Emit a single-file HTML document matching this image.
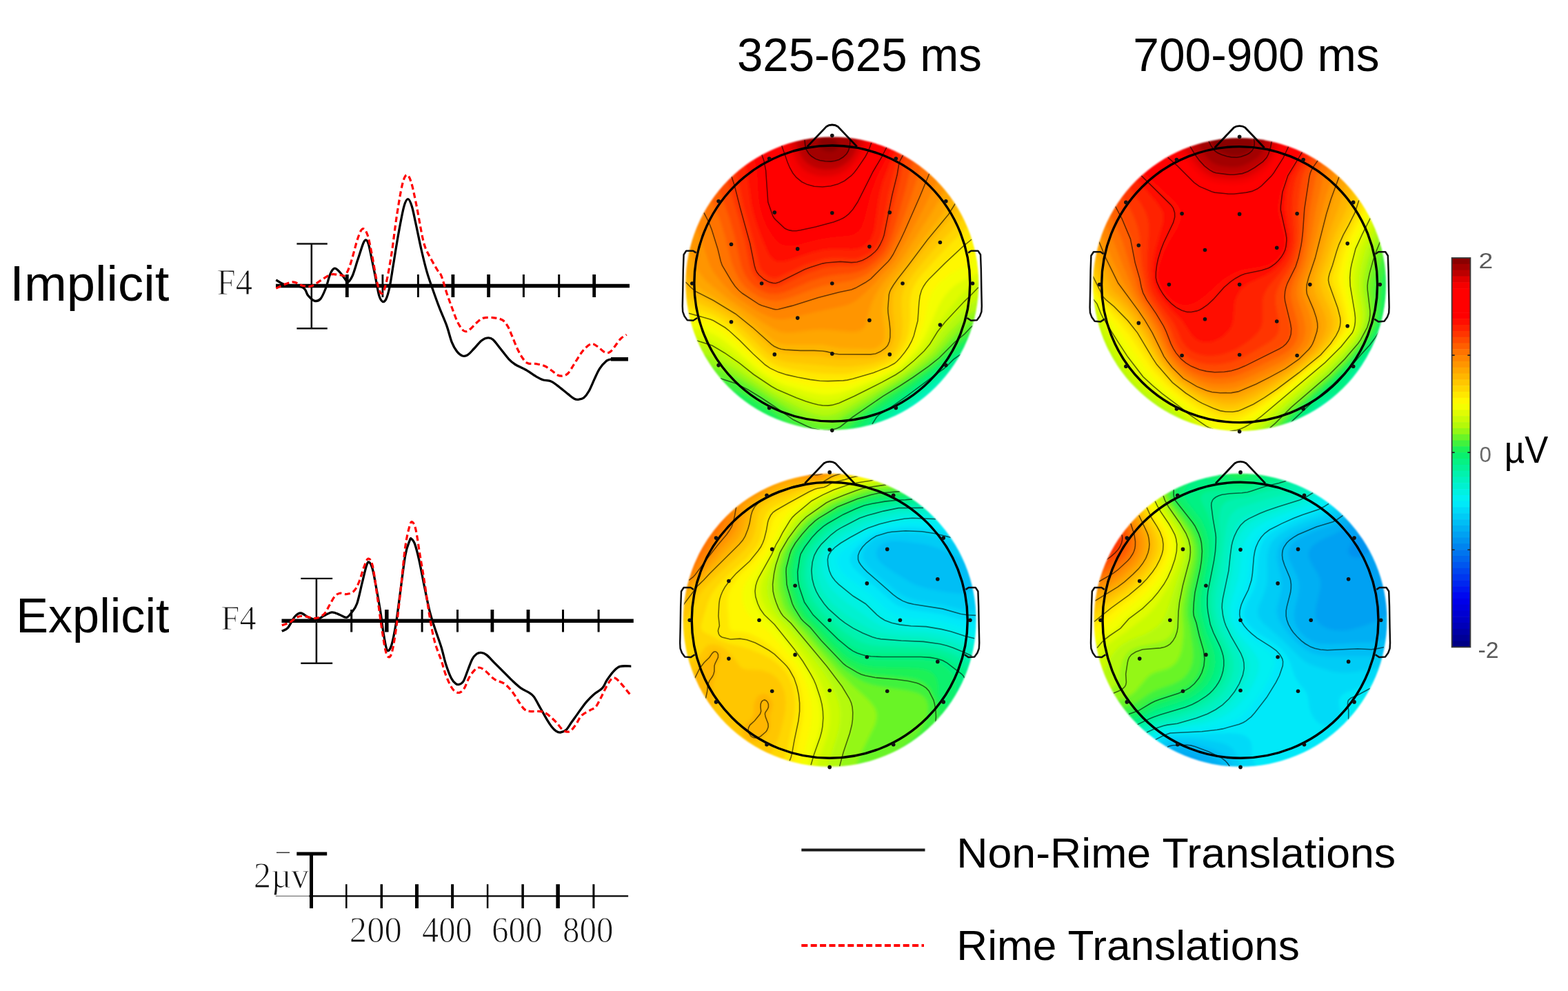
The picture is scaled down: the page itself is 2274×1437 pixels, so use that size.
<!DOCTYPE html>
<html lang="en">
<head>
<meta charset="utf-8">
<title>ERP waveforms and scalp topographies: Implicit vs Explicit, Rime vs Non-Rime Translations</title>
<style>
html,body{margin:0;padding:0;background:#fff;}
body{width:2274px;height:1437px;overflow:hidden;}
svg{display:block;}
text{white-space:pre;}
.sans{font-family:"Liberation Sans",sans-serif;}
.serif{font-family:"Liberation Serif",serif;}
</style>
</head>
<body>
<figure style="margin:0">
<svg width="2274" height="1437" viewBox="0 0 2274 1437">
<rect width="2274" height="1437" fill="#fff"/>
<g id="labels">
<text class="sans" x="1068.9" y="102.7" font-size="68" fill="#000" textLength="355.1" lengthAdjust="spacingAndGlyphs">325-625 ms</text>
<text class="sans" x="1643.3" y="102.7" font-size="68" fill="#000" textLength="357.4" lengthAdjust="spacingAndGlyphs">700-900 ms</text>
<text class="sans" x="14.3" y="435.5" font-size="72" fill="#000" textLength="231" lengthAdjust="spacingAndGlyphs">Implicit</text>
<text class="sans" x="23.2" y="916.7" font-size="71" fill="#000" textLength="222.4" lengthAdjust="spacingAndGlyphs">Explicit</text>
<text class="serif" x="314.5" y="426.7" font-size="51.9" fill="#111" textLength="51.6" lengthAdjust="spacingAndGlyphs" stroke="#fff" stroke-width="1.1" stroke-linejoin="round">F4</text>
<text class="serif" x="320.5" y="913.2" font-size="51.1" fill="#111" textLength="51.1" lengthAdjust="spacingAndGlyphs" stroke="#fff" stroke-width="1.1" stroke-linejoin="round">F4</text>
<text class="serif" x="367.8" y="1286.5" font-size="53.2" fill="#111" textLength="80.3" lengthAdjust="spacingAndGlyphs" stroke="#fff" stroke-width="1.1" stroke-linejoin="round">2µv</text>
<text class="serif" x="506.8" y="1365.6" font-size="52.6" fill="#111" textLength="76.1" lengthAdjust="spacingAndGlyphs" stroke="#fff" stroke-width="1.1" stroke-linejoin="round">200</text>
<text class="serif" x="611.9" y="1365.6" font-size="52.6" fill="#111" textLength="72.8" lengthAdjust="spacingAndGlyphs" stroke="#fff" stroke-width="1.1" stroke-linejoin="round">400</text>
<text class="serif" x="712.9" y="1365.6" font-size="52.6" fill="#111" textLength="73.6" lengthAdjust="spacingAndGlyphs" stroke="#fff" stroke-width="1.1" stroke-linejoin="round">600</text>
<text class="serif" x="816" y="1365.6" font-size="52.6" fill="#111" textLength="73.6" lengthAdjust="spacingAndGlyphs" stroke="#fff" stroke-width="1.1" stroke-linejoin="round">800</text>
<text class="sans" x="1387.3" y="1257.7" font-size="60.4" fill="#000" textLength="636.8" lengthAdjust="spacingAndGlyphs">Non-Rime Translations</text>
<text class="sans" x="1387.3" y="1392.4" font-size="60.4" fill="#000" textLength="497.6" lengthAdjust="spacingAndGlyphs">Rime Translations</text>
<text class="sans" x="2144.6" y="388.8" font-size="32" fill="#5a5a5a" textLength="20.7" lengthAdjust="spacingAndGlyphs">2</text>
<text class="sans" x="2145.6" y="670" font-size="32" fill="#6a6a6a" textLength="17.4" lengthAdjust="spacingAndGlyphs">0</text>
<text class="sans" x="2143.4" y="953.6" font-size="32.8" fill="#5a5a5a" textLength="30.1" lengthAdjust="spacingAndGlyphs">-2</text>
<text class="sans" x="2181.8" y="670.7" font-size="54.6" fill="#000" textLength="63.4" lengthAdjust="spacingAndGlyphs">µV</text>
</g>
<g id="erp-waveforms" fill="none">
<line x1="400" y1="414.5" x2="913" y2="414.5" stroke="#000" stroke-width="5.5"/>
<line x1="503.3" y1="398" x2="503.3" y2="431" stroke="#000" stroke-width="4.8"/>
<line x1="554.9" y1="398" x2="554.9" y2="431" stroke="#000" stroke-width="2.8"/>
<line x1="606.4" y1="398" x2="606.4" y2="431" stroke="#000" stroke-width="2.8"/>
<line x1="656.9" y1="398" x2="656.9" y2="431" stroke="#000" stroke-width="4.8"/>
<line x1="708.6" y1="398" x2="708.6" y2="431" stroke="#000" stroke-width="4.8"/>
<line x1="759.4" y1="398" x2="759.4" y2="431" stroke="#000" stroke-width="3"/>
<line x1="810.7" y1="398" x2="810.7" y2="431" stroke="#000" stroke-width="3"/>
<line x1="861.7" y1="398" x2="861.7" y2="431" stroke="#000" stroke-width="4.8"/>
<line x1="451.8" y1="353.5" x2="451.8" y2="476.5" stroke="#111" stroke-width="2.6"/>
<line x1="430.4" y1="353.5" x2="474.8" y2="353.5" stroke="#111" stroke-width="2.4"/>
<line x1="430.4" y1="476.3" x2="474.8" y2="476.3" stroke="#111" stroke-width="2.4"/>
<path d="M400.3 405.9C402.4 407.1 406.8 411.1 413.2 412.9C419.6 414.7 433.3 414.2 438.9 416.8C444.5 419.4 443.9 425.2 446.7 428.4C449.5 431.6 452.7 435.2 455.7 436.1C458.7 437 461.9 436.5 464.7 433.5C467.5 430.5 470 424 472.4 418C474.8 412 476.8 402.2 478.9 397.4C481 392.6 482.9 389.6 485.3 389.2C487.7 388.8 490.4 392.2 493 394.9C495.6 397.6 498.9 402.8 500.8 405.2C502.7 407.6 502.9 409.9 504.6 409C506.3 408.1 508.7 405.4 511.1 400C513.5 394.6 516.2 384.5 518.8 376.8C521.4 369.1 524.6 358.4 526.5 353.6C528.4 348.8 529.1 348 530.4 348C531.7 348 532.8 348.8 534.3 353.6C535.8 358.4 537.7 368.6 539.4 376.8C541.1 385 542.9 394 544.6 402.6C546.3 411.2 548 422.6 549.7 428.4C551.4 434.2 553.2 436.5 554.9 437.4C556.6 438.2 558.3 437.1 560 433.5C561.7 429.9 563.5 423.6 565.2 415.5C566.9 407.4 568.2 397.5 570.3 384.6C572.4 371.7 575.4 352.4 578 338.2C580.6 324 583.5 307.9 585.8 299.6C588.1 291.4 589.8 288.7 591.7 288.7C593.6 288.7 595.4 293.1 597.4 299.6C599.4 306.1 601.4 317.2 603.8 327.9C606.1 338.6 608.9 352.8 611.5 364C614.1 375.2 616.7 385.9 619.3 394.9C621.9 403.9 624 409.4 627 418C630 426.6 633.8 437.4 637.3 446.4C640.8 455.4 644.7 463.6 647.7 471.9C650.7 480.2 652.8 490 655.3 496.4C657.8 502.8 660.5 506.8 663 510.1C665.5 513.4 668.1 515.2 670.6 516C673.1 516.8 675.5 516.5 678.3 514.7C681.1 513 684.2 508.9 687.5 505.5C690.8 502.1 694.9 496.6 698.2 494C701.5 491.4 704.6 490.1 707.4 489.9C710.2 489.6 712 489.9 715 492.5C718 495.1 721.9 500.8 725.7 505.5C729.5 510.2 734.4 517 738 520.8C741.6 524.6 743.1 525.9 747.2 528.5C751.3 531.1 757.4 533.3 762.5 536.2C767.6 539.1 773.7 543.7 777.8 546.1C781.9 548.5 783.4 549.6 787 550.7C790.6 551.9 795.6 551.6 799.2 553C802.8 554.4 804.3 556 808.4 559.1C812.5 562.2 819.6 568.2 823.7 571.4C827.8 574.6 830.4 577 832.9 578.3C835.4 579.6 836.7 579.6 839 579.3C841.3 579 844.2 578.8 846.7 576.7C849.2 574.6 851.8 571.3 854.3 566.8C856.8 562.3 859.5 555.3 862 549.9C864.5 544.5 866.8 538.9 869.6 534.6C872.4 530.3 876 526.2 878.8 523.9C881.6 521.6 881.3 521.3 886.5 520.8C891.7 520.3 906.2 520.8 910.2 520.8" fill="none" stroke="#000" stroke-width="3.3" stroke-linejoin="round" stroke-linecap="butt"/>
<line x1="886" y1="520.8" x2="911" y2="520.8" stroke="#000" stroke-width="5.5"/>
<path d="M400.3 418C404.2 416.5 417.1 409.6 423.5 409C429.9 408.4 434.2 413.2 438.9 414.2C443.6 415.2 447.1 416.3 451.8 414.8C456.5 413.3 462.6 408 467.3 405.2C472 402.4 475.9 399.1 480.2 398C484.5 396.9 489.6 398.6 493 398.7C496.4 398.8 498.2 401.5 500.8 398.7C503.4 395.9 505.5 390.8 508.5 382C511.5 373.2 515.9 354.3 518.8 345.9C521.7 337.5 523.6 332.6 526 331.8C528.4 331 530.8 334.6 533 340.8C535.2 347 537 357.5 539.4 369.1C541.8 380.7 544.7 400.9 547.1 410.3C549.5 419.8 551.5 425.8 553.6 425.8C555.8 425.8 557.6 419.8 560 410.3C562.4 400.9 565.1 385.4 567.7 369.1C570.3 352.8 572.9 329.1 575.5 312.4C578.1 295.6 580.9 278.4 583.2 268.6C585.6 258.8 587.5 254.5 589.6 253.7C591.8 252.8 593.7 256.3 596.1 263.5C598.5 270.7 601.2 284.6 603.8 297C606.4 309.4 609.4 327.9 611.5 338.2C613.6 348.5 614.6 352.8 616.7 358.8C618.9 364.8 621.4 368.7 624.4 374.3C627.4 379.9 632.1 388 634.7 392.3C637.3 396.6 637.8 394.5 640 399.9C642.2 405.2 645.2 416.8 647.7 424.4C650.2 432 652.8 438.9 655.3 445.8C657.8 452.7 660.5 460.3 663 465.7C665.5 471.1 668.4 475.5 670.6 478C672.8 480.5 674 481 676 480.7C678 480.4 680.2 478.6 682.9 476.4C685.6 474.2 689 469.9 692 467.3C695 464.8 697.1 462.2 701.2 461.1C705.3 460 711.9 460.3 716.5 460.8C721.1 461.3 725.5 462.1 728.8 464.2C732.1 466.3 734.2 469.6 736.5 473.4C738.8 477.2 740.3 481.8 742.6 487.2C744.9 492.6 747.7 500.1 750.2 505.5C752.8 510.9 755.4 515.8 757.9 519.3C760.4 522.8 762.2 525.3 765.5 526.7C768.8 528.1 773.7 527 777.8 527.7C781.9 528.4 786.2 529.1 790 530.8C793.8 532.5 797.6 535.5 800.7 537.7C803.8 539.9 805.9 542.6 808.4 543.8C810.9 545 813.5 545.4 816 545C818.5 544.6 821.1 544 823.7 541.5C826.3 539 828.9 534 831.4 530C833.9 526 836.5 521.6 839 517.8C841.5 514 843.6 510.3 846.7 507.1C849.8 503.9 854.1 499.4 857.4 498.6C860.7 497.8 863.3 500.4 866.6 502.5C869.9 504.6 874.2 509.6 877.3 510.9C880.4 512.2 882.5 511.8 885 510.1C887.5 508.4 890.1 504.1 892.6 500.9C895.1 497.7 897.6 493.6 900.3 491C903 488.4 907.3 486.2 908.7 485.3" fill="none" stroke="#f00" stroke-width="3.2" stroke-dasharray="8 4.5" stroke-linejoin="round"/>
<line x1="408.5" y1="900.2" x2="918.8" y2="900.2" stroke="#000" stroke-width="5.5"/>
<line x1="509.7" y1="884" x2="509.7" y2="916.5" stroke="#000" stroke-width="3"/>
<line x1="560.8" y1="884" x2="560.8" y2="916.5" stroke="#000" stroke-width="5.5"/>
<line x1="612.1" y1="884" x2="612.1" y2="916.5" stroke="#000" stroke-width="3"/>
<line x1="663.5" y1="884" x2="663.5" y2="916.5" stroke="#000" stroke-width="3"/>
<line x1="713.9" y1="884" x2="713.9" y2="916.5" stroke="#000" stroke-width="4.8"/>
<line x1="766" y1="884" x2="766" y2="916.5" stroke="#000" stroke-width="4.8"/>
<line x1="816.5" y1="884" x2="816.5" y2="916.5" stroke="#000" stroke-width="3"/>
<line x1="868.1" y1="884" x2="868.1" y2="916.5" stroke="#000" stroke-width="3"/>
<line x1="458.9" y1="838.9" x2="458.9" y2="961.7" stroke="#111" stroke-width="2.6"/>
<line x1="436.3" y1="838.9" x2="482.2" y2="838.9" stroke="#111" stroke-width="2.4"/>
<line x1="436.3" y1="961.7" x2="482.2" y2="961.7" stroke="#111" stroke-width="2.4"/>
<path d="M408.8 915.3C410.2 914.5 414.4 913.8 417.5 910.3C420.6 906.8 424.5 897.5 427.6 894C430.7 890.5 433 888.8 436.3 889C439.6 889.2 443.8 893.8 447.6 895.3C451.4 896.8 455.1 898.7 458.9 898.3C462.6 897.9 466.4 894.5 470.1 892.8C473.9 891 477.6 888 481.4 887.8C485.2 887.6 489.1 890.2 492.7 891.5C496.2 892.8 499.8 895.9 502.7 895.3C505.6 894.7 507.7 891.1 510.2 887.8C512.7 884.5 515.2 882.4 517.7 875.3C520.2 868.2 522.9 854.4 525.2 845.2C527.5 836 529.8 825.2 531.5 820.2C533.2 815.2 533.8 814.3 535.3 815.1C536.8 815.9 538.6 819.4 540.3 825.2C542 831.1 543.4 840.2 545.3 850.2C547.2 860.2 549.6 873.6 551.5 885.3C553.4 897 554.8 910.7 556.5 920.3C558.2 929.9 559.6 940.4 561.5 942.9C563.4 945.4 565.7 941.7 567.8 935.4C569.9 929.1 572 917.8 574.1 905.3C576.2 892.8 578 876.9 580.3 860.2C582.6 843.5 585.5 817.8 587.8 805.1C590.1 792.4 592.6 787.8 594.1 783.8C595.6 779.8 595.4 780.4 596.6 781.3C597.9 782.1 599.7 783.7 601.6 788.9C603.5 794.1 605.6 802.4 607.9 812.6C610.2 822.8 612.9 838.1 615.4 850.2C617.9 862.3 620.4 875.3 622.9 885.3C625.4 895.3 627.5 901.4 630.4 910.3C633.2 919.1 637.3 929.7 640 938.4C642.7 947.1 644 954.9 646.4 962.4C648.8 969.9 652 978.4 654.4 983.2C656.8 988 658.9 989.7 660.8 991.2C662.7 992.8 663.7 993 665.6 992.5C667.5 992 669.9 991.4 672 988C674.1 984.6 676.3 977.3 678.4 972C680.5 966.7 682.7 960 684.8 956C686.9 952 689.1 949.9 691.2 948.3C693.3 946.7 695.2 946.2 697.6 946.4C700 946.6 702.4 947.2 705.6 949.6C708.8 952 712.8 956.8 716.8 960.8C720.8 964.8 725.3 969.3 729.6 973.6C733.9 977.9 738.1 982.4 742.4 986.4C746.7 990.4 750.9 994.5 755.2 997.6C759.5 1000.7 764.8 1002.7 768 1004.8C771.2 1006.9 772.3 1007.6 774.4 1010.4C776.5 1013.2 778.7 1017.9 780.8 1021.6C782.9 1025.4 785.1 1029.2 787.2 1032.9C789.3 1036.7 791.5 1040.6 793.6 1044.1C795.7 1047.6 797.9 1051 800 1053.7C802.1 1056.4 804.4 1058.7 806.5 1060.1C808.6 1061.5 810.5 1062.3 812.9 1062C815.3 1061.7 818.2 1061 820.9 1058.5C823.6 1056 826.2 1051 828.9 1047.3C831.6 1043.6 834.2 1039.8 836.9 1036.1C839.6 1032.4 842.5 1028.1 844.9 1024.9C847.3 1021.7 848.6 1019.8 851.3 1016.8C854 1013.8 857.2 1010.4 860.9 1007.2C864.6 1004 870.5 1001.1 873.7 997.6C876.9 994.1 877.4 990.4 880.1 986.4C882.8 982.4 886.5 976.9 889.7 973.6C892.9 970.3 895 967.6 899.3 966.4C903.6 965.1 912.6 966.1 915.3 966.1" fill="none" stroke="#000" stroke-width="3.3" stroke-linejoin="round"/>
<path d="M408.8 906.6C410.7 906 416.5 904.7 420 902.8C423.5 900.9 426.7 896.9 430 895.3C433.3 893.7 435.4 893.1 440 893.3C444.6 893.5 452.6 897 457.6 896.5C462.6 896 466.8 893.4 470.1 890.3C473.5 887.2 475.2 882 477.7 877.8C480.2 873.6 482.7 868.1 485.2 865.2C487.7 862.3 489.8 860.8 492.7 860.2C495.6 859.6 499.4 861.9 502.7 861.5C506 861.1 509.8 860.4 512.7 857.7C515.6 855 517.7 851 520.2 845.2C522.7 839.4 525.4 828.6 527.7 822.7C530 816.9 531.9 810.5 534 810.1C536.1 809.7 538.2 811.9 540.3 820.2C542.4 828.6 544.4 846 546.5 860.2C548.6 874.4 550.7 891.5 552.8 905.3C554.9 919.1 557.1 935 559 942.9C560.9 950.8 562.4 952.9 564.1 952.9C565.8 952.9 567.2 950.8 569.1 942.9C571 935 573.2 920.8 575.3 905.3C577.4 889.8 579.5 869 581.6 850.2C583.7 831.4 585.7 807.2 587.8 792.6C589.9 778 592.4 768.5 594.1 762.6C595.8 756.7 596.4 756.2 597.9 757C599.4 757.8 601 759.6 602.9 767.6C604.8 775.6 607 792.6 609.1 805.1C611.2 817.6 613.1 828.1 615.4 842.7C617.7 857.3 620.4 878.2 622.9 892.8C625.4 907.4 627.5 919.6 630.4 930.4C633.2 941.2 637.3 949.6 640 957.6C642.7 965.6 644 972 646.4 978.4C648.8 984.8 652 991.9 654.4 996C656.8 1000.1 658.7 1001.9 660.8 1003.2C662.9 1004.5 665.1 1004.9 667.2 1004C669.3 1003.1 671.5 1001.1 673.6 997.6C675.7 994.1 677.6 987.5 680 983.2C682.4 978.9 685.5 974.5 688 972C690.5 969.5 692.5 967.9 695.2 968C697.9 968.1 700.4 970 704 972.8C707.6 975.6 712.3 981.7 716.8 984.8C721.3 987.9 726.9 988.3 731.2 991.2C735.5 994.1 738.9 998.1 742.4 1002.4C745.9 1006.7 749.1 1012.5 752 1016.8C754.9 1021.1 757.3 1025.6 760 1028C762.7 1030.4 764 1030.7 768 1031.3C772 1031.9 780 1031.1 784 1031.6C788 1032.1 789.3 1033 792 1034.5C794.7 1036 797.3 1038.5 800 1040.9C802.7 1043.3 805.6 1046.2 808 1048.9C810.4 1051.6 812.4 1054.9 814.5 1056.9C816.6 1058.9 818.8 1060.4 820.9 1060.9C823 1061.4 824.9 1061.7 827.3 1060C829.7 1058.3 832.6 1054.2 835.3 1050.5C838 1046.8 839.8 1041.2 843.3 1037.7C846.8 1034.2 852.6 1031.8 856.1 1029.7C859.6 1027.6 861.4 1028.1 864.1 1024.9C866.8 1021.7 869.4 1015.5 872.1 1010.4C874.8 1005.3 877.7 998.7 880.1 994.4C882.5 990.1 884.5 986.7 886.5 984.8C888.5 982.9 890 982.4 892.1 983.2C894.2 984 896.8 986.9 899.3 989.6C901.8 992.3 904.8 996.1 907.3 999.2C909.8 1002.3 913.3 1006.5 914.5 1008" fill="none" stroke="#f00" stroke-width="3.2" stroke-dasharray="8 4.5" stroke-linejoin="round"/>
<line x1="448.2" y1="1299.3" x2="911.1" y2="1299.3" stroke="#000" stroke-width="2.2"/>
<line x1="399.7" y1="1299.3" x2="448.2" y2="1299.3" stroke="#777" stroke-width="1.2"/>
<line x1="401" y1="1236.3" x2="420" y2="1236.3" stroke="#333" stroke-width="1.5"/>
<line x1="451.5" y1="1238" x2="451.5" y2="1317.1" stroke="#000" stroke-width="5"/>
<line x1="430.3" y1="1238" x2="474.2" y2="1238" stroke="#000" stroke-width="5"/>
<line x1="502.3" y1="1282.2" x2="502.3" y2="1317.1" stroke="#000" stroke-width="2.5"/>
<line x1="553.3" y1="1282.2" x2="553.3" y2="1317.1" stroke="#000" stroke-width="3.5"/>
<line x1="604.5" y1="1282.2" x2="604.5" y2="1317.1" stroke="#000" stroke-width="5"/>
<line x1="656.1" y1="1282.2" x2="656.1" y2="1317.1" stroke="#000" stroke-width="4"/>
<line x1="707.1" y1="1282.2" x2="707.1" y2="1317.1" stroke="#000" stroke-width="2.5"/>
<line x1="758.1" y1="1282.2" x2="758.1" y2="1317.1" stroke="#000" stroke-width="3.5"/>
<line x1="809.1" y1="1282.2" x2="809.1" y2="1317.1" stroke="#000" stroke-width="5.5"/>
<line x1="860.9" y1="1282.2" x2="860.9" y2="1317.1" stroke="#000" stroke-width="3"/>
<line x1="1162.3" y1="1232.6" x2="1341.5" y2="1232.6" stroke="#1a1a1a" stroke-width="4"/>
<line x1="1162.3" y1="1371" x2="1340" y2="1371" stroke="#f00" stroke-width="4.2" stroke-dasharray="9 4.4"/>
</g>
<g id="colorbar">
<rect x="2105.6" y="374" width="26.8" height="9.4" fill="#8a0000"/>
<rect x="2105.6" y="382.8" width="26.8" height="9.4" fill="#a30000"/>
<rect x="2105.6" y="391.6" width="26.8" height="9.4" fill="#bc0000"/>
<rect x="2105.6" y="400.5" width="26.8" height="9.4" fill="#df0000"/>
<rect x="2105.6" y="409.3" width="26.8" height="9.4" fill="#f50000"/>
<rect x="2105.6" y="418.1" width="26.8" height="9.4" fill="#ff0000"/>
<rect x="2105.6" y="426.9" width="26.8" height="9.4" fill="#ff0000"/>
<rect x="2105.6" y="435.7" width="26.8" height="9.4" fill="#ff0000"/>
<rect x="2105.6" y="444.5" width="26.8" height="9.4" fill="#ff0000"/>
<rect x="2105.6" y="453.4" width="26.8" height="9.4" fill="#ff0000"/>
<rect x="2105.6" y="462.2" width="26.8" height="9.4" fill="#ff0e00"/>
<rect x="2105.6" y="471" width="26.8" height="9.4" fill="#ff2100"/>
<rect x="2105.6" y="479.8" width="26.8" height="9.4" fill="#ff3500"/>
<rect x="2105.6" y="488.6" width="26.8" height="9.4" fill="#ff4a00"/>
<rect x="2105.6" y="497.4" width="26.8" height="9.4" fill="#ff5e00"/>
<rect x="2105.6" y="506.3" width="26.8" height="9.4" fill="#ff7300"/>
<rect x="2105.6" y="515.1" width="26.8" height="9.4" fill="#ff8500"/>
<rect x="2105.6" y="523.9" width="26.8" height="9.4" fill="#ff9500"/>
<rect x="2105.6" y="532.7" width="26.8" height="9.4" fill="#ffa600"/>
<rect x="2105.6" y="541.5" width="26.8" height="9.4" fill="#ffb600"/>
<rect x="2105.6" y="550.3" width="26.8" height="9.4" fill="#ffc600"/>
<rect x="2105.6" y="559.2" width="26.8" height="9.4" fill="#ffd600"/>
<rect x="2105.6" y="568" width="26.8" height="9.4" fill="#ffe700"/>
<rect x="2105.6" y="576.8" width="26.8" height="9.4" fill="#fff700"/>
<rect x="2105.6" y="585.6" width="26.8" height="9.4" fill="#f4fe01"/>
<rect x="2105.6" y="594.4" width="26.8" height="9.4" fill="#dffc04"/>
<rect x="2105.6" y="603.2" width="26.8" height="9.4" fill="#cafb06"/>
<rect x="2105.6" y="612.1" width="26.8" height="9.4" fill="#b5f909"/>
<rect x="2105.6" y="620.9" width="26.8" height="9.4" fill="#94f714"/>
<rect x="2105.6" y="629.7" width="26.8" height="9.4" fill="#69f427"/>
<rect x="2105.6" y="638.5" width="26.8" height="9.4" fill="#41f23d"/>
<rect x="2105.6" y="647.3" width="26.8" height="9.4" fill="#1cf157"/>
<rect x="2105.6" y="656.1" width="26.8" height="9.4" fill="#09f06e"/>
<rect x="2105.6" y="665" width="26.8" height="9.4" fill="#06f183"/>
<rect x="2105.6" y="673.8" width="26.8" height="9.4" fill="#03f198"/>
<rect x="2105.6" y="682.6" width="26.8" height="9.4" fill="#01f2ad"/>
<rect x="2105.6" y="691.4" width="26.8" height="9.4" fill="#00f2bf"/>
<rect x="2105.6" y="700.2" width="26.8" height="9.4" fill="#00f1d0"/>
<rect x="2105.6" y="709.1" width="26.8" height="9.4" fill="#00f1e1"/>
<rect x="2105.6" y="717.9" width="26.8" height="9.4" fill="#00f0f2"/>
<rect x="2105.6" y="726.7" width="26.8" height="9.4" fill="#00e9f9"/>
<rect x="2105.6" y="735.5" width="26.8" height="9.4" fill="#00daf8"/>
<rect x="2105.6" y="744.3" width="26.8" height="9.4" fill="#00ccf6"/>
<rect x="2105.6" y="753.1" width="26.8" height="9.4" fill="#00bef5"/>
<rect x="2105.6" y="762" width="26.8" height="9.4" fill="#00aff3"/>
<rect x="2105.6" y="770.8" width="26.8" height="9.4" fill="#00a1f2"/>
<rect x="2105.6" y="779.6" width="26.8" height="9.4" fill="#0093f0"/>
<rect x="2105.6" y="788.4" width="26.8" height="9.4" fill="#0084ef"/>
<rect x="2105.6" y="797.2" width="26.8" height="9.4" fill="#0075ee"/>
<rect x="2105.6" y="806" width="26.8" height="9.4" fill="#0066ee"/>
<rect x="2105.6" y="814.9" width="26.8" height="9.4" fill="#0056ef"/>
<rect x="2105.6" y="823.7" width="26.8" height="9.4" fill="#0046ef"/>
<rect x="2105.6" y="832.5" width="26.8" height="9.4" fill="#0037ef"/>
<rect x="2105.6" y="841.3" width="26.8" height="9.4" fill="#0027ef"/>
<rect x="2105.6" y="850.1" width="26.8" height="9.4" fill="#0017f0"/>
<rect x="2105.6" y="858.9" width="26.8" height="9.4" fill="#0008f0"/>
<rect x="2105.6" y="867.8" width="26.8" height="9.4" fill="#0000ea"/>
<rect x="2105.6" y="876.6" width="26.8" height="9.4" fill="#0000de"/>
<rect x="2105.6" y="885.4" width="26.8" height="9.4" fill="#0000d2"/>
<rect x="2105.6" y="894.2" width="26.8" height="9.4" fill="#0000c6"/>
<rect x="2105.6" y="903" width="26.8" height="9.4" fill="#0000b8"/>
<rect x="2105.6" y="911.8" width="26.8" height="9.4" fill="#0000a7"/>
<rect x="2105.6" y="920.7" width="26.8" height="9.4" fill="#000096"/>
<rect x="2105.6" y="929.5" width="26.8" height="9.4" fill="#000085"/>
<rect x="2105.6" y="374" width="26.8" height="564.3" fill="none" stroke="#3a3a3a" stroke-width="1.8"/>
<path d="M2105.6 515.1h4M2132.4 515.1h-4" stroke="#222" stroke-width="1.6"/>
<path d="M2105.6 656.1h4M2132.4 656.1h-4" stroke="#222" stroke-width="1.6"/>
<path d="M2105.6 797.2h4M2132.4 797.2h-4" stroke="#222" stroke-width="1.6"/>
</g>
<g id="topomaps">
<defs><clipPath id="disk"><circle r="212.5"/></clipPath><filter id="sm" x="-10%" y="-10%" width="120%" height="120%"><feGaussianBlur stdDeviation="1.9"/></filter><filter id="edge" x="-5%" y="-5%" width="110%" height="110%"><feGaussianBlur stdDeviation="1.1"/></filter></defs>
<g id="topo-implicit-325-625" transform="translate(1206.8 411)">
<g filter="url(#edge)"><g clip-path="url(#disk)"><g filter="url(#sm)">
<circle r="226.5" fill="#00f1e1"/>
<path fill="#00f1d0" d="M-44-220l10 0 2-2 64 0 2 2 10 0 2 2 6 0 2 2 6 0 2 2 4 0 2 2 4 0 2 2 4 0 2 2 4 0 2 2 2 0 2 2 2 0 2 2 2 0 2 2 2 0 2 2 2 0 2 2 2 0 2 2 2 0 2 2 2 0 4 4 2 0 4 4 2 0 4 4 2 0 8 8 2 0 28 28 0 2 8 8 0 2 4 4 0 2 4 4 0 2 4 4 0 2 2 2 0 2 2 2 0 2 2 2 0 2 2 2 0 2 2 2 0 2 2 2 0 2 2 2 0 2 2 2 0 4 2 2 0 4 2 2 0 4 2 2 0 4 2 2 0 6 2 2 0 6 2 2 0 10 2 2 0 64-2 2 0 10-2 2 0 6-2 2 0 6-2 2 0 4-2 2 0 4-2 2 0 4-2 2 0 4-2 2 0 2-2 2 0 2-2 2 0 2-2 2 0 2-2 2 0 2-2 2 0 2-2 2 0 2-2 2 0 2-4 4 0 2-4 4 0 2-4 4 0 2-8 8 0 2-2 2-25.4 20-29.5 26-1.1 0-2 2-2 0-2 2-2 0-2 2-2 0-2 2-2 0-2 2-2 0-2 2-2 0-2 2-2 0-2 2-4 0-2 2-4 0-2 2-4 0-2 2-4 0-2 2-6 0-2 2-6 0-2 2-10 0-2 2-64 0-2-2-10 0-2-2-6 0-2-2-6 0-2-2-4 0-2-2-4 0-2-2-4 0-2-2-4 0-2-2-2 0-2-2-2 0-2-2-2 0-2-2-2 0-2-2-2 0-2-2-2 0-2-2-2 0-2-2-2 0-4-4-2 0-4-4-2 0-4-4-2 0-8-8-2 0-28-28 0-2-8-8 0-2-4-4 0-2-4-4 0-2-4-4 0-2-2-2 0-2-2-2 0-2-2-2 0-2-2-2 0-2-2-2 0-2-2-2 0-2-2-2 0-2-2-2 0-4-2-2 0-4-2-2 0-4-2-2 0-4-2-2 0-6-2-2 0-6-2-2 0-10-2-2 0-64 2-2 0-10 2-2 0-6 2-2 0-6 2-2 0-4 2-2 0-4 2-2 0-4 2-2 0-4 2-2 0-2 2-2 0-2 2-2 0-2 2-2 0-2 2-2 0-2 2-2 0-2 2-2 0-2 2-2 0-2 4-4 0-2 4-4 0-2 4-4 0-2 8-8 0-2 28-28 2 0 8-8 2 0 4-4 2 0 4-4 2 0 4-4 2 0 2-2 2 0 2-2 2 0 2-2 2 0 2-2 2 0 2-2 2 0 2-2 2 0 2-2 2 0 2-2 4 0 2-2 4 0 2-2 4 0 2-2 4 0 2-2 6 0 2-2 6 0 2-2z"/>
<path fill="#00f2bf" d="M-44-220l10 0 2-2 64 0 2 2 10 0 2 2 6 0 2 2 6 0 2 2 4 0 2 2 4 0 2 2 4 0 2 2 4 0 2 2 2 0 2 2 2 0 2 2 2 0 2 2 2 0 2 2 2 0 2 2 2 0 2 2 2 0 2 2 2 0 4 4 2 0 4 4 2 0 4 4 2 0 8 8 2 0 28 28 0 2 8 8 0 2 4 4 0 2 4 4 0 2 4 4 0 2 2 2 0 2 2 2 0 2 2 2 0 2 2 2 0 2 2 2 0 2 2 2 0 2 2 2 0 2 2 2 0 4 2 2 0 4 2 2 0 4 2 2 0 4 2 2 0 6 2 2 0 6 2 2 0 10 2 2 0 64-2 2 0 10-2 2 0 6-2 2 0 6-2 2 0 4-2 2 0 4-2 2 0 4-2 2 0 4-2 2 0 2-2 2 0 2-2 2 0 2-2 2 0 2-2 2 0 2-2 2 0 2-2 2 0 2-2 2 0 2-4 4 0 2-4 4 0 2-43.9 34-28.2 24-20.1 18-1.8 0-2 2-2 0-2 2-4 0-2 2-4 0-2 2-4 0-2 2-4 0-2 2-6 0-2 2-6 0-2 2-10 0-2 2-64 0-2-2-10 0-2-2-6 0-2-2-6 0-2-2-4 0-2-2-4 0-2-2-4 0-2-2-4 0-2-2-2 0-2-2-2 0-2-2-2 0-2-2-2 0-2-2-2 0-2-2-2 0-2-2-2 0-2-2-2 0-4-4-2 0-4-4-2 0-4-4-2 0-8-8-2 0-28-28 0-2-8-8 0-2-4-4 0-2-4-4 0-2-4-4 0-2-2-2 0-2-2-2 0-2-2-2 0-2-2-2 0-2-2-2 0-2-2-2 0-2-2-2 0-2-2-2 0-4-2-2 0-4-2-2 0-4-2-2 0-4-2-2 0-6-2-2 0-6-2-2 0-10-2-2 0-64 2-2 0-10 2-2 0-6 2-2 0-6 2-2 0-4 2-2 0-4 2-2 0-4 2-2 0-4 2-2 0-2 2-2 0-2 2-2 0-2 2-2 0-2 2-2 0-2 2-2 0-2 2-2 0-2 2-2 0-2 4-4 0-2 4-4 0-2 4-4 0-2 8-8 0-2 28-28 2 0 8-8 2 0 4-4 2 0 4-4 2 0 4-4 2 0 2-2 2 0 2-2 2 0 2-2 2 0 2-2 2 0 2-2 2 0 2-2 2 0 2-2 2 0 2-2 4 0 2-2 4 0 2-2 4 0 2-2 4 0 2-2 6 0 2-2 6 0 2-2z"/>
<path fill="#01f2ad" d="M-44-220l10 0 2-2 64 0 2 2 10 0 2 2 6 0 2 2 6 0 2 2 4 0 2 2 4 0 2 2 4 0 2 2 4 0 2 2 2 0 2 2 2 0 2 2 2 0 2 2 2 0 2 2 2 0 2 2 2 0 2 2 2 0 2 2 2 0 4 4 2 0 4 4 2 0 4 4 2 0 8 8 2 0 28 28 0 2 8 8 0 2 4 4 0 2 4 4 0 2 4 4 0 2 2 2 0 2 2 2 0 2 2 2 0 2 2 2 0 2 2 2 0 2 2 2 0 2 2 2 0 2 2 2 0 4 2 2 0 4 2 2 0 4 2 2 0 4 2 2 0 6 2 2 0 6 2 2 0 10 2 2 0 64-2 2 0 10-2 2 0 6-2 2 0 6-2 2 0 4-2 2 0 4-2 2 0 4-2 2 0 4-2 2 0 2-2 2 0 2-2 2 0 2-2 2 0 2-2 2 0 2-2 2 0 2-2 2 0 2-2 2 0 1.3-8 5.4-14 11.4-18.8 13.9-20.1 16-46.1 38-5 4.6-4.7 5.4-1.3 0-2 2-4 0-2 2-4 0-2 2-6 0-2 2-6 0-2 2-10 0-2 2-64 0-2-2-10 0-2-2-6 0-2-2-6 0-2-2-4 0-2-2-4 0-2-2-4 0-2-2-4 0-2-2-2 0-2-2-2 0-2-2-2 0-2-2-2 0-2-2-2 0-2-2-2 0-2-2-2 0-2-2-2 0-4-4-2 0-4-4-2 0-4-4-2 0-8-8-2 0-28-28 0-2-8-8 0-2-4-4 0-2-4-4 0-2-4-4 0-2-2-2 0-2-2-2 0-2-2-2 0-2-2-2 0-2-2-2 0-2-2-2 0-2-2-2 0-2-2-2 0-4-2-2 0-4-2-2 0-4-2-2 0-4-2-2 0-6-2-2 0-6-2-2 0-10-2-2 0-64 2-2 0-10 2-2 0-6 2-2 0-6 2-2 0-4 2-2 0-4 2-2 0-4 2-2 0-4 2-2 0-2 2-2 0-2 2-2 0-2 2-2 0-2 2-2 0-2 2-2 0-2 2-2 0-2 2-2 0-2 4-4 0-2 4-4 0-2 4-4 0-2 8-8 0-2 28-28 2 0 8-8 2 0 4-4 2 0 4-4 2 0 4-4 2 0 2-2 2 0 2-2 2 0 2-2 2 0 2-2 2 0 2-2 2 0 2-2 2 0 2-2 2 0 2-2 4 0 2-2 4 0 2-2 4 0 2-2 4 0 2-2 6 0 2-2 6 0 2-2z"/>
<path fill="#03f198" d="M-44-220l10 0 2-2 64 0 2 2 10 0 2 2 6 0 2 2 6 0 2 2 4 0 2 2 4 0 2 2 4 0 2 2 4 0 2 2 2 0 2 2 2 0 2 2 2 0 2 2 2 0 2 2 2 0 2 2 2 0 2 2 2 0 2 2 2 0 4 4 2 0 4 4 2 0 4 4 2 0 8 8 2 0 28 28 0 2 8 8 0 2 4 4 0 2 4 4 0 2 4 4 0 2 2 2 0 2 2 2 0 2 2 2 0 2 2 2 0 2 2 2 0 2 2 2 0 2 2 2 0 2 2 2 0 4 2 2 0 4 2 2 0 4 2 2 0 4 2 2 0 6 2 2 0 6 2 2 0 10 2 2 0 64-2 2 0 10-2 2 0 6-2 2 0 6-2 2 0 4-2 2 0 4-2 2 0 4-2 2 0 4-2 2 0 2-2 2 0 2-2 2 0 2-2 2 0 2-2 2 0 2-2 2.1-14 8.8-16 14-18 13-40 31.4-30.3 22.7-5.7 5.5-9.1 12.5-0.9 0-2 2-6 0-2 2-6 0-2 2-10 0-2 2-64 0-2-2-10 0-2-2-6 0-2-2-6 0-2-2-4 0-2-2-4 0-2-2-4 0-2-2-4 0-2-2-2 0-2-2-2 0-2-2-2 0-2-2-2 0-2-2-2 0-2-2-2 0-2-2-2 0-2-2-2 0-4-4-2 0-4-4-2 0-4-4-2 0-8-8-2 0-28-28 0-2-8-8 0-2-4-4 0-2-4-4 0-2-4-4 0-2-2-2 0-2-2-2 0-2-2-2 0-2-2-2 0-2-2-2 0-2-2-2 0-2-2-2 0-2-2-2 0-4-2-2 0-4-2-2 0-4-2-2 0-4-2-2 0-6-2-2 0-6-2-2 0-10-2-2 0-64 2-2 0-10 2-2 0-6 2-2 0-6 2-2 0-4 2-2 0-4 2-2 0-4 2-2 0-4 2-2 0-2 2-2 0-2 2-2 0-2 2-2 0-2 2-2 0-2 2-2 0-2 2-2 0-2 2-2 0-2 4-4 0-2 4-4 0-2 4-4 0-2 8-8 0-2 28-28 2 0 8-8 2 0 4-4 2 0 4-4 2 0 4-4 2 0 2-2 2 0 2-2 2 0 2-2 2 0 2-2 2 0 2-2 2 0 2-2 2 0 2-2 2 0 2-2 4 0 2-2 4 0 2-2 4 0 2-2 4 0 2-2 6 0 2-2 6 0 2-2z"/>
<path fill="#06f183" d="M-44-220l10 0 2-2 64 0 2 2 10 0 2 2 6 0 2 2 6 0 2 2 4 0 2 2 4 0 2 2 4 0 2 2 4 0 2 2 2 0 2 2 2 0 2 2 2 0 2 2 2 0 2 2 2 0 2 2 2 0 2 2 2 0 2 2 2 0 4 4 2 0 4 4 2 0 4 4 2 0 8 8 2 0 28 28 0 2 8 8 0 2 4 4 0 2 4 4 0 2 4 4 0 2 2 2 0 2 2 2 0 2 2 2 0 2 2 2 0 2 2 2 0 2 2 2 0 2 2 2 0 2 2 2 0 4 2 2 0 4 2 2 0 4 2 2 0 4 2 2 0 6 2 2 0 6 2 2 0 10 2 2 0 64-2 2 0 10-2 2 0 6-2 2 0 6-2 2 0 4-2 2 0 4-2 2 0 4-2 2 0 4-2 2 0 2-2 2 0 2-2 2 0 1.8-22.5 14.2-17.6 16-13.9 9.8-42 31.9-20 14.2-16 10.4-3.6 3.7-6.3 10-4.9 6-6 6-3.2 0-2 2-10 0-2 2-64 0-2-2-10 0-2-2-6 0-2-2-6 0-2-2-4 0-2-2-4 0-2-2-4 0-2-2-4 0-2-2-2 0-2-2-2 0-2-2-2 0-2-2-2 0-2-2-2 0-2-2-2 0-2-2-2 0-2-2-2 0-4-4-2 0-4-4-2 0-4-4-2 0-8-8-2 0-28-28 0-2-8-8 0-2-4-4 0-2-4-4 0-2-4-4 0-2-2-2 0-2-2-2 0-2-2-2 0-2-2-2 0-2-2-2 0-2-2-2 0-2-2-2 0-2-2-2 0-4-2-2 0-4-2-2 0-4-2-2 0-4-2-2 0-6-2-2 0-6-2-2 0-10-2-2 0-64 2-2 0-10 2-2 0-6 2-2 0-6 2-2 0-4 2-2 0-4 2-2 0-4 2-2 0-4 2-2 0-2 2-2 0-2 2-2 0-2 2-2 0-2 2-2 0-2 2-2 0-2 2-2 0-2 2-2 0-2 4-4 0-2 4-4 0-2 4-4 0-2 8-8 0-2 28-28 2 0 8-8 2 0 4-4 2 0 4-4 2 0 4-4 2 0 2-2 2 0 2-2 2 0 2-2 2 0 2-2 2 0 2-2 2 0 2-2 2 0 2-2 2 0 2-2 4 0 2-2 4 0 2-2 4 0 2-2 4 0 2-2 6 0 2-2 6 0 2-2z"/>
<path fill="#09f06e" d="M-44-220l10 0 2-2 64 0 2 2 10 0 2 2 6 0 2 2 6 0 2 2 4 0 2 2 4 0 2 2 4 0 2 2 4 0 2 2 2 0 2 2 2 0 2 2 2 0 2 2 2 0 2 2 2 0 2 2 2 0 2 2 2 0 2 2 2 0 4 4 2 0 4 4 2 0 4 4 2 0 8 8 2 0 28 28 0 2 8 8 0 2 4 4 0 2 4 4 0 2 4 4 0 2 2 2 0 2 2 2 0 2 2 2 0 2 2 2 0 2 2 2 0 2 2 2 0 2 2 2 0 2 2 2 0 4 2 2 0 4 2 2 0 4 2 2 0 4 2 2 0 6 2 2 0 6 2 2 0 10 2 2 0 64-2 2 0 10-2 2 0 6-2 2 0 6-2 2 0 4-2 2 0 4-2 2 0 4-2 2 0 4-2 2-30 20.6-12 11.7-7 5.7-51 37.1-40.6 26.9-4.2 4-7.2 10-4 4.5-12 11.2-2.8 2.3-1.2 0-2 2-64 0-2-2-10 0-2-2-6 0-2-2-6 0-2-2-4 0-2-2-4 0-2-2-4 0-2-2-4 0-2-2-2 0-2-2-2 0-2-2-2 0-2-2-2 0-2-2-2 0-2-2-2 0-2-2-2 0-2-2-2 0-4-4-2 0-4-4-2 0-4-4-2 0-8-8-2 0-28-28 0-2-8-8 0-2-4-4 0-2-4-4 0-2-4-4 0-2-2-2 0-2-2-2 0-2-2-2 0-2-2-2 0-2-2-2 0-2-2-2 0-2-2-2 0-2-2-2 0-4-2-2 0-4-2-2 0-4-2-2 0-4-2-2 0-6-2-2 0-6-2-2 0-10-2-2 0-64 2-2 0-10 2-2 0-6 2-2 0-6 2-2 0-4 2-2 0-4 2-2 0-4 2-2 0-4 2-2 0-2 2-2 0-2 2-2 0-2 2-2 0-2 2-2 0-2 2-2 0-2 2-2 0-2 2-2 0-2 4-4 0-2 4-4 0-2 4-4 0-2 8-8 0-2 28-28 2 0 8-8 2 0 4-4 2 0 4-4 2 0 4-4 2 0 2-2 2 0 2-2 2 0 2-2 2 0 2-2 2 0 2-2 2 0 2-2 2 0 2-2 2 0 2-2 4 0 2-2 4 0 2-2 4 0 2-2 4 0 2-2 6 0 2-2 6 0 2-2z"/>
<path fill="#1cf157" d="M-44-220l10 0 2-2 64 0 2 2 10 0 2 2 6 0 2 2 6 0 2 2 4 0 2 2 4 0 2 2 4 0 2 2 4 0 2 2 2 0 2 2 2 0 2 2 2 0 2 2 2 0 2 2 2 0 2 2 2 0 2 2 2 0 2 2 2 0 4 4 2 0 4 4 2 0 4 4 2 0 8 8 2 0 28 28 0 2 8 8 0 2 4 4 0 2 4 4 0 2 4 4 0 2 2 2 0 2 2 2 0 2 2 2 0 2 2 2 0 2 2 2 0 2 2 2 0 2 2 2 0 2 2 2 0 4 2 2 0 4 2 2 0 4 2 2 0 4 2 2 0 6 2 2 0 6 2 2 0 10 2 2 0 64-2 2 0 10-2 2 0 6-2 2 0 6-2 2 0 4-2 2 0 4-2 2 0 0.9-34 25.8-16 15.1-7.8 6.2-46.2 32.9-44.1 29.1-4.7 4-11.2 11.6-10 9.2-10 8.4-7 4.8-51 0-2-2-10 0-2-2-6 0-2-2-6 0-2-2-2.9 0-3.3-2-21.8-14.8-10-6.2-10-4.9-14-5.7-14-8.5-12-5.9-22-22 0-2-8-8 0-2-4-4 0-2-4-4 0-2-4-4 0-2-2-2 0-2-2-2 0-2-2-2 0-2-2-2 0-2-2-2 0-2-2-2 0-2-2-2 0-2-2-2 0-4-2-2 0-4-2-2 0-4-2-2 0-4-2-2 0-6-2-2 0-6-2-2 0-10-2-2 0-64 2-2 0-10 2-2 0-6 2-2 0-6 2-2 0-4 2-2 0-4 2-2 0-4 2-2 0-4 2-2 0-2 2-2 0-2 2-2 0-2 2-2 0-2 2-2 0-2 2-2 0-2 2-2 0-2 2-2 0-2 4-4 0-2 4-4 0-2 4-4 0-2 8-8 0-2 28-28 2 0 8-8 2 0 4-4 2 0 4-4 2 0 4-4 2 0 2-2 2 0 2-2 2 0 2-2 2 0 2-2 2 0 2-2 2 0 2-2 2 0 2-2 2 0 2-2 4 0 2-2 4 0 2-2 4 0 2-2 4 0 2-2 6 0 2-2 6 0 2-2z"/>
<path fill="#41f23d" d="M-44-220l10 0 2-2 64 0 2 2 10 0 2 2 6 0 2 2 6 0 2 2 4 0 2 2 4 0 2 2 4 0 2 2 4 0 2 2 2 0 2 2 2 0 2 2 2 0 2 2 2 0 2 2 2 0 2 2 2 0 2 2 2 0 2 2 2 0 4 4 2 0 4 4 2 0 4 4 2 0 8 8 2 0 28 28 0 2 8 8 0 2 4 4 0 2 4 4 0 2 4 4 0 2 2 2 0 2 2 2 0 2 2 2 0 2 2 2 0 2 2 2 0 2 2 2 0 2 2 2 0 2 2 2 0 4 2 2 0 4 2 2 0 4 2 2 0 4 2 2 0 6 2 2 0 6 2 2 0 10 2 2 0 64-2 2 0 10-2 2 0 6-2 2 0 6-2 2 0 1.1-7 4.9-11.1 10-13.9 10.9-24.6 23.1-15.4 12-24 16.9-18 12-21.1 13.1-18.9 13.1-9.3 6.9-28.7 23.9-6 4.4-10 4.8-6 1.6-6 0.8-8 0.2-10-1.2-9.2-2.5-9.7-4-17.1-8.5-33.2-23.5-12.8-7.9-21.3-12.1-14.7-6.9-28-9.1-2-2 0-2-8-8 0-2-4-4 0-2-4-4 0-2-4-4 0-2-2-2 0-2-2-2 0-2-2-2 0-2-2-2 0-2-2-2 0-2-2-2 0-2-2-2 0-2-2-2 0-4-2-2 0-4-2-2 0-4-2-2 0-4-2-2 0-6-2-2 0-6-2-2 0-10-2-2 0-64 2-2 0-10 2-2 0-6 2-2 0-6 2-2 0-4 2-2 0-4 2-2 0-4 2-2 0-4 2-2 0-2 2-2 0-2 2-2 0-2 2-2 0-2 2-2 0-2 2-2 0-2 2-2 0-2 2-2 0-2 4-4 0-2 4-4 0-2 4-4 0-2 8-8 0-2 28-28 2 0 8-8 2 0 4-4 2 0 4-4 2 0 4-4 2 0 2-2 2 0 2-2 2 0 2-2 2 0 2-2 2 0 2-2 2 0 2-2 2 0 2-2 2 0 2-2 4 0 2-2 4 0 2-2 4 0 2-2 4 0 2-2 6 0 2-2 6 0 2-2z"/>
<path fill="#69f427" d="M-44-220l10 0 2-2 64 0 2 2 10 0 2 2 6 0 2 2 6 0 2 2 4 0 2 2 4 0 2 2 4 0 2 2 4 0 2 2 2 0 2 2 2 0 2 2 2 0 2 2 2 0 2 2 2 0 2 2 2 0 2 2 2 0 2 2 2 0 4 4 2 0 4 4 2 0 4 4 2 0 8 8 2 0 28 28 0 2 8 8 0 2 4 4 0 2 4 4 0 2 4 4 0 2 2 2 0 2 2 2 0 2 2 2 0 2 2 2 0 2 2 2 0 2 2 2 0 2 2 2 0 2 2 2 0 4 2 2 0 4 2 2 0 4 2 2 0 4 2 2 0 6 2 2 0 6 2 2 0 10 2 2 0 64-2 2 0 10-2 2 0 5.9-16 10.2-10 10.4-14 11.8-23.4 23.7-16.6 13.2-36 24.4-28 17.2-45.7 31.2-16.3 12.8-6.4 3.2-9.6 2.1-10 0.2-12-2.1-6.4-2.2-19.6-9-6-3.3-25.1-17.7-20.9-13.8-18-10.9-18-9-24.4-8.3-17.6-6.6-2-1.4 0-2-4-4 0-2-4-4 0-2-2-2 0-2-2-2 0-2-2-2 0-2-2-2 0-2-2-2 0-2-2-2 0-2-2-2 0-2-2-2 0-4-2-2 0-4-2-2 0-4-2-2 0-4-2-2 0-6-2-2 0-6-2-2 0-10-2-2 0-64 2-2 0-10 2-2 0-6 2-2 0-6 2-2 0-4 2-2 0-4 2-2 0-4 2-2 0-4 2-2 0-2 2-2 0-2 2-2 0-2 2-2 0-2 2-2 0-2 2-2 0-2 2-2 0-2 2-2 0-2 4-4 0-2 4-4 0-2 4-4 0-2 8-8 0-2 28-28 2 0 8-8 2 0 4-4 2 0 4-4 2 0 4-4 2 0 2-2 2 0 2-2 2 0 2-2 2 0 2-2 2 0 2-2 2 0 2-2 2 0 2-2 2 0 2-2 4 0 2-2 4 0 2-2 4 0 2-2 4 0 2-2 6 0 2-2 6 0 2-2z"/>
<path fill="#94f714" d="M-44-220l10 0 2-2 64 0 2 2 10 0 2 2 6 0 2 2 6 0 2 2 4 0 2 2 4 0 2 2 4 0 2 2 4 0 2 2 2 0 2 2 2 0 2 2 2 0 2 2 2 0 2 2 2 0 2 2 2 0 2 2 2 0 2 2 2 0 4 4 2 0 4 4 2 0 4 4 2 0 8 8 2 0 28 28 0 2 8 8 0 2 4 4 0 2 4 4 0 2 4 4 0 2 2 2 0 2 2 2 0 2 2 2 0 2 2 2 0 2 2 2 0 2 2 2 0 2 2 2 0 2 2 2 0 4 2 2 0 4 2 2 0 4 2 2 0 4 2 2 0 6 2 2 0 6 2 2 0 10 2 2 0 64-2 2 0 7.4-18 11.3-6 4.6-22 21.2-23.4 25.5-12.6 10.5-13 9.5-25 17-28 16.7-20 13.2-25.1 15.1-16.9 11.2-8 3.6-8 1.5-8-0.1-10-1.8-8-2.8-16-7.1-8-4.4-32-19.6-28-18.2-20-11.6-32-14.4-24-9-2-1.3 0-2-2-2 0-2-2-2 0-2-2-2 0-2-2-2 0-2-2-2 0-2-2-2 0-2-2-2 0-4-2-2 0-4-2-2 0-4-2-2 0-4-2-2 0-6-2-2 0-6-2-2 0-10-2-2 0-64 2-2 0-10 2-2 0-6 2-2 0-6 2-2 0-4 2-2 0-4 2-2 0-4 2-2 0-4 2-2 0-2 2-2 0-2 2-2 0-2 2-2 0-2 2-2 0-2 2-2 0-2 2-2 0-2 2-2 0-2 4-4 0-2 4-4 0-2 4-4 0-2 8-8 0-2 28-28 2 0 8-8 2 0 4-4 2 0 4-4 2 0 4-4 2 0 2-2 2 0 2-2 2 0 2-2 2 0 2-2 2 0 2-2 2 0 2-2 2 0 2-2 2 0 2-2 4 0 2-2 4 0 2-2 4 0 2-2 4 0 2-2 6 0 2-2 6 0 2-2z"/>
<path fill="#b5f909" d="M-44-220l10 0 2-2 64 0 2 2 10 0 2 2 6 0 2 2 6 0 2 2 4 0 2 2 4 0 2 2 4 0 2 2 4 0 2 2 2 0 2 2 2 0 2 2 2 0 2 2 2 0 2 2 2 0 2 2 2 0 2 2 2 0 2 2 2 0 4 4 2 0 4 4 2 0 4 4 2 0 8 8 2 0 28 28 0 2 8 8 0 2 4 4 0 2 4 4 0 2 4 4 0 2 2 2 0 2 2 2 0 2 2 2 0 2 2 2 0 2 2 2 0 2 2 2 0 2 2 2 0 2 2 2 0 4 2 2 0 4 2 2 0 4 2 2 0 4 2 2 0 6 2 2 0 6 2 2 0 10 2 2 0 59.3-4.2 4.7-5.8 4.8-14 8.3-8.9 6.9-20.2 20-16.2 20-9.4 10-14.3 12-23 17.2-14 9-44 25.6-34 19.1-10 4.7-10 2.2-8 0-10-1.9-12-4.1-12-5.3-38-20.1-50-32.8-16-9.1-24-11.8-10-3.7-14-4.3 0-0.7-2-2 0-2-2-2 0-2-2-2 0-2-2-2 0-4-2-2 0-4-2-2 0-4-2-2 0-4-2-2 0-6-2-2 0-6-2-2 0-10-2-2 0-64 2-2 0-10 2-2 0-6 2-2 0-6 2-2 0-4 2-2 0-4 2-2 0-4 2-2 0-4 2-2 0-2 2-2 0-2 2-2 0-2 2-2 0-2 2-2 0-2 2-2 0-2 2-2 0-2 2-2 0-2 4-4 0-2 4-4 0-2 4-4 0-2 8-8 0-2 28-28 2 0 8-8 2 0 4-4 2 0 4-4 2 0 4-4 2 0 2-2 2 0 2-2 2 0 2-2 2 0 2-2 2 0 2-2 2 0 2-2 2 0 2-2 2 0 2-2 4 0 2-2 4 0 2-2 4 0 2-2 4 0 2-2 6 0 2-2 6 0 2-2z"/>
<path fill="#cafb06" d="M-44-220l10 0 2-2 64 0 2 2 10 0 2 2 6 0 2 2 6 0 2 2 4 0 2 2 4 0 2 2 4 0 2 2 4 0 2 2 2 0 2 2 2 0 2 2 2 0 2 2 2 0 2 2 2 0 2 2 2 0 2 2 2 0 2 2 2 0 4 4 2 0 4 4 2 0 4 4 2 0 8 8 2 0 28 28 0 2 8 8 0 2 4 4 0 2 4 4 0 2 4 4 0 2 2 2 0 2 2 2 0 2 2 2 0 2 2 2 0 2 2 2 0 2 2 2 0 2 2 2 0 2 2 2 0 4 2 2 0 4 2 2 0 4 2 2 0 4 2 2 0 6 2 2 0 6 2 2 0 10 2 2 0 38.1-6.1 5.9-9.3 14-10.6 6.6-6 4.6-12 11-10 10.3-11.4 13.5-12.2 18-10.9 12-13.6 12-15.9 12.8-12 7.9-22 12.3-56 28.8-10 3.9-8 1.7-6 0.2-6-0.4-14-3.3-18-6.7-28-12.5-14-7.7-26-17.4-20-15.2-22-14.2-18-9.7-30-9.4-2-1.1 0-4-2-2 0-4-2-2 0-4-2-2 0-4-2-2 0-6-2-2 0-6-2-2 0-10-2-2 0-64 2-2 0-10 2-2 0-6 2-2 0-6 2-2 0-4 2-2 0-4 2-2 0-4 2-2 0-4 2-2 0-2 2-2 0-2 2-2 0-2 2-2 0-2 2-2 0-2 2-2 0-2 2-2 0-2 2-2 0-2 4-4 0-2 4-4 0-2 4-4 0-2 8-8 0-2 28-28 2 0 8-8 2 0 4-4 2 0 4-4 2 0 4-4 2 0 2-2 2 0 2-2 2 0 2-2 2 0 2-2 2 0 2-2 2 0 2-2 2 0 2-2 2 0 2-2 4 0 2-2 4 0 2-2 4 0 2-2 4 0 2-2 6 0 2-2 6 0 2-2z"/>
<path fill="#dffc04" d="M-44-220l10 0 2-2 64 0 2 2 10 0 2 2 6 0 2 2 6 0 2 2 4 0 2 2 4 0 2 2 4 0 2 2 4 0 2 2 2 0 2 2 2 0 2 2 2 0 2 2 2 0 2 2 2 0 2 2 2 0 2 2 2 0 2 2 2 0 4 4 2 0 4 4 2 0 4 4 2 0 8 8 2 0 28 28 0 2 8 8 0 2 4 4 0 2 4 4 0 2 4 4 0 2 2 2 0 2 2 2 0 2 2 2 0 2 2 2 0 2 2 2 0 2 2 2 0 2 2 2 0 2 2 2 0 4 2 2 0 4 2 2 0 4 2 2 0 4 2 2 0 6 2 2 0 6 2 2 0 10 2 2 0 22.7-22.4 15.3-9.5 8-5.8 6-18.3 22.5-10 13.4-6 8.9-9.6 17.2-5.3 8-6.7 8-14.1 14-12.3 10.7-6 4.5-26 14.2-46 21.3-16 6.2-10 2.2-12 0.1-16-3.1-26-8.6-24-9.7-8-4.6-22.8-15.2-21.2-17.5-14-10.7-22-15-6-3-8-2.9-30-8.9 0-4-2-2 0-4-2-2 0-6-2-2 0-6-2-2 0-10-2-2 0-64 2-2 0-10 2-2 0-6 2-2 0-6 2-2 0-4 2-2 0-4 2-2 0-4 2-2 0-4 2-2 0-2 2-2 0-2 2-2 0-2 2-2 0-2 2-2 0-2 2-2 0-2 2-2 0-2 2-2 0-2 4-4 0-2 4-4 0-2 4-4 0-2 8-8 0-2 28-28 2 0 8-8 2 0 4-4 2 0 4-4 2 0 4-4 2 0 2-2 2 0 2-2 2 0 2-2 2 0 2-2 2 0 2-2 2 0 2-2 2 0 2-2 2 0 2-2 4 0 2-2 4 0 2-2 4 0 2-2 4 0 2-2 6 0 2-2 6 0 2-2z"/>
<path fill="#f4fe01" d="M-44-220l10 0 2-2 64 0 2 2 10 0 2 2 6 0 2 2 6 0 2 2 4 0 2 2 4 0 2 2 4 0 2 2 4 0 2 2 2 0 2 2 2 0 2 2 2 0 2 2 2 0 2 2 2 0 2 2 2 0 2 2 2 0 2 2 2 0 4 4 2 0 4 4 2 0 4 4 2 0 8 8 2 0 28 28 0 2 8 8 0 2 4 4 0 2 4 4 0 2 4 4 0 2 2 2 0 2 2 2 0 2 2 2 0 2 2 2 0 2 2 2 0 2 2 2 0 2 2 2 0 2 2 2 0 4 2 2 0 4 2 2 0 4 2 2 0 4 2 2 0 6 2 2 0 6 2 2 0 10 2 2 0 4.6-6 7.4-4 4-6 4.3-16.6 7.7-9.4 5.6-7.9 6.4-7.3 8-5.5 8-5.3 9.6-19.2 42.4-5.4 10-4.1 6-6.6 8-9.3 10-9.4 8.9-6 4.7-6 3.6-28 13.3-36 14.4-14 4.1-10 1.8-8 0.5-8-0.3-18-3.4-34-10.2-10-3.9-8-4.2-12-7.4-8.3-5.9-37.7-32.7-12-9.5-8.2-5.8-7.8-4.3-10-4.2-32-8.5-2-1 0-6-2-2 0-6-2-2 0-10-2-2 0-64 2-2 0-10 2-2 0-6 2-2 0-6 2-2 0-4 2-2 0-4 2-2 0-4 2-2 0-4 2-2 0-2 2-2 0-2 2-2 0-2 2-2 0-2 2-2 0-2 2-2 0-2 2-2 0-2 2-2 0-2 4-4 0-2 4-4 0-2 4-4 0-2 8-8 0-2 28-28 2 0 8-8 2 0 4-4 2 0 4-4 2 0 4-4 2 0 2-2 2 0 2-2 2 0 2-2 2 0 2-2 2 0 2-2 2 0 2-2 2 0 2-2 2 0 2-2 4 0 2-2 4 0 2-2 4 0 2-2 4 0 2-2 6 0 2-2 6 0 2-2z"/>
<path fill="#fff700" d="M-44-220l10 0 2-2 64 0 2 2 10 0 2 2 6 0 2 2 6 0 2 2 4 0 2 2 4 0 2 2 4 0 2 2 4 0 2 2 2 0 2 2 2 0 2 2 2 0 2 2 2 0 2 2 2 0 2 2 2 0 2 2 2 0 2 2 2 0 4 4 2 0 4 4 2 0 4 4 2 0 8 8 2 0 28 28 0 2 8 8 0 2 4 4 0 2 4 4 0 2 4 4 0 2 2 2 0 2 2 2 0 2 2 2 0 2 2 2 0 2 2 2 0 2 2 2 0 2 2 2 0 2 2 2 0 4 2 2 0 4 2 2 0 4 2 2 0 4 2 2 0 6 1.6 2-13.6 17.5-4.1 4.5-5.6 4-14.3 6.9-10 6.3-13 10.8-9 10-4 6.8-2.8 7.2-7.8 34-8.8 24-4.3 8-5.4 8-8.3 10-7.5 8-5.1 4.5-6 3.9-24 11-36 12.7-14 3.2-22 2-8-0.3-10-1.2-16-3.3-22-5.6-10-3.3-10-4.4-10-5.6-7.8-5.6-38.2-35.2-14-12.2-6.2-4.6-11.8-6.8-8-3.5-38-10.1 0-3.6-2-2 0-10-2-2 0-64 2-2 0-10 2-2 0-6 2-2 0-6 2-2 0-4 2-2 0-4 2-2 0-4 2-2 0-4 2-2 0-2 2-2 0-2 2-2 0-2 2-2 0-2 2-2 0-2 2-2 0-2 2-2 0-2 2-2 0-2 4-4 0-2 4-4 0-2 4-4 0-2 8-8 0-2 28-28 2 0 8-8 2 0 4-4 2 0 4-4 2 0 4-4 2 0 2-2 2 0 2-2 2 0 2-2 2 0 2-2 2 0 2-2 2 0 2-2 2 0 2-2 2 0 2-2 4 0 2-2 4 0 2-2 4 0 2-2 4 0 2-2 6 0 2-2 6 0 2-2z"/>
<path fill="#ffe700" d="M-44-220l10 0 2-2 64 0 2 2 10 0 2 2 6 0 2 2 6 0 2 2 4 0 2 2 4 0 2 2 4 0 2 2 4 0 2 2 2 0 2 2 2 0 2 2 2 0 2 2 2 0 2 2 2 0 2 2 2 0 2 2 2 0 2 2 2 0 4 4 2 0 4 4 2 0 4 4 2 0 8 8 2 0 28 28 0 2 8 8 0 2 4 4 0 2 4 4 0 2 4 4 0 2 2 2 0 2 2 2 0 2 2 2 0 2 2 2 0 2 2 2 0 2 2 2 0 2 2 2 0 2 2 2 0 4 2 2 0.4 6-21.3 18-23.1 21.6-26.4 26.4-7.5 10-3.1 6-2.2 8-1.5 12-1.5 24-5.7 22-3.2 8-4.3 8-12.2 16-4.4 4.7-4 3.3-10 5.4-22 8.5-36 9.9-6 0.7-22 0.7-18-1-16-2.6-22-4.5-10-2.7-10-3.8-10-5.2-6-4.5-16.3-14.9-19.7-19.7-20-17.9-16-9.7-5.7-2.7-30.3-8.5-14-4.9 0-4.6-2-2 0-64 2-2 0-10 2-2 0-6 2-2 0-6 2-2 0-4 2-2 0-4 2-2 0-4 2-2 0-4 2-2 0-2 2-2 0-2 2-2 0-2 2-2 0-2 2-2 0-2 2-2 0-2 2-2 0-2 2-2 0-2 4-4 0-2 4-4 0-2 4-4 0-2 8-8 0-2 28-28 2 0 8-8 2 0 4-4 2 0 4-4 2 0 4-4 2 0 2-2 2 0 2-2 2 0 2-2 2 0 2-2 2 0 2-2 2 0 2-2 2 0 2-2 2 0 2-2 4 0 2-2 4 0 2-2 4 0 2-2 4 0 2-2 6 0 2-2 6 0 2-2z"/>
<path fill="#ffd600" d="M-44-220l10 0 2-2 64 0 2 2 10 0 2 2 6 0 2 2 6 0 2 2 4 0 2 2 4 0 2 2 4 0 2 2 4 0 2 2 2 0 2 2 2 0 2 2 2 0 2 2 2 0 2 2 2 0 2 2 2 0 2 2 2 0 2 2 2 0 4 4 2 0 4 4 2 0 4 4 2 0 8 8 2 0 28 28 0 2 8 8 0 2 4 4 0 2 4 4 0 2 4 4 0 2 2 2 0 2 2 2 0 2 2 2 0 2 2 2 0 2 2 2 0 2 2 2 0 3.6-30 28.4-16 16.4-28 30.7-6 7.7-4.5 7.2-3.6 8-2.4 10-0.8 10 0.3 24-2.4 18-3.6 12-6.4 12-7.5 10-7.1 6.3-8 4.2-18 6.4-32 7.1-8 1.1-10 0.3-24-0.8-18-1.8-28-4.2-16-4-10-4.3-8-5.3-14.4-13-25.6-25.5-12-10.8-8-5.8-12-7.2-8-4-32-10.7-16-7.3 0-58.7 2-2 0-10 2-2 0-6 2-2 0-6 2-2 0-4 2-2 0-4 2-2 0-4 2-2 0-4 2-2 0-2 2-2 0-2 2-2 0-2 2-2 0-2 2-2 0-2 2-2 0-2 2-2 0-2 2-2 0-2 4-4 0-2 4-4 0-2 4-4 0-2 8-8 0-2 28-28 2 0 8-8 2 0 4-4 2 0 4-4 2 0 4-4 2 0 2-2 2 0 2-2 2 0 2-2 2 0 2-2 2 0 2-2 2 0 2-2 2 0 2-2 2 0 2-2 4 0 2-2 4 0 2-2 4 0 2-2 4 0 2-2 6 0 2-2 6 0 2-2z"/>
<path fill="#ffc600" d="M-44-220l10 0 2-2 64 0 2 2 10 0 2 2 6 0 2 2 6 0 2 2 4 0 2 2 4 0 2 2 4 0 2 2 4 0 2 2 2 0 2 2 2 0 2 2 2 0 2 2 2 0 2 2 2 0 2 2 2 0 2 2 2 0 2 2 2 0 4 4 2 0 4 4 2 0 4 4 2 0 8 8 2 0 28 28 0 2 8 8 0 2 4 4 0 2 4 4 0 2 4 4 0 2 2 2 0 2 2 2 0 2 1.6 2-13.5 16-24.1 24.9-14 15.7-26.5 31.4-11.3 16-4.8 10-2.5 10-0.5 12 1.5 22 0 10-1 10-2.4 10-4.7 10-3.8 5.6-4 4.4-8 5.5-10 4.1-10 2.7-12 2-20 2.4-14 0.5-64-5.6-14-1.9-10-2.5-10-4.5-8-5.8-8-7.2-24-23.8-13.5-11.9-8.5-6.4-12.3-7.6-11.7-6.2-34-13.8-7.2-4-8.8-5.9 0-46.1 2-2 0-10 2-2 0-6 2-2 0-6 2-2 0-4 2-2 0-4 2-2 0-4 2-2 0-4 2-2 0-2 2-2 0-2 2-2 0-2 2-2 0-2 2-2 0-2 2-2 0-2 2-2 0-2 2-2 0-2 4-4 0-2 4-4 0-2 4-4 0-2 8-8 0-2 28-28 2 0 8-8 2 0 4-4 2 0 4-4 2 0 4-4 2 0 2-2 2 0 2-2 2 0 2-2 2 0 2-2 2 0 2-2 2 0 2-2 2 0 2-2 2 0 2-2 4 0 2-2 4 0 2-2 4 0 2-2 4 0 2-2 6 0 2-2 6 0 2-2z"/>
<path fill="#ffb600" d="M-44-220l10 0 2-2 64 0 2 2 10 0 2 2 6 0 2 2 6 0 2 2 4 0 2 2 4 0 2 2 4 0 2 2 4 0 2 2 2 0 2 2 2 0 2 2 2 0 2 2 2 0 2 2 2 0 2 2 2 0 2 2 2 0 2 2 2 0 4 4 2 0 4 4 2 0 4 4 2 0 8 8 2 0 28 28 0 2 8 8 0 2 4 4 0 2 4 4 0 2 0.9 2-13.6 20-35.3 40.9-36.8 47.1-5.8 8-4.8 8-3.4 8-1.2 8-0.3 16 2.3 20 0.5 10-0.3 8-1.5 8-2.7 6.8-4 5.5-7.3 5.7-8.7 4.1-6 1.5-6 0.6-42 1.3-8-0.7-22-3.6-28-1.1-20-1.7-6-0.9-6-1.6-6-2.8-7.2-5.1-27.7-26-23.1-18.9-8-5.1-22-12.7-28.3-13.3-10.9-8-10.8-10.6 0-29.4 2-2 0-10 2-2 0-6 2-2 0-6 2-2 0-4 2-2 0-4 2-2 0-4 2-2 0-4 2-2 0-2 2-2 0-2 2-2 0-2 2-2 0-2 2-2 0-2 2-2 0-2 2-2 0-2 2-2 0-2 4-4 0-2 4-4 0-2 4-4 0-2 8-8 0-2 28-28 2 0 8-8 2 0 4-4 2 0 4-4 2 0 4-4 2 0 2-2 2 0 2-2 2 0 2-2 2 0 2-2 2 0 2-2 2 0 2-2 2 0 2-2 2 0 2-2 4 0 2-2 4 0 2-2 4 0 2-2 4 0 2-2 6 0 2-2 6 0 2-2z"/>
<path fill="#ffa600" d="M-44-220l10 0 2-2 64 0 2 2 10 0 2 2 6 0 2 2 6 0 2 2 4 0 2 2 4 0 2 2 4 0 2 2 4 0 2 2 2 0 2 2 2 0 2 2 2 0 2 2 2 0 2 2 2 0 2 2 2 0 2 2 2 0 2 2 2 0 4 4 2 0 4 4 2 0 4 4 2 0 8 8 2 0 28 28 0 2 8 8 0 0.9-19 31.1-27 34.9-29.3 41.1-17.5 22-7.8 12-1.9 4-1.8 6-2.5 18 0.2 10 2.8 22 0.1 6-0.5 6-1.3 4-2.5 4-4.9 4-5.1 2.5-8 1.1-40-1.5-8-1.1-14-3.1-8-1.1-50 0-8-0.9-6-2.1-8-5.1-24.9-20.7-25.1-19.2-32-20.4-18.3-10.4-6-4-6.5-6-6.8-8-7-10-7.4-12.1 0-1.9 2-2 0-10 2-2 0-6 2-2 0-6 2-2 0-4 2-2 0-4 2-2 0-4 2-2 0-4 2-2 0-2 2-2 0-2 2-2 0-2 2-2 0-2 2-2 0-2 2-2 0-2 2-2 0-2 2-2 0-2 4-4 0-2 4-4 0-2 4-4 0-2 8-8 0-2 28-28 2 0 8-8 2 0 4-4 2 0 4-4 2 0 4-4 2 0 2-2 2 0 2-2 2 0 2-2 2 0 2-2 2 0 2-2 2 0 2-2 2 0 2-2 2 0 2-2 4 0 2-2 4 0 2-2 4 0 2-2 4 0 2-2 6 0 2-2 6 0 2-2z"/>
<path fill="#ff9500" d="M-44-220l10 0 2-2 64 0 2 2 10 0 2 2 6 0 2 2 6 0 2 2 4 0 2 2 4 0 2 2 4 0 2 2 4 0 2 2 2 0 2 2 2 0 2 2 2 0 2 2 2 0 2 2 2 0 2 2 2 0 2 2 2 0 2 2 2 0 4 4 2 0 4 4 2 0 4 4 2 0 8 8 2 0 24 24 1.2 2-21.5 38-47.2 74-7.4 10-17 20-9.5 14-5.5 10-5 12-3 10-3.1 14.5-2 5.4-3.2 4.1-4.8 2.6-6 1.3-10 0.2-30-2.9-12-0.3-12 0.8-26 3.3-10 0.4-10-1.5-10-4.1-22-13.8-43.3-30-22.9-18-9-8-6.8-8-6.1-10-17.9-39.3 0-4.7 2-2 0-4 2-2 0-4 2-2 0-4 2-2 0-2 2-2 0-2 2-2 0-2 2-2 0-2 2-2 0-2 2-2 0-2 2-2 0-2 2-2 0-2 4-4 0-2 4-4 0-2 4-4 0-2 8-8 0-2 28-28 2 0 8-8 2 0 4-4 2 0 4-4 2 0 4-4 2 0 2-2 2 0 2-2 2 0 2-2 2 0 2-2 2 0 2-2 2 0 2-2 2 0 2-2 2 0 2-2 4 0 2-2 4 0 2-2 4 0 2-2 4 0 2-2 6 0 2-2 6 0 2-2z"/>
<path fill="#ff8500" d="M-44-220l10 0 2-2 64 0 2 2 10 0 2 2 6 0 2 2 6 0 2 2 4 0 2 2 4 0 2 2 4 0 2 2 4 0 2 2 2 0 2 2 2 0 2 2 2 0 2 2 2 0 2 2 2 0 2 2 2 0 2 2 2 0 2 2 2 0 4 4 2 0 4 4 2 0 4 4 2 0 8 8 2 0 13.8 14-5.8 10.4-20.8 41.6-22.5 42-15.9 28-5.9 8-13.2 14-13.7 15.9-18 17.2-6 4.8-6 3.7-6 2.8-8 2.7-42 8.6-36 9.1-10 1.4-8-0.4-6-1.4-6-2.3-14-6.7-9-5.4-20.6-14-7.8-6-8.4-8-8.9-10-9.7-12-5.9-10-3.3-8-7.9-24-5.2-14-5.3-11.6-6-10.4 2-2 0-2 2-2 0-2 2-2 0-2 2-2 0-2 2-2 0-2 2-2 0-2 4-4 0-2 4-4 0-2 4-4 0-2 8-8 0-2 28-28 2 0 8-8 2 0 4-4 2 0 4-4 2 0 4-4 2 0 2-2 2 0 2-2 2 0 2-2 2 0 2-2 2 0 2-2 2 0 2-2 2 0 2-2 2 0 2-2 4 0 2-2 4 0 2-2 4 0 2-2 4 0 2-2 6 0 2-2 6 0 2-2z"/>
<path fill="#ff7300" d="M-44-220l10 0 2-2 64 0 2 2 10 0 2 2 6 0 2 2 6 0 2 2 4 0 2 2 4 0 2 2 4 0 2 2 4 0 2 2 2 0 2 2 2 0 2 2 2 0 2 2 2 0 2 2 2 0 2 2 2 0 2 2 2 0 2 2 2 0 4 4 2 0 4 4 2 0 4 4 2 0 8 8 2 0 2 2 0 1.5-7.5 14.5-11.3 28-24.7 56-14.1 28-3.8 6-3.2 4-25.4 25.3-8 5.5-14 7.8-6 2.4-18 3.7-20.9 5.3-15.1 4-34 11-18 4.5-4 0.2-20-5.7-6-2.8-22.7-15.2-6.7-6-4.9-6-17.1-28-2.1-6-4.5-18.6-10-31.4-6.3-14-9.7-16.4 0-3.6 4-4 0-2 4-4 0-2 4-4 0-2 8-8 0-2 28-28 2 0 8-8 2 0 4-4 2 0 4-4 2 0 4-4 2 0 2-2 2 0 2-2 2 0 2-2 2 0 2-2 2 0 2-2 2 0 2-2 2 0 2-2 2 0 2-2 4 0 2-2 4 0 2-2 4 0 2-2 4 0 2-2 6 0 2-2 6 0 2-2z"/>
<path fill="#ff5e00" d="M-44-220l10 0 2-2 64 0 2 2 10 0 2 2 6 0 2 2 6 0 2 2 4 0 2 2 4 0 2 2 4 0 2 2 4 0 2 2 2 0 2 2 2 0 2 2 2 0 2 2 2 0 2 2 2 0 2 2 2 0 2 2 2 0 2 2 2 0 4 4 2 0 4 4 2 0 4 4 2 0 0.4 2-4.6 8-3.4 8-13.1 40-15.8 44-6.6 16-6.9 14.4-4.6 7.6-5.1 6-10.3 9.7-8 6.9-6 4.4-8 4.1-10 3.7-8 2-24 3.8-14 3.4-14 4.4-30 11.4-12 3.8-10 1.8-10-0.7-12-3.4-6-3.1-8-5-6-4.5-5.2-4.7-3.5-4-4.1-6-6.1-12-4.8-12-9.5-38-7.5-24-8.5-20-9.8-18 1-2 0-2 8-8 0-2 28-28 2 0 8-8 2 0 4-4 2 0 4-4 2 0 4-4 2 0 2-2 2 0 2-2 2 0 2-2 2 0 2-2 2 0 2-2 2 0 2-2 2 0 2-2 2 0 2-2 4 0 2-2 4 0 2-2 4 0 2-2 4 0 2-2 6 0 2-2 6 0 2-2z"/>
<path fill="#ff4a00" d="M-44-220l10 0 2-2 64 0 2 2 10 0 2 2 6 0 2 2 6 0 2 2 4 0 2 2 4 0 2 2 4 0 2 2 4 0 2 2 2 0 2 2 2 0 2 2 2 0 2 2 2 0 2 2 2 0 2 2 2 0 2 2 2 0 2 2 2 0 4 4 2 0 1.6 2-5.6 8.6-3.9 9.4-8.3 34-12.7 44-7.6 24-4.3 10-4.2 8-4.1 6-5.6 6-7.3 6.4-8 5.8-6 3.5-8 3.3-10 2.2-24 2.3-16 2.9-20 6.4-29.9 13.2-8.1 3.1-10 2.2-10-0.4-6-1.5-6-2.5-10.8-6.9-8.1-8-6.3-10-3.2-8-2.4-8-8.4-38-7.4-26-11.4-31.5-4.6-10.5-5.2-10 25.8-26 2 0 8-8 2 0 4-4 2 0 4-4 2 0 4-4 2 0 2-2 2 0 2-2 2 0 2-2 2 0 2-2 2 0 2-2 2 0 2-2 2 0 2-2 2 0 2-2 4 0 2-2 4 0 2-2 4 0 2-2 4 0 2-2 6 0 2-2 6 0 2-2z"/>
<path fill="#ff3500" d="M-44-220l10 0 2-2 64 0 2 2 10 0 2 2 6 0 2 2 6 0 2 2 4 0 2 2 4 0 2 2 4 0 2 2 4 0 2 2 2 0 2 2 2 0 2 2 2 0 2 2 2 0 2 2 2 0 2 2 2 0 2 2 2 0 1.7 2-7.1 10-3.7 8-4 22-20 84-3.2 8-4 8-3.7 5.5-4 4.3-6 5.2-6 4.2-6 3.3-6 2.5-10 2-20-0.1-16 1.5-6 1.1-24 7.8-39.1 18.7-6.9 1.6-6-0.4-9.3-3.2-8.7-5.6-6.3-6.4-4.7-8-2.9-10-6.4-32-7.8-30-13.9-46.4-4.1-11.6-4.5-10 0.6-2 12-12 2 0 8-8 2 0 4-4 2 0 4-4 2 0 4-4 2 0 2-2 2 0 2-2 2 0 2-2 2 0 2-2 2 0 2-2 2 0 2-2 2 0 2-2 2 0 2-2 4 0 2-2 4 0 2-2 4 0 2-2 4 0 2-2 6 0 2-2 6 0 2-2z"/>
<path fill="#ff2100" d="M-44-220l10 0 2-2 64 0 2 2 10 0 2 2 6 0 2 2 6 0 2 2 4 0 2 2 4 0 2 2 4 0 2 2 4 0 2 2 2 0 2 2 2 0 2 2 2 0 2 2 2 0 2 2 2 0 0.6 2-7.9 12-4.2 10-11.3 46-9.8 56-1.9 6-3.5 7.8-2.5 4.2-3.5 4.3-4 3.7-6 4.2-10 4.4-6 1.3-4 0.2-22-1.4-14 0.9-8 1.2-26 8.3-20 9.7-18 7.9-4 1.1-4-0.1-6-2-5.5-3.7-4.5-4.9-2.6-5.1-7.7-32-15.4-54-9.1-42-3.1-10-4.1-10 2 0 8-8 2 0 4-4 2 0 4-4 2 0 4-4 2 0 2-2 2 0 2-2 2 0 2-2 2 0 2-2 2 0 2-2 2 0 2-2 2 0 2-2 2 0 2-2 4 0 2-2 4 0 2-2 4 0 2-2 4 0 2-2 6 0 2-2 6 0 2-2z"/>
<path fill="#ff0e00" d="M-44-220l10 0 2-2 64 0 2 2 10 0 2 2 6 0 2 2 6 0 2 2 4 0 2 2 4 0 2 2 4 0 2 2 4 0 2 2 2 0 2 2 2 0 2 2 2 0 1.3 2-6.2 10-5.1 10-12.4 32-3.4 12-2.5 12-5.6 40-1.5 8-3.7 10-2.9 4.7-2.9 3.3-7.1 5-8 2.7-8 0.7-24-1-16 1.3-18 4.3-34 11.5-8 1.6-6 0-4-1.1-4-2.5-2.4-2.5-3.6-5.5-6-13.1-10.6-27.4-5-16-3.7-16-6-46-2.2-8-4.5-10.5 0-1.5 2-2 2 0 4-4 2 0 4-4 2 0 2-2 2 0 2-2 2 0 2-2 2 0 2-2 2 0 2-2 2 0 2-2 2 0 2-2 2 0 2-2 4 0 2-2 4 0 2-2 4 0 2-2 4 0 2-2 6 0 2-2 6 0 2-2z"/>
<path fill="#ff0000" d="M-44-220l10 0 2-2 64 0 2 2 10 0 2 2 6 0 2 2 6 0 2 2 4 0 2 2 4 0 2 2 4 0 2 2 4 0 2 2 2 0 2 2 0.9 0-22.5 42-6.1 14-6.9 20-8.5 34-3.4 10-2 4-3.1 4-5.4 4-5 1.9-6 1.2-22 2-12 1.7-12 2.5-26 6.8-8 1.3-6 0.1-8-1.7-4-2.1-4-3.2-6-7-8.3-13.5-5.7-12.8-4.9-17.2-2-14-1.5-30-1-10-3-12-5.6-12 2-2 2 0 2-2 2 0 2-2 2 0 2-2 2 0 2-2 2 0 2-2 2 0 2-2 2 0 2-2 2 0 2-2 4 0 2-2 4 0 2-2 4 0 2-2 4 0 2-2 6 0 2-2 6 0 2-2z"/>
<path fill="#ff0000" d="M-44-220l10 0 2-2 64 0 2 2 10 0 2 2 6 0 2 2 6 0 2 2 4 0 2 2 4 0 2 2 4 0 2 2 4 0 0 1.6-12.6 24.4-11.9 20-23 46-6.5 9.9-6 6.6-4 3.3-6 3.5-14 5.3-20.6 5.4-25.4 5.7-6 0.8-6 0-6-1.2-6-3-14-13.8-2.8-4.5-6.8-20-2.7-42-2.1-14-2.9-10-6.3-12 1.6 0 2-2 2 0 2-2 2 0 2-2 2 0 2-2 2 0 2-2 2 0 2-2 4 0 2-2 4 0 2-2 4 0 2-2 4 0 2-2 6 0 2-2 6 0 2-2z"/>
<path fill="#ff0000" d="M-44-220l10 0 2-2 64 0 2 2 10 0 2 2 6 0 2 2 6 0 2 2 4 0 2 2 4 0 2 2 4 0-11.4 24-24 40-10.6 15.3-10 10.7-6 4.8-6 3.8-8 3.8-8 2.8-10 2.8-12 2.3-12 1.2-8-0.1-8-1.6-8-4-6.4-5.8-5.6-8.8-2.8-7.2-2-8-5.6-32-2.7-12-3.2-10-5.7-12 2-2 2 0 2-2 2 0 2-2 2 0 2-2 4 0 2-2 4 0 2-2 4 0 2-2 4 0 2-2 6 0 2-2 6 0 2-2z"/>
<path fill="#ff0000" d="M-44-220l10 0 2-2 64 0 2 2 10 0 2 2 6 0 2 2 6 0 2 2 4 0 2 2 3.2 0-8.3 20-6.6 12-18.3 28.3-6 7.4-8 8-6 4.7-6 3.7-6 2.9-8 3-16 3.4-8 0.6-8-0.1-10-1.8-8-3.3-6.4-4.8-6.4-8-3.4-6-3.8-9.2-9.5-32.8-8-20 1.5-2 2 0 2-2 4 0 2-2 4 0 2-2 4 0 2-2 4 0 2-2 6 0 2-2 6 0 2-2z"/>
<path fill="#ff0000" d="M-44-220l10 0 2-2 64 0 2 2 10 0 2 2 6 0 2 2 6 0 2 2 2.2 0-6.2 18-4.7 10-15.3 23.3-5.1 6.7-4.9 5.1-10 7.8-6 3.3-6 2.5-6 1.8-8 1.6-14 0.8-10-1.2-10-3.2-8-4.9-4-3.6-4-4.5-4-6.1-4-8.3-15.4-43.1 1.4 0 2-2 4 0 2-2 4 0 2-2 4 0 2-2 6 0 2-2 6 0 2-2z"/>
<path fill="#f50000" d="M-44-220l10 0 2-2 64 0 2 2 10 0 2 2 6 0 2 2 2.8 0-4.3 16-3.9 10-10.6 16.7-10 12.5-4 3.6-6 4.1-10 4.8-12 2.8-12 0.6-8-0.8-8-1.9-6-2.5-6.5-3.9-5.5-4.8-4.3-5.2-3.7-6.1-4.3-9.9-10.3-30 0.6-2 4 0 2-2 4 0 2-2 6 0 2-2 6 0 2-2z"/>
<path fill="#df0000" d="M-44-220l10 0 2-2 64 0 2 2 10 0 2 2 2.6 0-2.5 14-4 12-7 12-8 10-7.1 6.1-10 5.4-10 2.7-12 0.8-8-0.8-6-1.4-6-2.1-5-2.7-5-3.6-4-3.9-4-5.3-2.9-5.2-5.6-14-5.5-20 2 0 2-2 6 0 2-2 6 0 2-2z"/>
<path fill="#bc0000" d="M-44-220l10 0 2-2 64 0 2 2 4.9 0-0.8 12-1.5 8-2.7 8-4.4 8-5.5 6.6-8 6.4-8 3.7-8 1.8-10 0.5-10-1.3-8-2.7-8-4.8-6.1-6.2-4.9-8-4-12-2.7-16 1.7-2 6 0 2-2z"/>
<path fill="#a30000" d="M-34-220l2-2 57.1 0 1.4 8 0.5 8-0.8 8-1.9 6-2.3 4-4 4.2-6 4.2-6 2.4-6 1.1-8 0.1-8-1-8-2.5-4-2.2-4-3.2-4-4.6-2.5-4.5-1.6-6-0.7-6 0-12 0.1-2 6.7 0z"/>
<path fill="#8a0000" d="M-12-212.3l4 0.2 10 3.1 2.3 1 2.5 2 1.4 2 0.9 4-1.1 3.7-1.9 2.3-4.1 2.2-6 0.7-6-1.1-3.8-1.8-2.5-2-2.6-4-0.5-2 0.3-4 1.1-2.5 2-2.2 4-1.6z"/>
</g></g></g>
<g clip-path="url(#disk)">
<path fill="none" stroke="#000" stroke-opacity="0.58" stroke-width="1.6" d="M186 103.2l-10 7-9.7 9.8-4.8 4-13.5 9.6-38 28.5-26 18.2-16 10.1-3.6 3.6-6.4 10.1M204 61.3l-3.2 2.7-8.8 9.3-14 11.7-22.8 23-15.2 12.2-22.5 15.8-19.5 12.7-24 14.6-44.6 30.7-17.4 13.7-6 2.9-6 1.7-8 0.8-10-0.5-10-2.2-8-3.1-20-9.5-28.3-19.8-19.7-13-18-11-18-8.9-22-7.3M212 5.7l-12 12.5-8 7.6-28 30-11.2 14.2-11.1 18-8.3 10-14.8 14-16.6 13.9-10 6.6-20 10.9-40 20.1-22 10-10 2.9-6 0.7-8-0.2-6-0.9-8-1.9-10-3.1-14-5.3-28-12-8-4.5-25.8-17.2-20.2-16.1-22-15.2-18-10.6-22-7.2M202.5-64l-12.5 10.2-26 24.2-24 23.9-4 4.8-3.3 4.9-3.1 6-2.3 8-1.3 10-1.8 26-5.8 22-3.2 8-4.4 8-5.6 8-6.5 8-4.7 5-3.7 3-10.3 5.6-20 7.9-30 8.7-8 1.9-6 0.8-22 0.7-12-0.4-14-1.8-18-3.4-16-3.6-12-3.8-12-5.7-7.1-4.9-17.6-16-19.3-19.3-16-14.7-5.2-4-16.7-10-4.1-1.8-32-9M178.7-116l-10 16-30.7 37-27.7 37-15.6 20-5.6 8-3.6 6-1.9 4-1.1 4-1.6 20 0.2 6 2.2 16 0.9 10-0.1 10-1 6-2.6 6-3.6 4-6.9 4.8-7.2 3.2-6.8 0.9-46-0.1-5.8-0.8-12.2-3.1-6-0.9-12-0.6-20 0-22-1.3-6-0.8-4-1.3-6-2.8-4-2.8-27.2-24.4-24.8-19.8-32-19.5-25.1-12.7-7.5-6-7.9-8M141.3-160l-14.1 34-22 50-5.6 12-11.2 22-3.8 6-3.2 4-25.4 25.3-8 5.5-14 7.8-6 2.4-18 3.7-30 7.7-38 12-20 5.1-4 0.2-2-0.3-18-5.4-4-1.7-24-15.8-5.4-4.5-5.4-6-5.5-8-13.1-22-2.1-6-4.5-18.6-8.6-27.4-4.8-12-6.6-12.7M102.9-186l-4.5 8-1.7 6-2.3 14-7.4 30-11.7 58-2.1 6-3.8 8-3.4 5.7-3.7 4.3-6.3 5.4-6 4-6 3-8 2.6-8 0.6-16-1.2-20 1.6-6 1.1-18 5.6-8 3.1-36.5 18.2-5.5 1.7-4-0.3-4-1-4-1.6-4.8-2.8-7.2-6.2-2.9-3.8-2-4-1.8-6-6.4-32-14.4-52-8.1-32-4.4-13.6M79.4-198l-8.3 16-11.9 20-22.2 44-7 10.8-6 6.6-4 3.3-4 2.5-6 2.9-8 3-26 6.9-22 4.8-6 0.9-6-0.1-4-0.7-4-1.4-2.8-1.5-13.2-12.4-2-2.2-2.1-3.4-6.9-20-3.2-46-2.7-14-3.1-8.7M57-204l-4.4 12-4.3 8-12.3 18.1-4 5.2-4.5 4.7-9.5 7.2-10 4.9-10 2.6-12 1.3-12-0.8-10-2.6-8-3.9-8-6.5-5-6.2-4.5-8-3.3-8-8.4-24M25.8-210l0.2 6-0.7 6-1.9 6-2.4 4-5 4.8-6 3.6-6 1.9-6 0.8-8-0.3-8-1.3-6-2.1-6-3.9-4-4-3.4-5.5-1.6-6-0.8-8"/>
</g>
<circle r="200" fill="none" stroke="#000" stroke-width="3.4"/>
<path d="M-36 -198.4L-8.4 -227.4Q-5 -230 0 -230Q5 -230 8.4 -227.4L36 -198.4" fill="none" stroke="#000" stroke-width="2.8" stroke-linejoin="round"/>
<path d="M-197.3 -44.4L-201.5 -47.3L-211.6 -47.3L-215.2 -41.8L-216 -20L-216.5 10L-217 33L-216.6 41L-214.2 47.5L-210 53.2L-201.4 53.8L-195.6 50" fill="none" stroke="#111" stroke-width="2.5" stroke-linejoin="round"/>
<path d="M197.3 -44.4L201.5 -47.3L211.6 -47.3L215.2 -41.8L216 -20L216.5 10L217 33L216.6 41L214.2 47.5L210 53.2L201.4 53.8L195.6 50" fill="none" stroke="#111" stroke-width="2.5" stroke-linejoin="round"/>
<circle cx="0" cy="-214.4" r="2.8" fill="#111"/>
<circle cx="-91.2" cy="-181" r="2.8" fill="#111"/>
<circle cx="92.5" cy="-181" r="2.8" fill="#111"/>
<circle cx="-164.7" cy="-119.2" r="2.8" fill="#111"/>
<circle cx="165" cy="-119.2" r="2.8" fill="#111"/>
<circle cx="-203" cy="0" r="2.8" fill="#111"/>
<circle cx="203.7" cy="0" r="2.8" fill="#111"/>
<circle cx="-164.7" cy="118.6" r="2.8" fill="#111"/>
<circle cx="165" cy="118.6" r="2.8" fill="#111"/>
<circle cx="-91.2" cy="180.4" r="2.8" fill="#111"/>
<circle cx="92.5" cy="180.4" r="2.8" fill="#111"/>
<circle cx="0" cy="213.1" r="2.8" fill="#111"/>
<circle cx="-83.5" cy="-102.9" r="2.8" fill="#111"/>
<circle cx="0" cy="-102.2" r="2.8" fill="#111"/>
<circle cx="83.5" cy="-102.9" r="2.8" fill="#111"/>
<circle cx="-146.3" cy="-56.8" r="2.8" fill="#111"/>
<circle cx="-50.1" cy="-50.1" r="2.8" fill="#111"/>
<circle cx="54.1" cy="-53.4" r="2.8" fill="#111"/>
<circle cx="156.6" cy="-59.5" r="2.8" fill="#111"/>
<circle cx="-102.2" cy="0" r="2.8" fill="#111"/>
<circle cx="0" cy="0" r="2.8" fill="#111"/>
<circle cx="102.2" cy="0" r="2.8" fill="#111"/>
<circle cx="-146.3" cy="55.8" r="2.8" fill="#111"/>
<circle cx="-50.1" cy="50.1" r="2.8" fill="#111"/>
<circle cx="54.1" cy="53.4" r="2.8" fill="#111"/>
<circle cx="156.6" cy="60.1" r="2.8" fill="#111"/>
<circle cx="-83.5" cy="102.9" r="2.8" fill="#111"/>
<circle cx="0" cy="101.9" r="2.8" fill="#111"/>
<circle cx="83.5" cy="102.9" r="2.8" fill="#111"/>
</g>
<g id="topo-implicit-700-900" transform="translate(1797.6 412.6)">
<g filter="url(#edge)"><g clip-path="url(#disk)"><g filter="url(#sm)">
<circle r="226.5" fill="#00f2bf"/>
<path fill="#01f2ad" d="M-44-220l10 0 2-2 64 0 2 2 10 0 2 2 6 0 2 2 6 0 2 2 4 0 2 2 4 0 2 2 4 0 2 2 4 0 2 2 2 0 2 2 2 0 2 2 2 0 2 2 2 0 2 2 2 0 2 2 2 0 2 2 2 0 2 2 2 0 4 4 2 0 4 4 2 0 4 4 2 0 8 8 2 0 28 28 0 2 8 8 0 2 4 4 0 2 4 4 0 2 4 4 0 2 2 2 0 2 2 2 0 2 2 2 0 2 2 2 0 2 2 2 0 2 2 2 0 2 2 2 0 2 2 2 0 4 2 2 0 4 2 2 0 4 2 2 0 4 2 2 0 6 2 2 0 6 2 2 0 10 2 2 0 64-2 2 0 10-2 2 0 6-2 2 0 6-2 2 0 4-2 2 0 4-2 2 0 4-2 2 0 4-2 2 0 2-2 2 0 2-2 2 0 2-2 2 0 2-2 2 0 2-10 11.5-7.7 10.5-4.9 8-5.4 12-26 26-2 0-2 2-2 1-8 2.6-8 4-10 7.3-12.3 11.1-1.7 0-2 2-2 0-2 2-2 0-2 2-2 0-2 2-4 0-2 2-4 0-2 2-4 0-2 2-4 0-2 2-6 0-2 2-6 0-2 2-10 0-2 2-64 0-2-2-10 0-2-2-6 0-2-2-6 0-2-2-4 0-2-2-4 0-2-2-4 0-2-2-4 0-2-2-2 0-2-2-2 0-2-2-2 0-2-2-2 0-2-2-2 0-2-2-2 0-2-2-2 0-2-2-2 0-4-4-2 0-4-4-2 0-4-4-2 0-8-8-2 0-28-28 0-2-8-8 0-2-4-4 0-2-4-4 0-2-4-4 0-2-2-2 0-2-2-2 0-2-2-2 0-2-2-2 0-2-2-2 0-2-2-2 0-2-2-2 0-2-2-2 0-4-2-2 0-4-2-2 0-4-2-2 0-4-2-2 0-6-2-2 0-6-2-2 0-10-2-2 0-64 2-2 0-10 2-2 0-6 2-2 0-6 2-2 0-4 2-2 0-4 2-2 0-4 2-2 0-4 2-2 0-2 2-2 0-2 2-2 0-2 2-2 0-2 2-2 0-2 2-2 0-2 2-2 0-2 2-2 0-2 4-4 0-2 4-4 0-2 4-4 0-2 8-8 0-2 28-28 2 0 8-8 2 0 4-4 2 0 4-4 2 0 4-4 2 0 2-2 2 0 2-2 2 0 2-2 2 0 2-2 2 0 2-2 2 0 2-2 2 0 2-2 2 0 2-2 4 0 2-2 4 0 2-2 4 0 2-2 4 0 2-2 6 0 2-2 6 0 2-2z"/>
<path fill="#03f198" d="M-44-220l10 0 2-2 64 0 2 2 10 0 2 2 6 0 2 2 6 0 2 2 4 0 2 2 4 0 2 2 4 0 2 2 4 0 2 2 2 0 2 2 2 0 2 2 2 0 2 2 2 0 2 2 2 0 2 2 2 0 2 2 2 0 2 2 2 0 4 4 2 0 4 4 2 0 4 4 2 0 8 8 2 0 28 28 0 2 8 8 0 2 4 4 0 2 4 4 0 2 4 4 0 2 2 2 0 2 2 2 0 2 2 2 0 2 2 2 0 2 2 2 0 2 2 2 0 2 2 2 0 2 2 2 0 4 2 2 0 4 2 2 0 4 2 2 0 4 2 2 0 6 2 2 0 6 2 2 0 10 2 2 0 64-2 2 0 10-2 2 0 6-2 2 0 6-2 2 0 4-2 2 0 4-2 2 0 4-2 2 0 3.9-8.4 10.1-15.6 17.2-12.9 16.8-5.8 10-5.3 16.7-2 3.3-4 4-6 3.3-18 4.2-8 4.2-6 4.2-8 6.8-24 23.3-4 0-2 2-4 0-2 2-4 0-2 2-4 0-2 2-6 0-2 2-6 0-2 2-10 0-2 2-64 0-2-2-10 0-2-2-6 0-2-2-6 0-2-2-4 0-2-2-4 0-2-2-4 0-2-2-4 0-2-2-2 0-2-2-2 0-2-2-2 0-2-2-2 0-2-2-2 0-2-2-2 0-2-2-2 0-2-2-2 0-4-4-2 0-4-4-2 0-4-4-2 0-8-8-2 0-28-28 0-2-8-8 0-2-4-4 0-2-4-4 0-2-4-4 0-2-2-2 0-2-2-2 0-2-2-2 0-2-2-2 0-2-2-2 0-2-2-2 0-2-2-2 0-2-2-2 0-4-2-2 0-4-2-2 0-4-2-2 0-4-2-2 0-6-2-2 0-6-2-2 0-10-2-2 0-64 2-2 0-10 2-2 0-6 2-2 0-6 2-2 0-4 2-2 0-4 2-2 0-4 2-2 0-4 2-2 0-2 2-2 0-2 2-2 0-2 2-2 0-2 2-2 0-2 2-2 0-2 2-2 0-2 2-2 0-2 4-4 0-2 4-4 0-2 4-4 0-2 8-8 0-2 28-28 2 0 8-8 2 0 4-4 2 0 4-4 2 0 4-4 2 0 2-2 2 0 2-2 2 0 2-2 2 0 2-2 2 0 2-2 2 0 2-2 2 0 2-2 2 0 2-2 4 0 2-2 4 0 2-2 4 0 2-2 4 0 2-2 6 0 2-2 6 0 2-2z"/>
<path fill="#06f183" d="M-44-220l10 0 2-2 64 0 2 2 10 0 2 2 6 0 2 2 6 0 2 2 4 0 2 2 4 0 2 2 4 0 2 2 4 0 2 2 2 0 2 2 2 0 2 2 2 0 2 2 2 0 2 2 2 0 2 2 2 0 2 2 2 0 2 2 2 0 4 4 2 0 4 4 2 0 4 4 2 0 8 8 2 0 28 28 0 2 8 8 0 2 4 4 0 2 4 4 0 2 4 4 0 2 2 2 0 2 2 2 0 2 2 2 0 2 2 2 0 2 2 2 0 2 2 2 0 2 2 2 0 2 2 2 0 4 2 2 0 4 2 2 0 4 2 2 0 4 2 2 0 6 2 2 0 6 2 2 0 10 2 2 0 64-2 2 0 10-2 2 0 6-2 2 0 6-2 2 0 2.2-7 11.8-9 12-16.5 18-21.3 26-4.4 8-2.5 12-2.6 4-4.7 2.3-10 1-4 1.1-10 5.7-10 7.9-14 13.1-15.4 14.9-6.6 8-2 0-2 2-4 0-2 2-4 0-2 2-6 0-2 2-6 0-2 2-10 0-2 2-64 0-2-2-10 0-2-2-6 0-2-2-6 0-2-2-4 0-2-2-4 0-2-2-4 0-2-2-4 0-2-2-2 0-2-2-2 0-2-2-2 0-2-2-2 0-2-2-2 0-2-2-2 0-2-2-2 0-2-2-2 0-4-4-2 0-4-4-2 0-4-4-2 0-8-8-2 0-28-28 0-2-8-8 0-2-4-4 0-2-4-4 0-2-4-4 0-2-2-2 0-2-2-2 0-2-2-2 0-2-2-2 0-2-2-2 0-2-2-2 0-2-2-2 0-2-2-2 0-4-2-2 0-4-2-2 0-4-2-2 0-4-2-2 0-6-2-2 0-6-2-2 0-10-2-2 0-64 2-2 0-10 2-2 0-6 2-2 0-6 2-2 0-4 2-2 0-4 2-2 0-4 2-2 0-4 2-2 0-2 2-2 0-2 2-2 0-2 2-2 0-2 2-2 0-2 2-2 0-2 2-2 0-2 2-2 0-2 4-4 0-2 4-4 0-2 4-4 0-2 8-8 0-2 28-28 2 0 8-8 2 0 4-4 2 0 4-4 2 0 4-4 2 0 2-2 2 0 2-2 2 0 2-2 2 0 2-2 2 0 2-2 2 0 2-2 2 0 2-2 2 0 2-2 4 0 2-2 4 0 2-2 4 0 2-2 4 0 2-2 6 0 2-2 6 0 2-2z"/>
<path fill="#09f06e" d="M-44-220l10 0 2-2 64 0 2 2 10 0 2 2 6 0 2 2 6 0 2 2 4 0 2 2 4 0 2 2 4 0 2 2 4 0 2 2 2 0 2 2 2 0 2 2 2 0 2 2 2 0 2 2 2 0 2 2 2 0 2 2 2 0 2 2 2 0 4 4 2 0 4 4 2 0 4 4 2 0 8 8 2 0 28 28 0 2 8 8 0 2 4 4 0 2 4 4 0 2 4 4 0 2 2 2 0 2 2 2 0 2 2 2 0 2 2 2 0 2 2 2 0 2 2 2 0 2 2 2 0 2 2 2 0 4 2 2 0 4 2 2 0 4 2 2 0 4 2 2 0 6 2 2 0 6 2 2 0 10 2 2 0 43.9-4.8 24.1-3.6 14-5.7 14-7.1 12-10.8 14-11.2 12-12.8 15.4-15.7 16.6-8.3 10-4.4 4-9.6 6.5-18 14.9-30.3 28.6-11.4 14-2.3 2-4 0-2 2-6 0-2 2-6 0-2 2-10 0-2 2-64 0-2-2-10 0-2-2-6 0-2-2-6 0-2-2-4 0-2-2-4 0-2-2-4 0-2-2-4 0-2-2-2 0-2-2-2 0-2-2-2 0-2-2-2 0-2-2-2 0-2-2-2 0-2-2-2 0-2-2-2 0-4-4-2 0-4-4-2 0-4-4-2 0-8-8-2 0-28-28 0-2-8-8 0-2-4-4 0-2-4-4 0-2-4-4 0-2-2-2 0-2-2-2 0-2-2-2 0-2-2-2 0-2-2-2 0-2-2-2 0-2-2-2 0-2-2-2 0-4-2-2 0-4-2-2 0-4-2-2 0-4-2-2 0-6-2-2 0-6-2-2 0-10-2-2 0-64 2-2 0-10 2-2 0-6 2-2 0-6 2-2 0-4 2-2 0-4 2-2 0-4 2-2 0-4 2-2 0-2 2-2 0-2 2-2 0-2 2-2 0-2 2-2 0-2 2-2 0-2 2-2 0-2 2-2 0-2 4-4 0-2 4-4 0-2 4-4 0-2 8-8 0-2 28-28 2 0 8-8 2 0 4-4 2 0 4-4 2 0 4-4 2 0 2-2 2 0 2-2 2 0 2-2 2 0 2-2 2 0 2-2 2 0 2-2 2 0 2-2 2 0 2-2 4 0 2-2 4 0 2-2 4 0 2-2 4 0 2-2 6 0 2-2 6 0 2-2z"/>
<path fill="#1cf157" d="M-44-220l10 0 2-2 64 0 2 2 10 0 2 2 6 0 2 2 6 0 2 2 4 0 2 2 4 0 2 2 4 0 2 2 4 0 2 2 2 0 2 2 2 0 2 2 2 0 2 2 2 0 2 2 2 0 2 2 2 0 2 2 2 0 2 2 2 0 4 4 2 0 4 4 2 0 4 4 2 0 8 8 2 0 28 28 0 2 8 8 0 2 4 4 0 2 4 4 0 2 4 4 0 2 2 2 0 2 2 2 0 2 2 2 0 2 2 2 0 2 2 2 0 2 2 2 0 2 2 2 0 2 2 2 0 4 2 2 0 4 2 2 0 4 2 2 0 4 2 2 0 6 2 2 0 6 2 2 0 10 2 2 0 6.8-3.9 13.2-2.7 12-6.6 44-2.1 8-3 8-3.9 8-5 8-10.5 14-24.3 27.7-26 25.3-26.3 23-31.7 29.5-17.3 20.5-4.7 0-2 2-6 0-2 2-10 0-2 2-64 0-2-2-10 0-2-2-6 0-2-2-6 0-2-2-4 0-2-2-4 0-2-2-4 0-2-2-4 0-2-2-2 0-2-2-2 0-2-2-2 0-2-2-2 0-2-2-2 0-2-2-2 0-2-2-2 0-2-2-2 0-4-4-2 0-4-4-2 0-4-4-2 0-8-8-2 0-28-28 0-2-8-8 0-2-4-4 0-2-4-4 0-2-4-4 0-2-2-2 0-2-2-2 0-2-2-2 0-2-2-2 0-2-2-2 0-2-2-2 0-2-2-2 0-2-2-2 0-4-2-2 0-4-2-2 0-4-2-2 0-4-2-2 0-6-2-2 0-6-2-2 0-10-2-2 0-64 2-2 0-10 2-2 0-6 2-2 0-6 2-2 0-4 2-2 0-4 2-2 0-4 2-2 0-4 2-2 0-2 2-2 0-2 2-2 0-2 2-2 0-2 2-2 0-2 2-2 0-2 2-2 0-2 2-2 0-2 4-4 0-2 4-4 0-2 4-4 0-2 8-8 0-2 28-28 2 0 8-8 2 0 4-4 2 0 4-4 2 0 4-4 2 0 2-2 2 0 2-2 2 0 2-2 2 0 2-2 2 0 2-2 2 0 2-2 2 0 2-2 2 0 2-2 4 0 2-2 4 0 2-2 4 0 2-2 4 0 2-2 6 0 2-2 6 0 2-2z"/>
<path fill="#41f23d" d="M-44-220l10 0 2-2 64 0 2 2 10 0 2 2 6 0 2 2 6 0 2 2 4 0 2 2 4 0 2 2 4 0 2 2 4 0 2 2 2 0 2 2 2 0 2 2 2 0 2 2 2 0 2 2 2 0 2 2 2 0 2 2 2 0 2 2 2 0 4 4 2 0 4 4 2 0 4 4 2 0 8 8 2 0 28 28 0 2 8 8 0 2 4 4 0 2 4 4 0 2 4 4 0 2 2 2 0 2 2 2 0 2 2 2 0 2 2 2 0 2 2 2 0 2 2 2 0 2 2 2 0 2 2 2 0 4 2 2 0 4 2 2 0 4 2 2 0 4 2 2 0 6 2 2 0.4 8-8.4 26-3.8 16-1.6 14-1.3 26-1.6 10-3.7 12-6.3 12-11 16-24.4 28-24.3 23.5-56 50.4-18 19.9-8 8-4 0.2-2 2-10 0-2 2-64 0-2-2-10 0-2-2-6 0-2-2-6 0-2-2-4 0-2-2-4 0-2-2-4 0-2-2-4 0-2-2-2 0-2-2-2 0-2-2-2 0-2-2-2 0-2-2-2 0-2-2-2 0-2-2-2 0-2-2-2 0-4-4-2 0-4-4-2 0-4-4-2 0-8-8-2 0-28-28 0-2-8-8 0-2-4-4 0-2-4-4 0-2-4-4 0-2-2-2 0-2-2-2 0-2-2-2 0-2-2-2 0-2-2-2 0-2-2-2 0-2-2-2 0-2-2-2 0-4-2-2 0-4-2-2 0-4-2-2 0-4-2-2 0-6-2-2 0-6-2-2 0-10-2-2 0-64 2-2 0-10 2-2 0-6 2-2 0-6 2-2 0-4 2-2 0-4 2-2 0-4 2-2 0-4 2-2 0-2 2-2 0-2 2-2 0-2 2-2 0-2 2-2 0-2 2-2 0-2 2-2 0-2 2-2 0-2 4-4 0-2 4-4 0-2 4-4 0-2 8-8 0-2 28-28 2 0 8-8 2 0 4-4 2 0 4-4 2 0 4-4 2 0 2-2 2 0 2-2 2 0 2-2 2 0 2-2 2 0 2-2 2 0 2-2 2 0 2-2 2 0 2-2 4 0 2-2 4 0 2-2 4 0 2-2 4 0 2-2 6 0 2-2 6 0 2-2z"/>
<path fill="#69f427" d="M-44-220l10 0 2-2 64 0 2 2 10 0 2 2 6 0 2 2 6 0 2 2 4 0 2 2 4 0 2 2 4 0 2 2 4 0 2 2 2 0 2 2 2 0 2 2 2 0 2 2 2 0 2 2 2 0 2 2 2 0 2 2 2 0 2 2 2 0 4 4 2 0 4 4 2 0 4 4 2 0 8 8 2 0 28 28 0 2 8 8 0 2 4 4 0 2 4 4 0 2 4 4 0 2 2 2 0 2 2 2 0 2 2 2 0 2 2 2 0 2 2 2 0 2 2 2 0 2 2 2 0 2 2 2 0 4 2 2 0 4 2 2 0 4 2 2 0 4 0.8 2-4.9 12-4.8 14-6.1 20-2.5 12-0.8 12 1.1 28-0.6 8-1.2 6-1.7 6-2.6 6-10.6 18-4.4 6-18.7 22-25 24.8-54 47.5-24 24.9-8 7.4-6.5 5.4-5.5 0-2 2-64 0-2-2-10 0-2-2-6 0-2-2-6 0-2-2-4 0-2-2-4 0-2-2-4 0-2-2-4 0-2-2-2 0-2-2-2 0-2-2-2 0-2-2-2 0-2-2-2 0-2-2-2 0-2-2-2 0-2-2-2 0-4-4-2 0-4-4-2 0-4-4-2 0-8-8-2 0-28-28 0-2-8-8 0-2-4-4 0-2-4-4 0-2-4-4 0-2-2-2 0-2-2-2 0-2-2-2 0-2-2-2 0-2-2-2 0-2-2-2 0-2-2-2 0-2-2-2 0-4-2-2 0-4-2-2 0-4-2-2 0-4-2-2 0-6-2-2 0-6-2-2 0-10-2-2 0-64 2-2 0-10 2-2 0-6 2-2 0-6 2-2 0-4 2-2 0-4 2-2 0-4 2-2 0-4 2-2 0-2 2-2 0-2 2-2 0-2 2-2 0-2 2-2 0-2 2-2 0-2 2-2 0-2 2-2 0-2 4-4 0-2 4-4 0-2 4-4 0-2 8-8 0-2 28-28 2 0 8-8 2 0 4-4 2 0 4-4 2 0 4-4 2 0 2-2 2 0 2-2 2 0 2-2 2 0 2-2 2 0 2-2 2 0 2-2 2 0 2-2 2 0 2-2 4 0 2-2 4 0 2-2 4 0 2-2 4 0 2-2 6 0 2-2 6 0 2-2z"/>
<path fill="#94f714" d="M-44-220l10 0 2-2 64 0 2 2 10 0 2 2 6 0 2 2 6 0 2 2 4 0 2 2 4 0 2 2 4 0 2 2 4 0 2 2 2 0 2 2 2 0 2 2 2 0 2 2 2 0 2 2 2 0 2 2 2 0 2 2 2 0 2 2 2 0 4 4 2 0 4 4 2 0 4 4 2 0 8 8 2 0 28 28 0 2 8 8 0 2 4 4 0 2 4 4 0 2 4 4 0 2 2 2 0 2 2 2 0 2 2 2 0 2 2 2 0 2 2 2 0 2 2 2 0 2 2 2 0 2 2 2 0 4 2 2 0 4 0.7 2-6.7 14.3-6 15.7-6.7 22-3.5 16-0.7 6 0.2 6 3.2 30 0 6-1.1 8-3 10-11 20-21.7 26-23.9 24-53.8 46.3-28 27.7-10 8.3-10.7 7.7-59.3 0-2-2-10 0-2-2-6 0-2-2-6 0-2-2-4 0-2-2-4 0-2-2-4 0-2-2-4 0-2-2-2 0-2-2-2 0-2-2-2 0-2-2-2 0-2-2-0.9 0-33.1-20.5-6-5.5-2 0-28-28 0-2-8-8 0-2-4-4 0-2-4-4 0-2-4-4 0-2-2-2 0-2-2-2 0-2-2-2 0-2-2-2 0-2-2-2 0-2-2-2 0-2-2-2 0-2-2-2 0-4-2-2 0-4-2-2 0-4-2-2 0-4-2-2 0-6-2-2 0-6-2-2 0-10-2-2 0-64 2-2 0-10 2-2 0-6 2-2 0-6 2-2 0-4 2-2 0-4 2-2 0-4 2-2 0-4 2-2 0-2 2-2 0-2 2-2 0-2 2-2 0-2 2-2 0-2 2-2 0-2 2-2 0-2 2-2 0-2 4-4 0-2 4-4 0-2 4-4 0-2 8-8 0-2 28-28 2 0 8-8 2 0 4-4 2 0 4-4 2 0 4-4 2 0 2-2 2 0 2-2 2 0 2-2 2 0 2-2 2 0 2-2 2 0 2-2 2 0 2-2 2 0 2-2 4 0 2-2 4 0 2-2 4 0 2-2 4 0 2-2 6 0 2-2 6 0 2-2z"/>
<path fill="#b5f909" d="M-44-220l10 0 2-2 64 0 2 2 10 0 2 2 6 0 2 2 6 0 2 2 4 0 2 2 4 0 2 2 4 0 2 2 4 0 2 2 2 0 2 2 2 0 2 2 2 0 2 2 2 0 2 2 2 0 2 2 2 0 2 2 2 0 2 2 2 0 4 4 2 0 4 4 2 0 4 4 2 0 8 8 2 0 28 28 0 2 8 8 0 2 4 4 0 2 4 4 0 2 4 4 0 2 2 2 0 2 2 2 0 2 2 2 0 2 2 2 0 2 2 2 0 2 2 2 0 2 2 2 0 2 1.5 2-8.2 16-7.3 17-5.1 15-4.6 18-2 12-0.5 10 4.5 34-0.2 12-1.1 6-2 6-9 17.8-22 26-24 23.9-54 46-28 26.7-14 10.9-13.9 8.7-48.1 0-2-2-10 0-2-2-6 0-2-2-6 0-2-2-4 0-2-2-4 0-2-2-2.2 0-19-16-32.8-20.6-20-14.3-10.2-9.1-10.7-12-11.1-14.8-9.7-15.2-9.5-18-10.8-23.5-10-27.2 0-5.3-2-2 0-64 2-2 0-10 2-2 0-6 2-2 0-6 2-2 0-4 2-2 0-4 2-2 0-4 2-2 0-4 2-2 0-2 2-2 0-2 2-2 0-2 2-2 0-2 2-2 0-2 2-2 0-2 2-2 0-2 2-2 0-2 4-4 0-2 4-4 0-2 4-4 0-2 8-8 0-2 28-28 2 0 8-8 2 0 4-4 2 0 4-4 2 0 4-4 2 0 2-2 2 0 2-2 2 0 2-2 2 0 2-2 2 0 2-2 2 0 2-2 2 0 2-2 2 0 2-2 4 0 2-2 4 0 2-2 4 0 2-2 4 0 2-2 6 0 2-2 6 0 2-2z"/>
<path fill="#cafb06" d="M-44-220l10 0 2-2 64 0 2 2 10 0 2 2 6 0 2 2 6 0 2 2 4 0 2 2 4 0 2 2 4 0 2 2 4 0 2 2 2 0 2 2 2 0 2 2 2 0 2 2 2 0 2 2 2 0 2 2 2 0 2 2 2 0 2 2 2 0 4 4 2 0 4 4 2 0 4 4 2 0 8 8 2 0 28 28 0 2 8 8 0 2 4 4 0 2 4 4 0 2 4 4 0 2 2 2 0 2 2 2 0 2 2 2 0 2 2 2 0 2 2 2 0 2 0.9 2-10.5 20-8.8 20-4 12-4.4 18-1.7 12-0.4 12 1 10 4 26 0.3 12-0.8 6-1.7 6-3.3 8-3.2 6-3.4 4.7-14 16.2-24 24.3-59.3 50.8-26.7 24.6-11.7 9.4-10.3 6.9-10 5.5-8.9 3.6-33.1 0-2-2-10 0-2-2-6 0-2-2-2.1 0-15.9-11.4-18-15.5-32.3-21.1-14-10-10-8-8.1-8-8.4-10-11.2-15-8-12.3-10-17.8-12.4-24.9-5.1-12-5.3-16-2.4-4-4.8-5.5 0-56.5 2-2 0-10 2-2 0-6 2-2 0-6 2-2 0-4 2-2 0-4 2-2 0-4 2-2 0-4 2-2 0-2 2-2 0-2 2-2 0-2 2-2 0-2 2-2 0-2 2-2 0-2 2-2 0-2 2-2 0-2 4-4 0-2 4-4 0-2 4-4 0-2 8-8 0-2 28-28 2 0 8-8 2 0 4-4 2 0 4-4 2 0 4-4 2 0 2-2 2 0 2-2 2 0 2-2 2 0 2-2 2 0 2-2 2 0 2-2 2 0 2-2 2 0 2-2 4 0 2-2 4 0 2-2 4 0 2-2 4 0 2-2 6 0 2-2 6 0 2-2z"/>
<path fill="#dffc04" d="M-44-220l10 0 2-2 64 0 2 2 10 0 2 2 6 0 2 2 6 0 2 2 4 0 2 2 4 0 2 2 4 0 2 2 4 0 2 2 2 0 2 2 2 0 2 2 2 0 2 2 2 0 2 2 2 0 2 2 2 0 2 2 2 0 2 2 2 0 4 4 2 0 4 4 2 0 4 4 2 0 8 8 2 0 28 28 0 2 8 8 0 2 4 4 0 2 4 4 0 2 4 4 0 2 2 2 0 2 2 2 0 2 2 2 0 2 0.9 2-12.9 24.3-10.7 23.7-2.6 8-4.7 20-1.5 12-0.1 12 1.1 10 4.7 30 0.6 10-0.5 6-1.3 6-2.1 6-2.9 5.5-16 19.2-24 23.8-65 55.5-27.3 24-13.7 9.9-12 6.7-12 4.4-12 1.9-10-0.1-10-1.6-8-2.6-8-4.2-20-14.3-16-13.2-29.7-20.9-15.5-12-10.8-9.4-6-6.6-12-15.5-12-17.1-10-16.6-17-30.8-3.7-8-5.4-16-3-4-8.9-9.3 0-48.7 2-2 0-10 2-2 0-6 2-2 0-6 2-2 0-4 2-2 0-4 2-2 0-4 2-2 0-4 2-2 0-2 2-2 0-2 2-2 0-2 2-2 0-2 2-2 0-2 2-2 0-2 2-2 0-2 2-2 0-2 4-4 0-2 4-4 0-2 4-4 0-2 8-8 0-2 28-28 2 0 8-8 2 0 4-4 2 0 4-4 2 0 4-4 2 0 2-2 2 0 2-2 2 0 2-2 2 0 2-2 2 0 2-2 2 0 2-2 2 0 2-2 2 0 2-2 4 0 2-2 4 0 2-2 4 0 2-2 4 0 2-2 6 0 2-2 6 0 2-2z"/>
<path fill="#f4fe01" d="M-44-220l10 0 2-2 64 0 2 2 10 0 2 2 6 0 2 2 6 0 2 2 4 0 2 2 4 0 2 2 4 0 2 2 4 0 2 2 2 0 2 2 2 0 2 2 2 0 2 2 2 0 2 2 2 0 2 2 2 0 2 2 2 0 2 2 2 0 4 4 2 0 4 4 2 0 4 4 2 0 8 8 2 0 28 28 0 2 8 8 0 2 4 4 0 2 4 4 0 2 4 4 0 2 2 2 0 2 1.3 2-6.6 12-10.7 21.3-10 21.4-1.8 5.3-5.3 22-1.5 12 0.2 14 7 42 0.7 8-0.3 6-1 6-3 8-16.2 20-22.8 22.6-92 77.3-12 8.7-12 7-12 4.6-10 1.8-8.9 0-9.1-1.3-9.2-2.7-6.8-3.6-24-16.4-12-9.7-24-17.9-28-24.4-5.6-6-20.4-27-35.2-55-3.2-6-5.6-14-16-18.9 0-41.1 2-2 0-10 2-2 0-6 2-2 0-6 2-2 0-4 2-2 0-4 2-2 0-4 2-2 0-4 2-2 0-2 2-2 0-2 2-2 0-2 2-2 0-2 2-2 0-2 2-2 0-2 2-2 0-2 2-2 0-2 4-4 0-2 4-4 0-2 4-4 0-2 8-8 0-2 28-28 2 0 8-8 2 0 4-4 2 0 4-4 2 0 4-4 2 0 2-2 2 0 2-2 2 0 2-2 2 0 2-2 2 0 2-2 2 0 2-2 2 0 2-2 2 0 2-2 4 0 2-2 4 0 2-2 4 0 2-2 4 0 2-2 6 0 2-2 6 0 2-2z"/>
<path fill="#fff700" d="M-44-220l10 0 2-2 64 0 2 2 10 0 2 2 6 0 2 2 6 0 2 2 4 0 2 2 4 0 2 2 4 0 2 2 4 0 2 2 2 0 2 2 2 0 2 2 2 0 2 2 2 0 2 2 2 0 2 2 2 0 2 2 2 0 2 2 2 0 4 4 2 0 4 4 2 0 4 4 2 0 8 8 2 0 28 28 0 2 8 8 0 2 4 4 0 2 4 4 0 2 3.5 4-29.5 60-3.4 10-5.4 22-1.5 12 0.3 10 1.2 8 7.3 34 1.2 10-0.1 6-0.9 6-1.4 4-2.2 4-13.9 18-19.4 20-61.8 51.4-32 25-14 9.4-8 4.6-8 3.5-6 1.8-6 1-8 0.1-8-1-8-2.2-8-3.7-26-16.7-32-24.8-11.6-10.4-15.9-16-6.7-8-36.7-52-19.1-25.4-12-20-18-23.9 0-32.7 2-2 0-10 2-2 0-6 2-2 0-6 2-2 0-4 2-2 0-4 2-2 0-4 2-2 0-4 2-2 0-2 2-2 0-2 2-2 0-2 2-2 0-2 2-2 0-2 2-2 0-2 2-2 0-2 2-2 0-2 4-4 0-2 4-4 0-2 4-4 0-2 8-8 0-2 28-28 2 0 8-8 2 0 4-4 2 0 4-4 2 0 4-4 2 0 2-2 2 0 2-2 2 0 2-2 2 0 2-2 2 0 2-2 2 0 2-2 2 0 2-2 2 0 2-2 4 0 2-2 4 0 2-2 4 0 2-2 4 0 2-2 6 0 2-2 6 0 2-2z"/>
<path fill="#ffe700" d="M-44-220l10 0 2-2 64 0 2 2 10 0 2 2 6 0 2 2 6 0 2 2 4 0 2 2 4 0 2 2 4 0 2 2 4 0 2 2 2 0 2 2 2 0 2 2 2 0 2 2 2 0 2 2 2 0 2 2 2 0 2 2 2 0 2 2 2 0 4 4 2 0 4 4 2 0 4 4 2 0 8 8 2 0 28 28 0 2 8 8 0 2 4 4 0 2 2 2 0.2 2-9.4 22-17.4 34-4.5 10-5 16-5.9 24-0.7 8 0.9 8 9.4 36 2.4 13.8 0 6.2-0.6 4-1.2 4-3 6-11.3 16-18.8 20-61.1 49.7-30 22-14 8.8-10 5.4-6 2.5-6 1.8-6 0.9-8-0.1-8-1.4-8-2.6-8-3.9-16-9.2-8-5.3-16-11.6-20.5-17-18.7-20-4.9-6-31-46-12.8-16-16.1-18.5-14-17.9-20-30.9 0-22.7 2-2 0-10 2-2 0-6 2-2 0-6 2-2 0-4 2-2 0-4 2-2 0-4 2-2 0-4 2-2 0-2 2-2 0-2 2-2 0-2 2-2 0-2 2-2 0-2 2-2 0-2 2-2 0-2 2-2 0-2 4-4 0-2 4-4 0-2 4-4 0-2 8-8 0-2 28-28 2 0 8-8 2 0 4-4 2 0 4-4 2 0 4-4 2 0 2-2 2 0 2-2 2 0 2-2 2 0 2-2 2 0 2-2 2 0 2-2 2 0 2-2 2 0 2-2 4 0 2-2 4 0 2-2 4 0 2-2 4 0 2-2 6 0 2-2 6 0 2-2z"/>
<path fill="#ffd600" d="M-44-220l10 0 2-2 64 0 2 2 10 0 2 2 6 0 2 2 6 0 2 2 4 0 2 2 4 0 2 2 4 0 2 2 4 0 2 2 2 0 2 2 2 0 2 2 2 0 2 2 2 0 2 2 2 0 2 2 2 0 2 2 2 0 2 2 2 0 4 4 2 0 4 4 2 0 4 4 2 0 8 8 2 0 28 28 0 2 8 8 0 2 0.8 2-10.1 28-16.7 32-5.6 12-4.1 12-9.7 34-0.4 6 1.2 6 11.1 34 3.2 14 0.4 6-0.8 6-1.9 6-3 6-9.5 14-16.9 18.4-30 24.4-30.1 23.2-19.9 14.1-16 10.2-20 9.8-6 1.9-6 1-10-0.1-10-2-8-3.1-18-8.8-24-15.7-20-16.3-18.8-21-4.8-6-26.4-42.4-4.1-5.6-13.9-16.7-30.9-31.3-23.1-41.1 0-10.9 2-2 0-10 2-2 0-6 2-2 0-6 2-2 0-4 2-2 0-4 2-2 0-4 2-2 0-4 2-2 0-2 2-2 0-2 2-2 0-2 2-2 0-2 2-2 0-2 2-2 0-2 2-2 0-2 2-2 0-2 4-4 0-2 4-4 0-2 4-4 0-2 8-8 0-2 28-28 2 0 8-8 2 0 4-4 2 0 4-4 2 0 4-4 2 0 2-2 2 0 2-2 2 0 2-2 2 0 2-2 2 0 2-2 2 0 2-2 2 0 2-2 2 0 2-2 4 0 2-2 4 0 2-2 4 0 2-2 4 0 2-2 6 0 2-2 6 0 2-2z"/>
<path fill="#ffc600" d="M-44-220l10 0 2-2 64 0 2 2 10 0 2 2 6 0 2 2 6 0 2 2 4 0 2 2 4 0 2 2 4 0 2 2 4 0 2 2 2 0 2 2 2 0 2 2 2 0 2 2 2 0 2 2 2 0 2 2 2 0 2 2 2 0 2 2 2 0 4 4 2 0 4 4 2 0 4 4 2 0 8 8 2 0 28 28 0 2 2 2 0.3 2-10 32-17.5 34-5.3 12-9.5 30-5.1 14-1.5 6-0.1 6 1.3 6 13 34 2.4 8 1.1 6 0.2 6-1 6-2 6-4.1 8-5.2 8-15.7 18-29.3 23.8-32 23.6-18 11.9-16 9.3-20 8.6-10 2-10-0.2-10-1.9-8-2.7-16-6.8-22-13.4-20.5-16.2-12.6-14-9.8-12-27.1-45.6-14-18.1-18-18.5-14.8-11.8-3.2-3.4-13.4-28.6-10.9-20 0.3-12 2-2 0-6 2-2 0-6 2-2 0-4 2-2 0-4 2-2 0-4 2-2 0-4 2-2 0-2 2-2 0-2 2-2 0-2 2-2 0-2 2-2 0-2 2-2 0-2 2-2 0-2 2-2 0-2 4-4 0-2 4-4 0-2 4-4 0-2 8-8 0-2 28-28 2 0 8-8 2 0 4-4 2 0 4-4 2 0 4-4 2 0 2-2 2 0 2-2 2 0 2-2 2 0 2-2 2 0 2-2 2 0 2-2 2 0 2-2 2 0 2-2 4 0 2-2 4 0 2-2 4 0 2-2 4 0 2-2 6 0 2-2 6 0 2-2z"/>
<path fill="#ffb600" d="M-44-220l10 0 2-2 64 0 2 2 10 0 2 2 6 0 2 2 6 0 2 2 4 0 2 2 4 0 2 2 4 0 2 2 4 0 2 2 2 0 2 2 2 0 2 2 2 0 2 2 2 0 2 2 2 0 2 2 2 0 2 2 2 0 2 2 2 0 4 4 2 0 4 4 2 0 4 4 2 0 8 8 2 0 23.5 24-12.8 40-15 32-5.7 14-8.7 28-5.7 16-2.2 8-0.6 8 1.3 8 2.8 8 10.7 24 3.4 12 0.5 6-0.6 6-1.7 6-3.6 8-8.2 12-10.2 12-18.8 16-22.4 16.5-22 14.8-26 15.1-20 8.5-6 1.8-6 0.9-8 0.1-10-1.3-12-3.2-12-4.5-10-5.3-12-7.2-14-10.1-6.6-6.1-12.6-14-8.8-11.3-24-42.7-14-19.7-8-9.3-10-10.3-6-5.3-9.8-7.4-3.6-4-2.6-4.8-10.7-25.2-13.3-26.1 0-7.9 2-2 0-6 2-2 0-4 2-2 0-4 2-2 0-4 2-2 0-4 2-2 0-2 2-2 0-2 2-2 0-2 2-2 0-2 2-2 0-2 2-2 0-2 2-2 0-2 2-2 0-2 4-4 0-2 4-4 0-2 4-4 0-2 8-8 0-2 28-28 2 0 8-8 2 0 4-4 2 0 4-4 2 0 4-4 2 0 2-2 2 0 2-2 2 0 2-2 2 0 2-2 2 0 2-2 2 0 2-2 2 0 2-2 2 0 2-2 4 0 2-2 4 0 2-2 4 0 2-2 4 0 2-2 6 0 2-2 6 0 2-2z"/>
<path fill="#ffa600" d="M-44-220l10 0 2-2 64 0 2 2 10 0 2 2 6 0 2 2 6 0 2 2 4 0 2 2 4 0 2 2 4 0 2 2 4 0 2 2 2 0 2 2 2 0 2 2 2 0 2 2 2 0 2 2 2 0 2 2 2 0 2 2 2 0 2 2 2 0 4 4 2 0 4 4 2 0 4 4 2 0 8 8 2 0 14 14 1.4 2-4.6 12-10.7 32-15.3 40-10.6 36-6.9 20-2.5 10-0.7 8 1.1 8 2.2 6 10.8 24 2.7 8 1.1 5.5 0.2 6.5-0.9 6-2 6-2.8 6-7.4 12-6.7 8-16.4 14.6-20 14.5-24 14.9-22 12-20 8.8-8 2.4-6 0.9-10 0.2-12-1.3-12-2.9-10-3.9-12.1-6.2-17.9-11.6-5.1-4.4-10.9-11.5-8.7-10.5-5.3-7.6-20-37.9-14-21.3-6-7.9-12-13.9-16.1-15.4-3.9-5.2-11.1-24.8-18.9-39.4 0-0.6 2-2 0-4 2-2 0-4 2-2 0-4 2-2 0-4 2-2 0-2 2-2 0-2 2-2 0-2 2-2 0-2 2-2 0-2 2-2 0-2 2-2 0-2 2-2 0-2 4-4 0-2 4-4 0-2 4-4 0-2 8-8 0-2 28-28 2 0 8-8 2 0 4-4 2 0 4-4 2 0 4-4 2 0 2-2 2 0 2-2 2 0 2-2 2 0 2-2 2 0 2-2 2 0 2-2 2 0 2-2 2 0 2-2 4 0 2-2 4 0 2-2 4 0 2-2 4 0 2-2 6 0 2-2 6 0 2-2z"/>
<path fill="#ff9500" d="M-44-220l10 0 2-2 64 0 2 2 10 0 2 2 6 0 2 2 6 0 2 2 4 0 2 2 4 0 2 2 4 0 2 2 4 0 2 2 2 0 2 2 2 0 2 2 2 0 2 2 2 0 2 2 2 0 2 2 2 0 2 2 2 0 2 2 2 0 4 4 2 0 4 4 2 0 4 4 2 0 8 8 2 0 6 6 1 2-6.8 16-9.3 26-6.4 20-7.9 28-9.3 36-9.3 28-2.5 10-0.3 8 1 6 9.6 22 4.2 12 1.6 8 0.1 6-0.9 6-1.9 6-5.1 12-5.3 8-14.3 14-22.2 15.9-22 12.2-24 12-20 8.5-6 1.5-6 0.7-14 0.1-12-1.1-8-2-10-3.9-8-3.9-18-11-17-17-7-8.9-4.8-7.1-16.9-34-10.8-18-9.5-13.8-18-23.7-8.7-10.5-4-6-16.6-34-10.2-24-6-12 1.5-2 0-4 2-2 0-4 2-2 0-2 2-2 0-2 2-2 0-2 2-2 0-2 2-2 0-2 2-2 0-2 2-2 0-2 2-2 0-2 4-4 0-2 4-4 0-2 4-4 0-2 8-8 0-2 28-28 2 0 8-8 2 0 4-4 2 0 4-4 2 0 4-4 2 0 2-2 2 0 2-2 2 0 2-2 2 0 2-2 2 0 2-2 2 0 2-2 2 0 2-2 2 0 2-2 4 0 2-2 4 0 2-2 4 0 2-2 4 0 2-2 6 0 2-2 6 0 2-2z"/>
<path fill="#ff8500" d="M-44-220l10 0 2-2 64 0 2 2 10 0 2 2 6 0 2 2 6 0 2 2 4 0 2 2 4 0 2 2 4 0 2 2 4 0 2 2 2 0 2 2 2 0 2 2 2 0 2 2 2 0 2 2 2 0 2 2 2 0 2 2 2 0 2 2 2 0 4 4 2 0 4 4 2 0 4 4 2 0 8 8 0.9 0-5.4 10-3.6 8-9.1 28-6.4 24-14.3 64-3.6 12-7.2 20-1.9 8-0.5 8 0.9 6 9.7 26 2.8 10 0.9 6 0.1 6-0.8 6-2.6 10-2.4 6-4 6-11.5 12.3-4.6 3.7-15.4 10.3-22 11.2-26 12.3-18 7.2-6 1.5-6 0.8-14 0.5-10-0.5-8-1.7-12-4.4-22-12.3-13.4-12.9-4.6-5.1-6-8-4.3-6.9-13.1-28-7.6-14-10.2-16-13.9-20-16.6-28-15.5-32-12.5-30-8.3-16.4 0-3.6 2-2 0-2 2-2 0-2 2-2 0-2 2-2 0-2 2-2 0-2 2-2 0-2 2-2 0-2 4-4 0-2 4-4 0-2 4-4 0-2 8-8 0-2 28-28 2 0 8-8 2 0 4-4 2 0 4-4 2 0 4-4 2 0 2-2 2 0 2-2 2 0 2-2 2 0 2-2 2 0 2-2 2 0 2-2 2 0 2-2 2 0 2-2 4 0 2-2 4 0 2-2 4 0 2-2 4 0 2-2 6 0 2-2 6 0 2-2z"/>
<path fill="#ff7300" d="M-44-220l10 0 2-2 64 0 2 2 10 0 2 2 6 0 2 2 6 0 2 2 4 0 2 2 4 0 2 2 4 0 2 2 4 0 2 2 2 0 2 2 2 0 2 2 2 0 2 2 2 0 2 2 2 0 2 2 2 0 2 2 2 0 2 2 2 0 4 4 2 0 4 4 2 0 4 4 2 0 0.3 2-8.5 14-2.8 6-2.6 8-9.8 42-7.3 42-5.5 26-4 14-8.4 22-1.9 8-0.6 8 1.1 8 9.1 28 2.3 12 0.2 6-0.6 6-1.4 6-2.3 6-5.2 8-7.4 8-7.9 6-10.8 6.6-40 18.9-16 6.8-12 3.8-14 2-12 0.1-8-0.8-10-2.6-10-4-12-6.3-6-4.2-11.1-10.3-6.9-8.2-4-5.8-4-7.2-10.9-24.8-4.1-8-9.6-16-16-24-4.4-8-18.3-42-15.9-40-7.5-16-7.3-13.4 0-2.6 2-2 0-2 2-2 0-2 2-2 0-2 2-2 0-2 4-4 0-2 4-4 0-2 4-4 0-2 8-8 0-2 28-28 2 0 8-8 2 0 4-4 2 0 4-4 2 0 4-4 2 0 2-2 2 0 2-2 2 0 2-2 2 0 2-2 2 0 2-2 2 0 2-2 2 0 2-2 2 0 2-2 4 0 2-2 4 0 2-2 4 0 2-2 4 0 2-2 6 0 2-2 6 0 2-2z"/>
<path fill="#ff5e00" d="M-44-220l10 0 2-2 64 0 2 2 10 0 2 2 6 0 2 2 6 0 2 2 4 0 2 2 4 0 2 2 4 0 2 2 4 0 2 2 2 0 2 2 2 0 2 2 2 0 2 2 2 0 2 2 2 0 2 2 2 0 2 2 2 0 2 2 2 0 4 4 2 0 4 4 0.7 0-11 16-3 6-2 6-8.9 48-5.9 46-4.5 22-3.3 12-9.5 22-3.5 12-0.7 8 0.7 8 8.5 30 1.8 10-0.2 10-1.2 5.2-1.8 4.8-4.2 6.7-6 6.4-6.7 4.9-11 6-38.3 18-14.1 6-13.9 4.1-14 1.7-10 0-10-1.3-10-2.7-10-4-8-4.3-8-5.9-7.9-7.6-6.4-8-6.7-12-8.3-20-3.8-8-10.6-18-14.7-22-4.3-8-2.9-8-3.9-14-8.1-22-10.5-34-12.7-28-11.2-19.9 2-2.1 0-2 4-4 0-2 4-4 0-2 4-4 0-2 8-8 0-2 28-28 2 0 8-8 2 0 4-4 2 0 4-4 2 0 4-4 2 0 2-2 2 0 2-2 2 0 2-2 2 0 2-2 2 0 2-2 2 0 2-2 2 0 2-2 2 0 2-2 4 0 2-2 4 0 2-2 4 0 2-2 4 0 2-2 6 0 2-2 6 0 2-2z"/>
<path fill="#ff4a00" d="M-44-220l10 0 2-2 64 0 2 2 10 0 2 2 6 0 2 2 6 0 2 2 4 0 2 2 4 0 2 2 4 0 2 2 4 0 2 2 2 0 2 2 2 0 2 2 2 0 2 2 2 0 2 2 2 0 2 2 2 0 2 2 2 0 2 2 2 0 2 2 0.8 2-12.9 18-3.2 6-1.4 4-1.3 6-6 40-3.1 42-2.5 18-3.6 16-2.3 8-2.6 6-10.3 20-3 8-1.4 6-0.7 8 0.5 6 7.7 32 1.3 8-0.5 8-1.9 6-2.3 4-3.2 4-6.1 4.8-49.7 25.2-10.3 4.5-10 3.3-10 1.8-10 0.7-10-0.1-10-1.5-10-2.6-8-3.3-8-4.5-6-4.6-6-6.1-5.6-7.6-6.2-12-6.1-16-3.8-8-10.9-18-13.5-20-5.3-10-2.4-8-2.2-12-6.8-24-4.8-28-2-8-13.8-32-6.5-12-7.7-12 1.6-2 0-2 4-4 0-2 8-8 0-2 28-28 2 0 8-8 2 0 4-4 2 0 4-4 2 0 4-4 2 0 2-2 2 0 2-2 2 0 2-2 2 0 2-2 2 0 2-2 2 0 2-2 2 0 2-2 2 0 2-2 4 0 2-2 4 0 2-2 4 0 2-2 4 0 2-2 6 0 2-2 6 0 2-2z"/>
<path fill="#ff3500" d="M-44-220l10 0 2-2 64 0 2 2 10 0 2 2 6 0 2 2 6 0 2 2 4 0 2 2 4 0 2 2 4 0 2 2 4 0 2 2 2 0 2 2 2 0 2 2 2 0 2 2 2 0 2 2 2 0 2 2 2 0 2 2 2 0 0 2-10.1 14-6.1 10-3.5 8-2.7 10-2.8 18-1.8 18-0.4 12 0.3 26-0.7 12-1.5 10-3.3 14-2.7 8-2.7 5.6-12.7 20.4-4.2 8-2.5 6-1.6 6-0.7 6 0.2 8 4.2 24 0.8 8-0.3 6-2 6-4.4 6-7.8 6-20.2 12-18.5 10-9 4-9.3 3-10 1.9-10 0.9-10-0.2-8-1-8-2-8-3-6-3.4-6-4.7-6-6.7-4-6.2-4-8.1-5.6-14.5-3.9-8-11.5-18-12.5-18-6.3-12-2.3-8-5.5-30-1.3-12-1.6-26-1.2-8-2.4-10-5-14-5.7-12-8.6-14-8.9-12 0.3-2 4-4 0-2 28-28 2 0 8-8 2 0 4-4 2 0 4-4 2 0 4-4 2 0 2-2 2 0 2-2 2 0 2-2 2 0 2-2 2 0 2-2 2 0 2-2 2 0 2-2 2 0 2-2 4 0 2-2 4 0 2-2 4 0 2-2 4 0 2-2 6 0 2-2 6 0 2-2z"/>
<path fill="#ff2100" d="M-44-220l10 0 2-2 64 0 2 2 10 0 2 2 6 0 2 2 6 0 2 2 4 0 2 2 4 0 2 2 4 0 2 2 4 0 2 2 2 0 2 2 2 0 2 2 2 0 2 2 2 0 2 2 2 0 2 2-12 17.5-6.2 10.5-5.7 12-2.8 10-2.5 16-0.9 18 0.3 10 2.3 26 0.1 10-1.1 10-2.2 10-3.3 9.1-4.9 8.9-7.1 9.5-17.4 20.5-3.9 6-2.9 6-1.8 6-0.9 6 0.1 28-1.4 6-1.6 4-4 6-8.1 8-10.7 8-11.4 7-10 4.7-8 2.7-10 2.1-10 0.8-10-0.7-10-2.4-8-3.9-7.3-6.3-3.2-4-3.5-5.8-8.2-18.2-4.5-8-22.1-30-7.2-12-2.6-6-2.2-8-1.6-10-1.2-12-0.1-16 2.5-38-0.5-10-1.3-8-3.5-10-6.6-12-11.5-16-12.1-14 0.7-2 22-22 2 0 8-8 2 0 4-4 2 0 4-4 2 0 4-4 2 0 2-2 2 0 2-2 2 0 2-2 2 0 2-2 2 0 2-2 2 0 2-2 2 0 2-2 2 0 2-2 4 0 2-2 4 0 2-2 4 0 2-2 4 0 2-2 6 0 2-2 6 0 2-2z"/>
<path fill="#ff0e00" d="M-44-220l10 0 2-2 64 0 2 2 10 0 2 2 6 0 2 2 6 0 2 2 4 0 2 2 4 0 2 2 4 0 2 2 4 0 2 2 2 0 2 2 2 0 2 2 2 0 2 2 2 0 0 0.7-14 21.8-11.3 19.5-2.3 6-4.1 16-1.1 8-1.1 18 5.8 36 0.5 10-0.8 8-1.3 6-4.2 10-4.1 6.5-4 4.8-10 9.1-10 6.1-25.1 11.5-5.6 4-4.2 4-5.8 8-3.4 8-1.6 8-1.1 18-0.9 6-2 6-3.3 6-5.2 6-8 6-9.8 4.1-10 1.4-6-0.6-6-2.1-4-2.4-4-3.8-15.3-22.6-18.7-19-9.4-11-6.6-10-4-8-2.7-8-1.1-6-0.2-10 0.8-12 1.6-10 2.6-12 10.3-36 0.8-6-0.4-6-1.2-4-2.1-4-5.6-8-20.6-24-16.2-16.4 0-1.6 12-12 2 0 8-8 2 0 4-4 2 0 4-4 2 0 4-4 2 0 2-2 2 0 2-2 2 0 2-2 2 0 2-2 2 0 2-2 2 0 2-2 2 0 2-2 2 0 2-2 4 0 2-2 4 0 2-2 4 0 2-2 4 0 2-2 6 0 2-2 6 0 2-2z"/>
<path fill="#ff0000" d="M-44-220l10 0 2-2 64 0 2 2 10 0 2 2 6 0 2 2 6 0 2 2 4 0 2 2 4 0 2 2 4 0 2 2 4 0 2 2 2 0 2 2 2 0 2.1 2-25.5 42-8.6 22-1.7 6-3 18-0.1 6 1.1 6 7.7 29.4 1 8.6-0.4 6-1.3 6-1.8 4-3.5 5.6-4 4.6-4 3.5-4 2.8-6 2.9-8 2.3-26 4.3-8 2.5-8 3.6-8 4.5-8 5.6-22 20.3-10 7.6-6 3.5-6 2.5-6 1.4-6 0-6-1.6-4-1.9-6-4.2-6-5.8-6-8-4-7.1-2.7-6.9-0.9-6 0.6-8 1.4-8 5.6-17.3 7.1-14.7 13-22 3.5-8 1.4-6 0.3-4-1.3-8-2.8-6-5.2-6.7-40-37.3-12-10.6 0-1.4 2-2 2 0 8-8 2 0 4-4 2 0 4-4 2 0 4-4 2 0 2-2 2 0 2-2 2 0 2-2 2 0 2-2 2 0 2-2 2 0 2-2 2 0 2-2 2 0 2-2 4 0 2-2 4 0 2-2 4 0 2-2 4 0 2-2 6 0 2-2 6 0 2-2z"/>
<path fill="#ff0000" d="M-44-220l10 0 2-2 64 0 2 2 10 0 2 2 6 0 2 2 6 0 2 2 4 0 2 2 4 0 2 2 4 0 2 2 4 0 2 2 2 0 0 2-11 20-14.5 24-12.9 26-4 10-2.6 8-1 8 0.8 8 8.7 26 1.6 8 0 4-0.8 4-1.7 4-2.6 3.7-6 4.9-8 3.3-42 7.1-14 3.4-10 3.4-8 3.8-6.8 4.4-19.2 16.5-8 5.5-4 1.8-4 1-6-0.3-6-2.8-3.8-3.7-2.2-3.3-2.1-6.7 0.6-8 2.8-8 4.7-8.5 19.7-25.5 7.3-12 3.2-8 2-8 0.4-6-0.7-6-2.1-6-3.5-6-10.2-12-20.8-20-37.3-31.3 0-0.7 2-2 2 0 4-4 2 0 4-4 2 0 4-4 2 0 2-2 2 0 2-2 2 0 2-2 2 0 2-2 2 0 2-2 2 0 2-2 2 0 2-2 2 0 2-2 4 0 2-2 4 0 2-2 4 0 2-2 4 0 2-2 6 0 2-2 6 0 2-2z"/>
<path fill="#ff0000" d="M-44-220l10 0 2-2 64 0 2 2 10 0 2 2 6 0 2 2 6 0 2 2 4 0 2 2 4 0 2 2 4 0 2 2 3 0-12 24-19 31.4-16 22.3-16.9 18.3-4.1 6-1.2 4 0.1 4 1.2 4 6.2 14 1 4 0.1 4-1.6 4-2.8 2.8-5.6 3.2-5.3 2-9.1 2.5-6 0.8-7.1-1.3-4.5-2-2.8-2-3.6-4.4-1.4-3.6-0.8-4 0.5-10 2.8-10 0.5-4-0.7-4-2.5-4-7.2-6-33.2-21.9-28-26.2-29-23.9 1-2 2-2 2 0 4-4 2 0 2-2 2 0 2-2 2 0 2-2 2 0 2-2 2 0 2-2 2 0 2-2 2 0 2-2 2 0 2-2 4 0 2-2 4 0 2-2 4 0 2-2 4 0 2-2 6 0 2-2 6 0 2-2z"/>
<path fill="#ff0000" d="M-44-220l10 0 2-2 64 0 2 2 10 0 2 2 6 0 2 2 6 0 2 2 4 0 2 2 4 0 2 2 2.9 0-10.6 24-12.3 20.2-6.9 9.8-15.1 15.9-8 5.5-8 3.1-6 1.2-16 1.9-10 0.1-22-2.7-22-9.5-8-6.1-24-23.7-24-20.8 0-0.9 2 0 2-2 2 0 2-2 2 0 2-2 2 0 2-2 2 0 2-2 2 0 2-2 2 0 2-2 2 0 2-2 4 0 2-2 4 0 2-2 4 0 2-2 4 0 2-2 6 0 2-2 6 0 2-2z"/>
<path fill="#ff0000" d="M-44-220l10 0 2-2 64 0 2 2 10 0 2 2 6 0 2 2 6 0 2 2 4 0 2 2 2.6 0-8.3 22-8.3 14.8-10 13.7-12 11-8 5.7-10 3.9-18 2.7-12 0.3-14-1.2-8-1.6-12-4.4-8-4.2-8.1-6.7-21.9-22.7-17.7-17.3 1.7-2 2 0 2-2 2 0 2-2 2 0 2-2 2 0 2-2 2 0 2-2 4 0 2-2 4 0 2-2 4 0 2-2 4 0 2-2 6 0 2-2 6 0 2-2z"/>
<path fill="#f50000" d="M-44-220l10 0 2-2 64 0 2 2 10 0 2 2 6 0 2 2 6 0 2 2 1.9 0-5.5 18-5.3 12-7.8 12-9.3 9.6-12 8.8-10 4.7-6 1.7-8 1.3-8 0.7-8-0.1-14-1.3-8-1.7-8-2.9-8-4.4-6-4.7-7.8-7.7-28.2-32.4 0-1.6 2 0 2-2 2 0 2-2 2 0 2-2 4 0 2-2 4 0 2-2 4 0 2-2 4 0 2-2 6 0 2-2 6 0 2-2z"/>
<path fill="#df0000" d="M-44-220l10 0 2-2 64 0 2 2 10 0 2 2 6 0 2 2 2.4 0-3.6 16-4.2 12-4.6 8.2-4 4.9-4 3.9-12.1 9-5.9 3.5-6 2.7-12 2.9-14 0.8-14-1.4-8-1.4-8-3.1-6.6-4-7.1-6-7.4-8-22.4-30 1.5 0 2-2 4 0 2-2 4 0 2-2 4 0 2-2 4 0 2-2 6 0 2-2 6 0 2-2z"/>
<path fill="#bc0000" d="M-44-220l10 0 2-2 64 0 2 2 10 0 2 2 1.6 0-1.8 14-2.4 10-3.4 8.3-4.5 5.7-5.5 4.6-8 5.4-12 6.7-10 2.7-12 1.1-22-2.7-6-2.4-8-5.3-6.3-6.1-7.7-9.5-15.1-24.5 3.1 0 2-2 4 0 2-2 4 0 2-2 6 0 2-2 6 0 2-2z"/>
<path fill="#a30000" d="M-44-220l10 0 2-2 64 0 2 2 1.9 0-0.1 14-1.8 10-2.6 6-5.4 6-10 6.7-10 4.7-8 2.1-8 0.6-14-1.4-8-1.8-4-1.7-5-3.2-7.9-8-6.7-10-9-18 2.6 0 2-2 6 0 2-2 6 0 2-2z"/>
<path fill="#8a0000" d="M-44-220l10 0 2-2 42.9 0 5.1 7.2 2 4.4 0.9 4.4-0.5 6-1.9 4-4.1 4-4.4 2.4-6 2-4 0.7-6 0-6-0.8-6-1.6-10-4.2-3.3-2.5-2.7-2.9-4-6.6-4-9.4-1.1-3.1 1.1-2z"/>
</g></g></g>
<g clip-path="url(#disk)">
<path fill="none" stroke="#000" stroke-opacity="0.58" stroke-width="1.6" d="M202 69.1l-5.8 8.9-7.5 10-11.1 12-15.6 18.4-26 26-27.7 23.6-29.9 28-3.7 4M204-62.1l-5.8 14.1-4.7 14-5 18-2.4 12-0.6 6 0.2 6 3.6 30 0 6-1 8-3 10-9.6 18-3.7 5.3-19.3 22.7-22.7 22.7-55 47.3-23 23-8 7.1M190-96.8l-12 23.9-9.6 20.9-5.7 22-1.6 8-1 12 0.5 12 6.4 38 0.9 8-0.1 6-0.8 6-1.6 6-1.8 4-16.2 20-23.4 23.3-92 77.5-12 8.7-12 6.9-6 2.7-6 2-10 1.7M-38.3 210l-5.7-2.3-4-2.2-26-18-10-8.2-28.3-21.3-14.2-12-13.5-12.5-22-28.5-14-21.5-22.1-35.5-3-6-5.5-14-5.4-6.7M173.2-122l-6 18-9 18-7.7 14-6.3 14-3.4 10-5.9 20-4.3 12-1.5 6-0.2 4 1.2 6 12.3 34 3.6 14 0.4 6-0.6 6-1.8 6-4 8-8 11.9-14.3 16.1-31.7 25.9-32 24-18 12.1-16 9.6-16 7.4-6 2.3-8 1.3-10-0.2-8-1.4-10-3.5-16-7.2-6-3.3-18-11.6-19.3-15.4-22.7-26-6.5-10-21.5-36-14-17.7-19.8-20.3-12.2-10.2-3.6-3.8-15-30M144.4-156l-11.7 32-6.7 21.7-16.4 64.3-9.4 28-2.6 10-0.5 8 0.8 6 9.4 22 4 12 1.7 8 0.2 6-0.9 6-3.9 12-2.5 6-2.3 4-3.1 4-14.1 14-19.9 14-22.5 12.3-20 10.1-26 10.9-10 1.7-16 0.2-12-1.3-8-2.2-14-5.9-19.7-11.8-16.1-16-6.4-8-5.5-8-16.7-34-10.7-18-8.9-13.2-30-40.9-17.7-35.9-10.3-24.6M114-180.4l-6 8.4-3.6 6-1.7 4-1.5 6-7 46-2.4 34-1.3 12-1.3 8-3.9 18-3.9 12-11.9 24-2.1 6-1.4 6-0.6 8 0.6 6 7.8 32 1.3 8-0.5 8-1.9 6-2.1 4-3.1 4-4.5 4-5 3.1-50 24.9-10 4.1-10 3-10 1.5-14 0.6-12-1.4-10-2.4-12-4.9-8-4.9-6.6-5.6-7.4-8.7-4-6.5-3.4-6.8-7-18-3.8-8-10.9-18-13.6-20-5.2-10-2.4-8-2.3-12-6.9-24-6.6-34-12.6-30-9.7-18M90.9-192l-20.7 34-7.9 24-2.5 20-0.1 6 7.5 34 1 6 0.1 4-0.8 8-1.4 6-2.1 4.6-3.3 5.4-4.7 5.7-4 3.8-6 4.4-4 2.2-10 3.4-24 4.8-6 2.4-8 4.4-7.1 4.9-9.3 8-15.6 17.6-8 7.4-8 5.6-4 2.2-4 1.5-8 1.6-6-0.1-8-2.4-8-4.4-6-4.6-8-8.1-4.8-6.3-5.2-8.7-4-9.1-1.3-6.2 0.1-8 1.2-9.9 2-9.4 3.9-12.7 4.1-10.6 14-29.4 2.1-8-0.1-6-2-6.4-2-3.3-2-2.3-42.5-42M71-200l-7.4 16-13.6 21.6-4 5.2-14 14-6 4.4-8 3.6-8 1.7-18 2.1-8 0-20-2.1-4-1.2-18-7.5-8-5.8-24-24-14-12.5M46.8-208l-2 10-2.8 8.7-2.7 5.3-5.3 5.8-12 8.6-10 5.8-8 2.8-12 1.7-6 0-20-2.5-4-1.4-5.1-2.8-7.8-6-7.1-7.7-6.2-8.3-7.8-12.8M20.8-212l0.9 6-0.2 4-1 4-2.5 4.2-4 3.5-4.2 2.3-7.8 2.7-6 1-8-0.4-6-1.1-8-2.5-6-2.7-3.9-3-2.1-2.4-3.7-5.6-2.9-6"/>
</g>
<circle r="200" fill="none" stroke="#000" stroke-width="3.4"/>
<path d="M-36 -198.4L-8.4 -227.4Q-5 -230 0 -230Q5 -230 8.4 -227.4L36 -198.4" fill="none" stroke="#000" stroke-width="2.8" stroke-linejoin="round"/>
<path d="M-197.3 -44.4L-201.5 -47.3L-211.6 -47.3L-215.2 -41.8L-216 -20L-216.5 10L-217 33L-216.6 41L-214.2 47.5L-210 53.2L-201.4 53.8L-195.6 50" fill="none" stroke="#111" stroke-width="2.5" stroke-linejoin="round"/>
<path d="M197.3 -44.4L201.5 -47.3L211.6 -47.3L215.2 -41.8L216 -20L216.5 10L217 33L216.6 41L214.2 47.5L210 53.2L201.4 53.8L195.6 50" fill="none" stroke="#111" stroke-width="2.5" stroke-linejoin="round"/>
<circle cx="0" cy="-214.4" r="2.8" fill="#111"/>
<circle cx="-91.2" cy="-181" r="2.8" fill="#111"/>
<circle cx="92.5" cy="-181" r="2.8" fill="#111"/>
<circle cx="-164.7" cy="-119.2" r="2.8" fill="#111"/>
<circle cx="165" cy="-119.2" r="2.8" fill="#111"/>
<circle cx="-203" cy="0" r="2.8" fill="#111"/>
<circle cx="203.7" cy="0" r="2.8" fill="#111"/>
<circle cx="-164.7" cy="118.6" r="2.8" fill="#111"/>
<circle cx="165" cy="118.6" r="2.8" fill="#111"/>
<circle cx="-91.2" cy="180.4" r="2.8" fill="#111"/>
<circle cx="92.5" cy="180.4" r="2.8" fill="#111"/>
<circle cx="0" cy="213.1" r="2.8" fill="#111"/>
<circle cx="-83.5" cy="-102.9" r="2.8" fill="#111"/>
<circle cx="0" cy="-102.2" r="2.8" fill="#111"/>
<circle cx="83.5" cy="-102.9" r="2.8" fill="#111"/>
<circle cx="-146.3" cy="-56.8" r="2.8" fill="#111"/>
<circle cx="-50.1" cy="-50.1" r="2.8" fill="#111"/>
<circle cx="54.1" cy="-53.4" r="2.8" fill="#111"/>
<circle cx="156.6" cy="-59.5" r="2.8" fill="#111"/>
<circle cx="-102.2" cy="0" r="2.8" fill="#111"/>
<circle cx="0" cy="0" r="2.8" fill="#111"/>
<circle cx="102.2" cy="0" r="2.8" fill="#111"/>
<circle cx="-146.3" cy="55.8" r="2.8" fill="#111"/>
<circle cx="-50.1" cy="50.1" r="2.8" fill="#111"/>
<circle cx="54.1" cy="53.4" r="2.8" fill="#111"/>
<circle cx="156.6" cy="60.1" r="2.8" fill="#111"/>
<circle cx="-83.5" cy="102.9" r="2.8" fill="#111"/>
<circle cx="0" cy="101.9" r="2.8" fill="#111"/>
<circle cx="83.5" cy="102.9" r="2.8" fill="#111"/>
</g>
<g id="topo-explicit-325-625" transform="translate(1203.2 899.3)">
<g filter="url(#edge)"><g clip-path="url(#disk)"><g filter="url(#sm)">
<circle r="226.5" fill="#00bef5"/>
<path fill="#00ccf6" d="M-44-220l10 0 2-2 64 0 2 2 10 0 2 2 6 0 2 2 6 0 2 2 4 0 2 2 4 0 2 2 4 0 2 2 4 0 2 2 2 0 2 2 2 0 2 2 2 0 2 2 2 0 2 2 2 0 2 2 2 0 2 2 2 0 2 2 2 0 4 4 2 0 4 4 2 0 4 4 2 0 8 8 2 0 28 28 0 2 8 8 0 2 4 4 0 2 4 4 0 2 4 4 0 2 2 2 0 2 2 2 0 2 2 2 0 2 2 2 0 2 2 2 0 2 2 2 0 2 2 2 0 2 2 2 0 4 2 2 0 2.3-7.8-6.3-12.8-8-16.1-8-14.6-6-12-4-8.7-2.2-30-4.4-12-0.6-8 0.5-8 2.1-5.2 2.6-4.4 4-3 6 0.1 6 2.7 6 3.3 4 4.5 4.2 14 9.8 26 15.7 8 3.7 8 2.8 10 2.6 12 2.3 20 3.2 12 1.2 10-0.3 8-1.9 6.9-3.3 5.1-4.8 0 2.8 2 2 0 10 2 2 0 64-2 2 0 10-2 2 0 6-2 2 0 6-2 2 0 4-2 2 0 4-2 2 0 4-2 2 0 4-2 2 0 2-2 2 0 2-2 2 0 2-2 2 0 2-2 2 0 2-2 2 0 2-2 2 0 2-2 2 0 2-4 4 0 2-4 4 0 2-4 4 0 2-8 8 0 2-28 28-2 0-8 8-2 0-4 4-2 0-4 4-2 0-4 4-2 0-2 2-2 0-2 2-2 0-2 2-2 0-2 2-2 0-2 2-2 0-2 2-2 0-2 2-2 0-2 2-4 0-2 2-4 0-2 2-4 0-2 2-4 0-2 2-6 0-2 2-6 0-2 2-10 0-2 2-64 0-2-2-10 0-2-2-6 0-2-2-6 0-2-2-4 0-2-2-4 0-2-2-4 0-2-2-4 0-2-2-2 0-2-2-2 0-2-2-2 0-2-2-2 0-2-2-2 0-2-2-2 0-2-2-2 0-2-2-2 0-4-4-2 0-4-4-2 0-4-4-2 0-8-8-2 0-28-28 0-2-8-8 0-2-4-4 0-2-4-4 0-2-4-4 0-2-2-2 0-2-2-2 0-2-2-2 0-2-2-2 0-2-2-2 0-2-2-2 0-2-2-2 0-2-2-2 0-4-2-2 0-4-2-2 0-4-2-2 0-4-2-2 0-6-2-2 0-6-2-2 0-10-2-2 0-64 2-2 0-10 2-2 0-6 2-2 0-6 2-2 0-4 2-2 0-4 2-2 0-4 2-2 0-4 2-2 0-2 2-2 0-2 2-2 0-2 2-2 0-2 2-2 0-2 2-2 0-2 2-2 0-2 2-2 0-2 4-4 0-2 4-4 0-2 4-4 0-2 8-8 0-2 28-28 2 0 8-8 2 0 4-4 2 0 4-4 2 0 4-4 2 0 2-2 2 0 2-2 2 0 2-2 2 0 2-2 2 0 2-2 2 0 2-2 2 0 2-2 2 0 2-2 4 0 2-2 4 0 2-2 4 0 2-2 4 0 2-2 6 0 2-2 6 0 2-2z"/>
<path fill="#00daf8" d="M-44-220l10 0 2-2 64 0 2 2 10 0 2 2 6 0 2 2 6 0 2 2 4 0 2 2 4 0 2 2 4 0 2 2 4 0 2 2 2 0 2 2 2 0 2 2 2 0 2 2 2 0 2 2 2 0 2 2 2 0 2 2 2 0 2 2 2 0 4 4 2 0 4 4 2 0 4 4 2 0 8 8 2 0 28 28 0 2 8 8 0 2 4 4 0 2 4 4 0 2 4 4 0 2 2 2 0 3.2-36-11.2-20-4.3-28-1.9-24 1.6-10 2.6-8 3-4.6 3-6.9 6-4.8 6-2.7 6-0.8 6 1.8 6.2 2.2 3.8 5 6 14.8 13.6 26 21.4 7.5 5 6.5 3.2 14 4.2 38 6.4 28 7.2 14 1.1 16-0.8 0 46.7-2 2 0 10-2 2 0 6-2 2 0 6-2 2 0 4-2 2 0 4-2 2 0 4-2 2 0 4-2 2 0 2-2 2 0 2-2 2 0 2-2 2 0 2-2 2 0 2-2 2 0 2-2 2 0 2-2 2 0 2-4 4 0 2-4 4 0 2-4 4 0 2-8 8 0 2-28 28-2 0-8 8-2 0-4 4-2 0-4 4-2 0-4 4-2 0-2 2-2 0-2 2-2 0-2 2-2 0-2 2-2 0-2 2-2 0-2 2-2 0-2 2-2 0-2 2-4 0-2 2-4 0-2 2-4 0-2 2-4 0-2 2-6 0-2 2-6 0-2 2-10 0-2 2-64 0-2-2-10 0-2-2-6 0-2-2-6 0-2-2-4 0-2-2-4 0-2-2-4 0-2-2-4 0-2-2-2 0-2-2-2 0-2-2-2 0-2-2-2 0-2-2-2 0-2-2-2 0-2-2-2 0-2-2-2 0-4-4-2 0-4-4-2 0-4-4-2 0-8-8-2 0-28-28 0-2-8-8 0-2-4-4 0-2-4-4 0-2-4-4 0-2-2-2 0-2-2-2 0-2-2-2 0-2-2-2 0-2-2-2 0-2-2-2 0-2-2-2 0-2-2-2 0-4-2-2 0-4-2-2 0-4-2-2 0-4-2-2 0-6-2-2 0-6-2-2 0-10-2-2 0-64 2-2 0-10 2-2 0-6 2-2 0-6 2-2 0-4 2-2 0-4 2-2 0-4 2-2 0-4 2-2 0-2 2-2 0-2 2-2 0-2 2-2 0-2 2-2 0-2 2-2 0-2 2-2 0-2 2-2 0-2 4-4 0-2 4-4 0-2 4-4 0-2 8-8 0-2 28-28 2 0 8-8 2 0 4-4 2 0 4-4 2 0 4-4 2 0 2-2 2 0 2-2 2 0 2-2 2 0 2-2 2 0 2-2 2 0 2-2 2 0 2-2 2 0 2-2 4 0 2-2 4 0 2-2 4 0 2-2 4 0 2-2 6 0 2-2 6 0 2-2z"/>
<path fill="#00e9f9" d="M-44-220l10 0 2-2 64 0 2 2 10 0 2 2 6 0 2 2 6 0 2 2 4 0 2 2 4 0 2 2 4 0 2 2 4 0 2 2 2 0 2 2 2 0 2 2 2 0 2 2 2 0 2 2 2 0 2 2 2 0 2 2 2 0 2 2 2 0 4 4 2 0 4 4 2 0 4 4 2 0 8 8 2 0 28 28 0 2 8 8 0 2 4 4 0 3.3-32-6.5-14-1.9-10-0.6-20 0-20 2.3-12 2.8-10 3.3-6.3 3.3-11.3 8-8.7 8-5.3 6-3.7 6-1.4 6 1.2 6 3.9 6 8.1 8 23.5 19.4 22.9 20.6 7.1 5.1 6 3.2 8 2.9 8 1.8 30 3.9 14 2.3 24 6.6 10 2.2 12 1.7 14 1.1 0 29.2-2 2 0 10-2 2 0 6-2 2 0 6-2 2 0 4-2 2 0 4-2 2 0 4-2 2 0 4-2 2 0 2-2 2 0 2-2 2 0 2-2 2 0 2-2 2 0 2-2 2 0 2-2 2 0 2-2 2 0 2-4 4 0 2-4 4 0 2-4 4 0 2-8 8 0 2-28 28-2 0-8 8-2 0-4 4-2 0-4 4-2 0-4 4-2 0-2 2-2 0-2 2-2 0-2 2-2 0-2 2-2 0-2 2-2 0-2 2-2 0-2 2-2 0-2 2-4 0-2 2-4 0-2 2-4 0-2 2-4 0-2 2-6 0-2 2-6 0-2 2-10 0-2 2-64 0-2-2-10 0-2-2-6 0-2-2-6 0-2-2-4 0-2-2-4 0-2-2-4 0-2-2-4 0-2-2-2 0-2-2-2 0-2-2-2 0-2-2-2 0-2-2-2 0-2-2-2 0-2-2-2 0-2-2-2 0-4-4-2 0-4-4-2 0-4-4-2 0-8-8-2 0-28-28 0-2-8-8 0-2-4-4 0-2-4-4 0-2-4-4 0-2-2-2 0-2-2-2 0-2-2-2 0-2-2-2 0-2-2-2 0-2-2-2 0-2-2-2 0-2-2-2 0-4-2-2 0-4-2-2 0-4-2-2 0-4-2-2 0-6-2-2 0-6-2-2 0-10-2-2 0-64 2-2 0-10 2-2 0-6 2-2 0-6 2-2 0-4 2-2 0-4 2-2 0-4 2-2 0-4 2-2 0-2 2-2 0-2 2-2 0-2 2-2 0-2 2-2 0-2 2-2 0-2 2-2 0-2 2-2 0-2 4-4 0-2 4-4 0-2 4-4 0-2 8-8 0-2 28-28 2 0 8-8 2 0 4-4 2 0 4-4 2 0 4-4 2 0 2-2 2 0 2-2 2 0 2-2 2 0 2-2 2 0 2-2 2 0 2-2 2 0 2-2 2 0 2-2 4 0 2-2 4 0 2-2 4 0 2-2 4 0 2-2 6 0 2-2 6 0 2-2z"/>
<path fill="#00f0f2" d="M-44-220l10 0 2-2 64 0 2 2 10 0 2 2 6 0 2 2 6 0 2 2 4 0 2 2 4 0 2 2 4 0 2 2 4 0 2 2 2 0 2 2 2 0 2 2 2 0 2 2 2 0 2 2 2 0 2 2 2 0 2 2 2 0 2 2 2 0 4 4 2 0 4 4 2 0 4 4 2 0 8 8 2 0 28 28 0 2 6 6.3-30-3.7-30-1.6-8 0.6-20 3.1-14 3.2-8 2.4-10 4.1-10 5.6-20.6 14-10 8-3.6 4-2.8 6-0.2 6 1.7 6 4.9 8 6.6 6.7 36 27.1 22 20.6 10 6.3 8 3.1 10 2.3 10 1.3 22 1.6 14 2.2 16 3.7 26 7.2 24 4.2 0 15.7-2 2 0 10-2 2 0 6-2 2 0 6-2 2 0 4-2 2 0 4-2 2 0 4-2 2 0 4-2 2 0 2-2 2 0 2-2 2 0 2-2 2 0 2-2 2 0 2-2 2 0 2-2 2 0 2-2 2 0 2-4 4 0 2-4 4 0 2-4 4 0 2-8 8 0 2-28 28-2 0-8 8-2 0-4 4-2 0-4 4-2 0-4 4-2 0-2 2-2 0-2 2-2 0-2 2-2 0-2 2-2 0-2 2-2 0-2 2-2 0-2 2-2 0-2 2-4 0-2 2-4 0-2 2-4 0-2 2-4 0-2 2-6 0-2 2-6 0-2 2-10 0-2 2-64 0-2-2-10 0-2-2-6 0-2-2-6 0-2-2-4 0-2-2-4 0-2-2-4 0-2-2-4 0-2-2-2 0-2-2-2 0-2-2-2 0-2-2-2 0-2-2-2 0-2-2-2 0-2-2-2 0-2-2-2 0-4-4-2 0-4-4-2 0-4-4-2 0-8-8-2 0-28-28 0-2-8-8 0-2-4-4 0-2-4-4 0-2-4-4 0-2-2-2 0-2-2-2 0-2-2-2 0-2-2-2 0-2-2-2 0-2-2-2 0-2-2-2 0-2-2-2 0-4-2-2 0-4-2-2 0-4-2-2 0-4-2-2 0-6-2-2 0-6-2-2 0-10-2-2 0-64 2-2 0-10 2-2 0-6 2-2 0-6 2-2 0-4 2-2 0-4 2-2 0-4 2-2 0-4 2-2 0-2 2-2 0-2 2-2 0-2 2-2 0-2 2-2 0-2 2-2 0-2 2-2 0-2 2-2 0-2 4-4 0-2 4-4 0-2 4-4 0-2 8-8 0-2 28-28 2 0 8-8 2 0 4-4 2 0 4-4 2 0 4-4 2 0 2-2 2 0 2-2 2 0 2-2 2 0 2-2 2 0 2-2 2 0 2-2 2 0 2-2 2 0 2-2 4 0 2-2 4 0 2-2 4 0 2-2 4 0 2-2 6 0 2-2 6 0 2-2z"/>
<path fill="#00f1e1" d="M-44-220l10 0 2-2 64 0 2 2 10 0 2 2 6 0 2 2 6 0 2 2 4 0 2 2 4 0 2 2 4 0 2 2 4 0 2 2 2 0 2 2 2 0 2 2 2 0 2 2 2 0 2 2 2 0 2 2 2 0 2 2 2 0 2 2 2 0 4 4 2 0 4 4 2 0 4 4 2 0 8 8 2 0 26 26 0 1.3-46-2.5-12 0.3-22 3.8-16 4-8 2.4-14 5.5-34 19.3-8.4 5.9-6.1 6-4 6-1.3 6 1 10 2.4 8 4.5 8 7.9 8.6 21.7 17.4 18.3 11.7 16.7 16.3 5.3 4.1 6.9 3.9 11.1 3.7 11.6 2.3 12.4 1.4 22 0.8 16 2.7 18 3.9 22.6 7.2 25.4 6.1 0 3.9-2 2 0 10-2 2 0 6-2 2 0 6-2 2 0 4-2 2 0 4-2 2 0 4-2 2 0 4-2 2 0 2-2 2 0 2-2 2 0 2-2 2 0 2-2 2 0 2-2 2 0 2-2 2 0 2-2 2 0 2-4 4 0 2-4 4 0 2-4 4 0 2-8 8 0 2-28 28-2 0-8 8-2 0-4 4-2 0-4 4-2 0-4 4-2 0-2 2-2 0-2 2-2 0-2 2-2 0-2 2-2 0-2 2-2 0-2 2-2 0-2 2-2 0-2 2-4 0-2 2-4 0-2 2-4 0-2 2-4 0-2 2-6 0-2 2-6 0-2 2-10 0-2 2-64 0-2-2-10 0-2-2-6 0-2-2-6 0-2-2-4 0-2-2-4 0-2-2-4 0-2-2-4 0-2-2-2 0-2-2-2 0-2-2-2 0-2-2-2 0-2-2-2 0-2-2-2 0-2-2-2 0-2-2-2 0-4-4-2 0-4-4-2 0-4-4-2 0-8-8-2 0-28-28 0-2-8-8 0-2-4-4 0-2-4-4 0-2-4-4 0-2-2-2 0-2-2-2 0-2-2-2 0-2-2-2 0-2-2-2 0-2-2-2 0-2-2-2 0-2-2-2 0-4-2-2 0-4-2-2 0-4-2-2 0-4-2-2 0-6-2-2 0-6-2-2 0-10-2-2 0-64 2-2 0-10 2-2 0-6 2-2 0-6 2-2 0-4 2-2 0-4 2-2 0-4 2-2 0-4 2-2 0-2 2-2 0-2 2-2 0-2 2-2 0-2 2-2 0-2 2-2 0-2 2-2 0-2 2-2 0-2 4-4 0-2 4-4 0-2 4-4 0-2 8-8 0-2 28-28 2 0 8-8 2 0 4-4 2 0 4-4 2 0 4-4 2 0 2-2 2 0 2-2 2 0 2-2 2 0 2-2 2 0 2-2 2 0 2-2 2 0 2-2 2 0 2-2 4 0 2-2 4 0 2-2 4 0 2-2 4 0 2-2 6 0 2-2 6 0 2-2z"/>
<path fill="#00f1d0" d="M-44-220l10 0 2-2 64 0 2 2 10 0 2 2 6 0 2 2 6 0 2 2 4 0 2 2 4 0 2 2 4 0 2 2 4 0 2 2 2 0 2 2 2 0 2 2 2 0 2 2 2 0 2 2 2 0 2 2 2 0 2 2 2 0 2 2 2 0 4 4 2 0 4 4 2 0 4 4 2 0 8 8 2 0 18 18 0 1.8-48-0.9-10 0.9-14 2.7-22 6-18 6.2-26.1 13.3-11.9 7.3-8 6.3-6 5.9-4 5.2-2.7 5.3-1.6 6-0.5 8 0.7 8 2.1 8.2 3.4 7.8 4.6 7.3 6 7.1 10 9.5 10 8.1 20 13.2 16 11.9 12 6.9 10 3.4 14 2.6 16 1.7 26 1.2 22 3.7 16 4.1 42 13.9 0 5.4-2 2 0 6-2 2 0 6-2 2 0 4-2 2 0 4-2 2 0 4-2 2 0 4-2 2 0 2-2 2 0 2-2 2 0 2-2 2 0 2-2 2 0 2-2 2 0 2-2 2 0 2-2 2 0 2-4 4 0 2-4 4 0 2-4 4 0 2-8 8 0 2-28 28-2 0-8 8-2 0-4 4-2 0-4 4-2 0-4 4-2 0-2 2-2 0-2 2-2 0-2 2-2 0-2 2-2 0-2 2-2 0-2 2-2 0-2 2-2 0-2 2-4 0-2 2-4 0-2 2-4 0-2 2-4 0-2 2-6 0-2 2-6 0-2 2-10 0-2 2-64 0-2-2-10 0-2-2-6 0-2-2-6 0-2-2-4 0-2-2-4 0-2-2-4 0-2-2-4 0-2-2-2 0-2-2-2 0-2-2-2 0-2-2-2 0-2-2-2 0-2-2-2 0-2-2-2 0-2-2-2 0-4-4-2 0-4-4-2 0-4-4-2 0-8-8-2 0-28-28 0-2-8-8 0-2-4-4 0-2-4-4 0-2-4-4 0-2-2-2 0-2-2-2 0-2-2-2 0-2-2-2 0-2-2-2 0-2-2-2 0-2-2-2 0-2-2-2 0-4-2-2 0-4-2-2 0-4-2-2 0-4-2-2 0-6-2-2 0-6-2-2 0-10-2-2 0-64 2-2 0-10 2-2 0-6 2-2 0-6 2-2 0-4 2-2 0-4 2-2 0-4 2-2 0-4 2-2 0-2 2-2 0-2 2-2 0-2 2-2 0-2 2-2 0-2 2-2 0-2 2-2 0-2 2-2 0-2 4-4 0-2 4-4 0-2 4-4 0-2 8-8 0-2 28-28 2 0 8-8 2 0 4-4 2 0 4-4 2 0 4-4 2 0 2-2 2 0 2-2 2 0 2-2 2 0 2-2 2 0 2-2 2 0 2-2 2 0 2-2 2 0 2-2 4 0 2-2 4 0 2-2 4 0 2-2 4 0 2-2 6 0 2-2 6 0 2-2z"/>
<path fill="#00f2bf" d="M-44-220l10 0 2-2 64 0 2 2 10 0 2 2 6 0 2 2 6 0 2 2 4 0 2 2 4 0 2 2 4 0 2 2 4 0 2 2 2 0 2 2 2 0 2 2 2 0 2 2 2 0 2 2 2 0 2 2 2 0 2 2 2 0 2 2 2 0 4 4 2 0 4 4 2 0 4 4 2 0 8 8 2 0 12 12 0 1.4-54 0.3-20.3 4.3-25.7 7.4-12 4.4-28 14.7-6 4-6 4.9-11.1 10.6-3.3 4-3.7 6-3.8 10-1.4 12 0.2 6 1.2 8 4 12 3.9 7.5 4 6.1 10 12.1 16 13.9 12 8.4 24.9 14 13.1 5.7 8 2.1 12 1.8 18 1.7 30 1.5 24 3.7 10 2.5 10 3.3 24 9.1 12 5.3 0 3.3-2 2 0 6-2 2 0 4-2 2 0 4-2 2 0 4-2 2 0 4-2 2 0 2-2 2 0 2-2 2 0 2-2 2 0 2-2 2 0 2-2 2 0 2-2 2 0 2-2 2 0 2-4 4 0 2-4 4 0 2-4 4 0 2-8 8 0 2-28 28-2 0-8 8-2 0-4 4-2 0-4 4-2 0-4 4-2 0-2 2-2 0-2 2-2 0-2 2-2 0-2 2-2 0-2 2-2 0-2 2-2 0-2 2-2 0-2 2-4 0-2 2-4 0-2 2-4 0-2 2-4 0-2 2-6 0-2 2-6 0-2 2-10 0-2 2-64 0-2-2-10 0-2-2-6 0-2-2-6 0-2-2-4 0-2-2-4 0-2-2-4 0-2-2-4 0-2-2-2 0-2-2-2 0-2-2-2 0-2-2-2 0-2-2-2 0-2-2-2 0-2-2-2 0-2-2-2 0-4-4-2 0-4-4-2 0-4-4-2 0-8-8-2 0-28-28 0-2-8-8 0-2-4-4 0-2-4-4 0-2-4-4 0-2-2-2 0-2-2-2 0-2-2-2 0-2-2-2 0-2-2-2 0-2-2-2 0-2-2-2 0-2-2-2 0-4-2-2 0-4-2-2 0-4-2-2 0-4-2-2 0-6-2-2 0-6-2-2 0-10-2-2 0-64 2-2 0-10 2-2 0-6 2-2 0-6 2-2 0-4 2-2 0-4 2-2 0-4 2-2 0-4 2-2 0-2 2-2 0-2 2-2 0-2 2-2 0-2 2-2 0-2 2-2 0-2 2-2 0-2 2-2 0-2 4-4 0-2 4-4 0-2 4-4 0-2 8-8 0-2 28-28 2 0 8-8 2 0 4-4 2 0 4-4 2 0 4-4 2 0 2-2 2 0 2-2 2 0 2-2 2 0 2-2 2 0 2-2 2 0 2-2 2 0 2-2 2 0 2-2 4 0 2-2 4 0 2-2 4 0 2-2 4 0 2-2 6 0 2-2 6 0 2-2z"/>
<path fill="#01f2ad" d="M-44-220l10 0 2-2 64 0 2 2 10 0 2 2 6 0 2 2 6 0 2 2 4 0 2 2 4 0 2 2 4 0 2 2 4 0 2 2 2 0 2 2 2 0 2 2 2 0 2 2 2 0 2 2 2 0 2 2 2 0 2 2 2 0 2 2 2 0 4 4 2 0 4 4 2 0 4 4 2 0 8 8 2 0 6 6 0 1.6-52 1.2-18 3.6-28 7.5-12 4.6-28 15-9 6.5-11 10.2-4 4.1-4.5 5.7-3.9 6-3.1 6-2 6-1.2 6-0.9 12 1.6 13.8 4 12.3 6 11.4 10.5 14.5 19.8 18 11.7 8.8 16 9.1 18 7.6 8 2.3 8 1.3 28 1.9 32 1.3 24 3.4 12 3.2 13.5 5.1 17.7 8 12.8 7.3 0 0.7-2 2 0 4-2 2 0 4-2 2 0 4-2 2 0 4-2 2 0 2-2 2 0 2-2 2 0 2-2 2 0 2-2 2 0 2-2 2 0 2-2 2 0 2-2 2 0 2-4 4 0 2-4 4 0 2-4 4 0 2-8 8 0 2-28 28-2 0-8 8-2 0-4 4-2 0-4 4-2 0-4 4-2 0-2 2-2 0-2 2-2 0-2 2-2 0-2 2-2 0-2 2-2 0-2 2-2 0-2 2-2 0-2 2-4 0-2 2-4 0-2 2-4 0-2 2-4 0-2 2-6 0-2 2-6 0-2 2-10 0-2 2-64 0-2-2-10 0-2-2-6 0-2-2-6 0-2-2-4 0-2-2-4 0-2-2-4 0-2-2-4 0-2-2-2 0-2-2-2 0-2-2-2 0-2-2-2 0-2-2-2 0-2-2-2 0-2-2-2 0-2-2-2 0-4-4-2 0-4-4-2 0-4-4-2 0-8-8-2 0-28-28 0-2-8-8 0-2-4-4 0-2-4-4 0-2-4-4 0-2-2-2 0-2-2-2 0-2-2-2 0-2-2-2 0-2-2-2 0-2-2-2 0-2-2-2 0-2-2-2 0-4-2-2 0-4-2-2 0-4-2-2 0-4-2-2 0-6-2-2 0-6-2-2 0-10-2-2 0-64 2-2 0-10 2-2 0-6 2-2 0-6 2-2 0-4 2-2 0-4 2-2 0-4 2-2 0-4 2-2 0-2 2-2 0-2 2-2 0-2 2-2 0-2 2-2 0-2 2-2 0-2 2-2 0-2 2-2 0-2 4-4 0-2 4-4 0-2 4-4 0-2 8-8 0-2 28-28 2 0 8-8 2 0 4-4 2 0 4-4 2 0 4-4 2 0 2-2 2 0 2-2 2 0 2-2 2 0 2-2 2 0 2-2 2 0 2-2 2 0 2-2 2 0 2-2 4 0 2-2 4 0 2-2 4 0 2-2 4 0 2-2 6 0 2-2 6 0 2-2z"/>
<path fill="#03f198" d="M-44-220l10 0 2-2 64 0 2 2 10 0 2 2 6 0 2 2 6 0 2 2 4 0 2 2 4 0 2 2 4 0 2 2 4 0 2 2 2 0 2 2 2 0 2 2 2 0 2 2 2 0 2 2 2 0 2 2 2 0 2 2 2 0 2 2 2 0 4 4 2 0 4 4 2 0 4 4 2 0 8 8 2 0 2 2-22 1.7-26 0.7-20 3.3-26 6-15.9 6.3-26.1 13.9-11.9 8.1-10.1 9.2-9.5 10.8-5.5 8-3.4 6-3.2 10-1.9 16 0.1 6 0.9 8 2 8 2.8 8 5.7 11.9 10.1 14.1 7.9 7.9 26 23 16 10.6 12 5.6 10 3 12 1.9 64 2 14 1.2 12 2.1 12 3.7 15.3 7 14.3 8 10.4 8 0 2-2 2 0 4-2 2 0 4-2 2 0 2-2 2 0 2-2 2 0 2-2 2 0 2-2 2 0 2-2 2 0 2-2 2 0 2-2 2 0 2-4 4 0 2-4 4 0 2-4 4 0 2-8 8 0 2-28 28-2 0-8 8-2 0-4 4-2 0-4 4-2 0-4 4-2 0-2 2-2 0-2 2-2 0-2 2-2 0-2 2-2 0-2 2-2 0-2 2-2 0-2 2-2 0-2 2-4 0-2 2-4 0-2 2-4 0-2 2-4 0-2 2-6 0-2 2-6 0-2 2-10 0-2 2-64 0-2-2-10 0-2-2-6 0-2-2-6 0-2-2-4 0-2-2-4 0-2-2-4 0-2-2-4 0-2-2-2 0-2-2-2 0-2-2-2 0-2-2-2 0-2-2-2 0-2-2-2 0-2-2-2 0-2-2-2 0-4-4-2 0-4-4-2 0-4-4-2 0-8-8-2 0-28-28 0-2-8-8 0-2-4-4 0-2-4-4 0-2-4-4 0-2-2-2 0-2-2-2 0-2-2-2 0-2-2-2 0-2-2-2 0-2-2-2 0-2-2-2 0-2-2-2 0-4-2-2 0-4-2-2 0-4-2-2 0-4-2-2 0-6-2-2 0-6-2-2 0-10-2-2 0-64 2-2 0-10 2-2 0-6 2-2 0-6 2-2 0-4 2-2 0-4 2-2 0-4 2-2 0-4 2-2 0-2 2-2 0-2 2-2 0-2 2-2 0-2 2-2 0-2 2-2 0-2 2-2 0-2 2-2 0-2 4-4 0-2 4-4 0-2 4-4 0-2 8-8 0-2 28-28 2 0 8-8 2 0 4-4 2 0 4-4 2 0 4-4 2 0 2-2 2 0 2-2 2 0 2-2 2 0 2-2 2 0 2-2 2 0 2-2 2 0 2-2 2 0 2-2 4 0 2-2 4 0 2-2 4 0 2-2 4 0 2-2 6 0 2-2 6 0 2-2z"/>
<path fill="#06f183" d="M-44-220l10 0 2-2 64 0 2 2 10 0 2 2 6 0 2 2 6 0 2 2 4 0 2 2 4 0 2 2 4 0 2 2 4 0 2 2 2 0 2 2 2 0 2 2 2 0 2 2 2 0 2 2 2 0 2 2 2 0 2 2 2 0 2 2 2 0 4 4 2 0 4 4 2 0 4 4 2 0 4 4 0 1.6-24 2.1-16 0.6-18 2.2-22 4.1-8 2-22 9.4-18 9.6-16.6 10.4-12.9 12-11.2 14-7.3 12-2 6.7-2.8 21.3 0.4 8 1.2 8 7.1 22 2.1 4.1 11.2 15.9 36.8 35.1 16 12 10 5.3 10 3.1 12 1.8 12 0.5 58 0.4 14 1 12 2.4 6 1.9 6 2.7 22 13.8 6.8 6 5.7 8-0.5 4-2 2 0 2-2 2 0 2-2 2 0 2-2 2 0 2-2 2 0 2-2 2 0 2-2 2 0 2-4 4 0 2-4 4 0 2-4 4 0 2-8 8 0 2-28 28-2 0-8 8-2 0-4 4-2 0-4 4-2 0-4 4-2 0-2 2-2 0-2 2-2 0-2 2-2 0-2 2-2 0-2 2-2 0-2 2-2 0-2 2-2 0-2 2-4 0-2 2-4 0-2 2-4 0-2 2-4 0-2 2-6 0-2 2-6 0-2 2-10 0-2 2-64 0-2-2-10 0-2-2-6 0-2-2-6 0-2-2-4 0-2-2-4 0-2-2-4 0-2-2-4 0-2-2-2 0-2-2-2 0-2-2-2 0-2-2-2 0-2-2-2 0-2-2-2 0-2-2-2 0-2-2-2 0-4-4-2 0-4-4-2 0-4-4-2 0-8-8-2 0-28-28 0-2-8-8 0-2-4-4 0-2-4-4 0-2-4-4 0-2-2-2 0-2-2-2 0-2-2-2 0-2-2-2 0-2-2-2 0-2-2-2 0-2-2-2 0-2-2-2 0-4-2-2 0-4-2-2 0-4-2-2 0-4-2-2 0-6-2-2 0-6-2-2 0-10-2-2 0-64 2-2 0-10 2-2 0-6 2-2 0-6 2-2 0-4 2-2 0-4 2-2 0-4 2-2 0-4 2-2 0-2 2-2 0-2 2-2 0-2 2-2 0-2 2-2 0-2 2-2 0-2 2-2 0-2 2-2 0-2 4-4 0-2 4-4 0-2 4-4 0-2 8-8 0-2 28-28 2 0 8-8 2 0 4-4 2 0 4-4 2 0 4-4 2 0 2-2 2 0 2-2 2 0 2-2 2 0 2-2 2 0 2-2 2 0 2-2 2 0 2-2 2 0 2-2 4 0 2-2 4 0 2-2 4 0 2-2 4 0 2-2 6 0 2-2 6 0 2-2z"/>
<path fill="#09f06e" d="M-44-220l10 0 2-2 64 0 2 2 10 0 2 2 6 0 2 2 6 0 2 2 4 0 2 2 4 0 2 2 4 0 2 2 4 0 2 2 2 0 2 2 2 0 2 2 2 0 2 2 2 0 2 2 2 0 2 2 2 0 2 2 2 0 2 2 2 0 4 4 2 0 4 4 2 0 4 4 2 0 0 0.9-18 2.1-18 1-20 2-18 3.2-10 2.4-6 2.1-23.9 10.3-28.1 16.2-5.1 3.8-6.6 6-8.3 9.1-10 13.1-5.9 9.8-1.9 6-3.3 20 0.4 14 1.8 10 5.7 18 2.5 6 9.4 14 4.9 6 12.6 12 21.5 22 18.3 15.5 6 3.9 8 3.5 8 2.5 8 1.3 16 0.9 56 0 12 0.8 10.1 1.6 9.9 3.5 6.4 4.5 6.2 6 5.1 6 2.6 4 1.5 4 0.4 4-0.6 10 0.3 4 1 4 3.2 8-0.1 4-4 4 0 2-4 4 0 2-8 8 0 2-28 28-2 0-8 8-2 0-4 4-2 0-4 4-2 0-4 4-2 0-2 2-2 0-2 2-2 0-2 2-2 0-2 2-2 0-2 2-2 0-2 2-2 0-2 2-2 0-2 2-4 0-2 2-4 0-2 2-4 0-2 2-4 0-2 2-6 0-2 2-6 0-2 2-10 0-2 2-64 0-2-2-10 0-2-2-6 0-2-2-6 0-2-2-4 0-2-2-4 0-2-2-4 0-2-2-4 0-2-2-2 0-2-2-2 0-2-2-2 0-2-2-2 0-2-2-2 0-2-2-2 0-2-2-2 0-2-2-2 0-4-4-2 0-4-4-2 0-4-4-2 0-8-8-2 0-28-28 0-2-8-8 0-2-4-4 0-2-4-4 0-2-4-4 0-2-2-2 0-2-2-2 0-2-2-2 0-2-2-2 0-2-2-2 0-2-2-2 0-2-2-2 0-2-2-2 0-4-2-2 0-4-2-2 0-4-2-2 0-4-2-2 0-6-2-2 0-6-2-2 0-10-2-2 0-64 2-2 0-10 2-2 0-6 2-2 0-6 2-2 0-4 2-2 0-4 2-2 0-4 2-2 0-4 2-2 0-2 2-2 0-2 2-2 0-2 2-2 0-2 2-2 0-2 2-2 0-2 2-2 0-2 2-2 0-2 4-4 0-2 4-4 0-2 4-4 0-2 8-8 0-2 28-28 2 0 8-8 2 0 4-4 2 0 4-4 2 0 4-4 2 0 2-2 2 0 2-2 2 0 2-2 2 0 2-2 2 0 2-2 2 0 2-2 2 0 2-2 2 0 2-2 4 0 2-2 4 0 2-2 4 0 2-2 4 0 2-2 6 0 2-2 6 0 2-2z"/>
<path fill="#1cf157" d="M-44-220l10 0 2-2 64 0 2 2 10 0 2 2 6 0 2 2 6 0 2 2 4 0 2 2 4 0 2 2 4 0 2 2 4 0 2 2 2 0 2 2 2 0 2 2 2 0 2 2 2 0 2 2 2 0 2 2 2 0 2 2 2 0 2 2 2 0 4 4 2 0 4 4 2 0 0 0.7-12 1.6-38 2.8-14 2.3-22.9 6.6-19.9 8-9.2 4.5-22 13-6 4.2-8 7.3-9.9 11-10.1 13.3-5 8.7-2 6-3.4 16-0.9 10 1.4 16 6.2 22 4.3 10 7.4 11.7 3.3 4.3 12.3 12 22.4 24.3 16 15.3 8 6.9 6 3.8 10 4.6 10 3.1 16 1.9 40 0.9 18 0.8 12 1.9 8 3 4.9 3.5 4.1 6 2.2 8 0.7 14 0.9 4 10.2 16 4.5 10 0.6 2-0.1 2-2 2 0 2-28 28-2 0-8 8-2 0-4 4-2 0-4 4-2 0-4 4-2 0-2 2-2 0-2 2-2 0-2 2-2 0-2 2-2 0-2 2-2 0-2 2-2 0-2 2-2 0-2 2-4 0-2 2-4 0-2 2-4 0-2 2-4 0-2 2-6 0-2 2-6 0-2 2-10 0-2 2-64 0-2-2-10 0-2-2-6 0-2-2-6 0-2-2-4 0-2-2-4 0-2-2-4 0-2-2-4 0-2-2-2 0-2-2-2 0-2-2-2 0-2-2-2 0-2-2-2 0-2-2-2 0-2-2-2 0-2-2-2 0-4-4-2 0-4-4-2 0-4-4-2 0-8-8-2 0-28-28 0-2-8-8 0-2-4-4 0-2-4-4 0-2-4-4 0-2-2-2 0-2-2-2 0-2-2-2 0-2-2-2 0-2-2-2 0-2-2-2 0-2-2-2 0-2-2-2 0-4-2-2 0-4-2-2 0-4-2-2 0-4-2-2 0-6-2-2 0-6-2-2 0-10-2-2 0-64 2-2 0-10 2-2 0-6 2-2 0-6 2-2 0-4 2-2 0-4 2-2 0-4 2-2 0-4 2-2 0-2 2-2 0-2 2-2 0-2 2-2 0-2 2-2 0-2 2-2 0-2 2-2 0-2 2-2 0-2 4-4 0-2 4-4 0-2 4-4 0-2 8-8 0-2 28-28 2 0 8-8 2 0 4-4 2 0 4-4 2 0 4-4 2 0 2-2 2 0 2-2 2 0 2-2 2 0 2-2 2 0 2-2 2 0 2-2 2 0 2-2 2 0 2-2 4 0 2-2 4 0 2-2 4 0 2-2 4 0 2-2 6 0 2-2 6 0 2-2z"/>
<path fill="#41f23d" d="M-44-220l10 0 2-2 64 0 2 2 10 0 2 2 6 0 2 2 6 0 2 2 4 0 2 2 4 0 2 2 4 0 2 2 4 0 2 2 2 0 2 2 2 0 2 2 2 0 2 2 2 0 2 2 2 0 2 2 2 0 2 2 2 0 2 2 2 0 4 4 2 0 0 0.6-10 1.3-40 3-14 3.2-18 5.6-26 10.2-28 16.5-7.6 5.6-8.3 8-10.1 11.6-9.4 12.4-3.5 6-2.6 6-5.6 22-0.3 6 1.5 20 6.2 22 4.5 10 9.9 16 11.3 10.2 20 23.2 28 28.8 6 4.6 14 7.8 6 2.7 6 1.8 14 2.4 46 3.7 12 2.1 8 2.6 6 3.4 6 5.6 3.2 5.1 6.7 16 2.8 10 1.7 10 0.3 10-1.1 10-13.6 14-2 0-8 8-2 0-4 4-2 0-4 4-2 0-4 4-2 0-2 2-2 0-2 2-2 0-2 2-2 0-2 2-2 0-2 2-2 0-2 2-2 0-2 2-2 0-2 2-4 0-2 2-4 0-2 2-4 0-2 2-4 0-2 2-6 0-2 2-6 0-2 2-10 0-2 2-64 0-2-2-10 0-2-2-6 0-2-2-6 0-2-2-4 0-2-2-4 0-2-2-4 0-2-2-4 0-2-2-2 0-2-2-2 0-2-2-2 0-2-2-2 0-2-2-2 0-2-2-2 0-2-2-2 0-2-2-2 0-4-4-2 0-4-4-2 0-4-4-2 0-8-8-2 0-28-28 0-2-8-8 0-2-4-4 0-2-4-4 0-2-4-4 0-2-2-2 0-2-2-2 0-2-2-2 0-2-2-2 0-2-2-2 0-2-2-2 0-2-2-2 0-2-2-2 0-4-2-2 0-4-2-2 0-4-2-2 0-4-2-2 0-6-2-2 0-6-2-2 0-10-2-2 0-64 2-2 0-10 2-2 0-6 2-2 0-6 2-2 0-4 2-2 0-4 2-2 0-4 2-2 0-4 2-2 0-2 2-2 0-2 2-2 0-2 2-2 0-2 2-2 0-2 2-2 0-2 2-2 0-2 2-2 0-2 4-4 0-2 4-4 0-2 4-4 0-2 8-8 0-2 28-28 2 0 8-8 2 0 4-4 2 0 4-4 2 0 4-4 2 0 2-2 2 0 2-2 2 0 2-2 2 0 2-2 2 0 2-2 2 0 2-2 2 0 2-2 2 0 2-2 4 0 2-2 4 0 2-2 4 0 2-2 4 0 2-2 6 0 2-2 6 0 2-2z"/>
<path fill="#69f427" d="M-44-220l10 0 2-2 64 0 2 2 10 0 2 2 6 0 2 2 6 0 2 2 4 0 2 2 4 0 2 2 4 0 2 2 4 0 2 2 2 0 2 2 2 0 2 2 2 0 2 2 2 0 2 2 2 0 2 2 2 0 2 2 2 0 2 2 2 0 0 0.5-6 0.8-40 3.6-16 3.5-16 5.2-26.4 10.4-7.6 4-20 12.4-8 5.7-8.7 7.9-9.3 10.5-11.9 15.5-4.1 7-3.2 7-6.1 22-0.4 6 0.3 14 0.8 8 6.1 22 4.6 10 12.5 18 11.4 10.8 16 19.3 33 35.9 5 4.1 16 11.4 12 6.2 10 3.4 10 2.4 42 6.2 12 2.7 6 2.3 5.4 3.3 3.7 4 2.3 4 1.3 6 0 6-0.7 6-2.1 8-2.4 6-3.5 6.4-4 5.7-6 6.8-8 7.4-24 19.7-14 14-4 0-2 2-4 0-2 2-4 0-2 2-6 0-2 2-6 0-2 2-10 0-2 2-64 0-2-2-10 0-2-2-6 0-2-2-6 0-2-2-4 0-2-2-4 0-2-2-4 0-2-2-4 0-2-2-2 0-2-2-2 0-2-2-2 0-2-2-2 0-2-2-2 0-2-2-2 0-2-2-2 0-2-2-2 0-4-4-2 0-4-4-2 0-4-4-2 0-8-8-2 0-28-28 0-2-8-8 0-2-4-4 0-2-4-4 0-2-4-4 0-2-2-2 0-2-2-2 0-2-2-2 0-2-2-2 0-2-2-2 0-2-2-2 0-2-2-2 0-2-2-2 0-4-2-2 0-4-2-2 0-4-2-2 0-4-2-2 0-6-2-2 0-6-2-2 0-10-2-2 0-64 2-2 0-10 2-2 0-6 2-2 0-6 2-2 0-4 2-2 0-4 2-2 0-4 2-2 0-4 2-2 0-2 2-2 0-2 2-2 0-2 2-2 0-2 2-2 0-2 2-2 0-2 2-2 0-2 2-2 0-2 4-4 0-2 4-4 0-2 4-4 0-2 8-8 0-2 28-28 2 0 8-8 2 0 4-4 2 0 4-4 2 0 4-4 2 0 2-2 2 0 2-2 2 0 2-2 2 0 2-2 2 0 2-2 2 0 2-2 2 0 2-2 2 0 2-2 4 0 2-2 4 0 2-2 4 0 2-2 4 0 2-2 6 0 2-2 6 0 2-2z"/>
<path fill="#94f714" d="M-44-220l10 0 2-2 64 0 2 2 10 0 2 2 6 0 2 2 6 0 2 2 4 0 2 2 4 0 2 2 4 0 2 2 4 0 2 2 2 0 2 2 2 0 2 2 2 0 2 2 2 0 2 2 2 0 2 2 2 0 0 0.7-38 4.3-18 3.1-14 4.7-28.2 11.2-7.8 3.6-8 4.8-25.2 17.6-8 8-8.8 10.6-10 13.4-8 14-2 4.9-5.3 19.1-1.4 20 0.9 12 5.6 20 2.4 6 3.3 6 16.5 19.4 11.7 12.6 14.3 17.3 32 36.7 20 19.8 18.2 16.2 8.1 8 6.2 8 2.7 6 0.8 4 0 6-1.3 6-2.1 6-19.8 40-4.8 12.2-4.4 13.8-1.6 0-2 2-64 0-2-2-10 0-2-2-6 0-2-2-6 0-2-2-4 0-2-2-4 0-2-2-4 0-2-2-4 0-2-2-2 0-2-2-2 0-2-2-2 0-2-2-2 0-2-2-2 0-2-2-2 0-2-2-2 0-2-2-2 0-4-4-2 0-4-4-2 0-4-4-2 0-8-8-2 0-28-28 0-2-8-8 0-2-4-4 0-2-4-4 0-2-4-4 0-2-2-2 0-2-2-2 0-2-2-2 0-2-2-2 0-2-2-2 0-2-2-2 0-2-2-2 0-2-2-2 0-4-2-2 0-4-2-2 0-4-2-2 0-4-2-2 0-6-2-2 0-6-2-2 0-10-2-2 0-64 2-2 0-10 2-2 0-6 2-2 0-6 2-2 0-4 2-2 0-4 2-2 0-4 2-2 0-4 2-2 0-2 2-2 0-2 2-2 0-2 2-2 0-2 2-2 0-2 2-2 0-2 2-2 0-2 2-2 0-2 4-4 0-2 4-4 0-2 4-4 0-2 8-8 0-2 28-28 2 0 8-8 2 0 4-4 2 0 4-4 2 0 4-4 2 0 2-2 2 0 2-2 2 0 2-2 2 0 2-2 2 0 2-2 2 0 2-2 2 0 2-2 2 0 2-2 4 0 2-2 4 0 2-2 4 0 2-2 4 0 2-2 6 0 2-2 6 0 2-2z"/>
<path fill="#b5f909" d="M-44-220l10 0 2-2 64 0 2 2 10 0 2 2 6 0 2 2 6 0 2 2 4 0 2 2 4 0 2 2 4 0 2 2 4 0 2 2 2 0 2 2 2 0 2 2 2 0 2 2 2 0 0 1.1-48 6.8-4 1-12 3.9-32 12.7-8 3.9-6 3.8-26 18.8-6 6.1-6.6 7.9-13.1 18-9.3 16-7 20-1.5 6-2.7 18-0.2 12 1.6 8 2.4 8 3.1 8 3.8 8 4.1 6 11.4 10.6 52 62.4 21.9 29 10.9 18 2.6 6 1.5 6 0.7 8-0.3 10-1.1 8-3 12-11.2 34.2-5.8 23.8-44.2 0-2-2-10 0-2-2-6 0-2-2-6 0-2-2-4 0-2-2-4 0-2-2-4 0-2-2-4 0-2-2-2 0-2-2-2 0-2-2-2 0-2-2-2 0-2-2-2 0-2-2-2 0-2-2-2 0-2-2-2 0-4-4-2 0-4-4-2 0-4-4-2 0-8-8-2 0-28-28 0-2-8-8 0-2-4-4 0-2-4-4 0-2-4-4 0-2-2-2 0-2-2-2 0-2-2-2 0-2-2-2 0-2-2-2 0-2-2-2 0-2-2-2 0-2-2-2 0-4-2-2 0-4-2-2 0-4-2-2 0-4-2-2 0-6-2-2 0-6-2-2 0-10-2-2 0-64 2-2 0-10 2-2 0-6 2-2 0-6 2-2 0-4 2-2 0-4 2-2 0-4 2-2 0-4 2-2 0-2 2-2 0-2 2-2 0-2 2-2 0-2 2-2 0-2 2-2 0-2 2-2 0-2 2-2 0-2 4-4 0-2 4-4 0-2 4-4 0-2 8-8 0-2 28-28 2 0 8-8 2 0 4-4 2 0 4-4 2 0 4-4 2 0 2-2 2 0 2-2 2 0 2-2 2 0 2-2 2 0 2-2 2 0 2-2 2 0 2-2 2 0 2-2 4 0 2-2 4 0 2-2 4 0 2-2 4 0 2-2 6 0 2-2 6 0 2-2z"/>
<path fill="#cafb06" d="M-44-220l10 0 2-2 64 0 2 2 10 0 2 2 6 0 2 2 6 0 2 2 4 0 2 2 4 0 2 2 4 0 2 2 4 0 2 2 2 0 2 2 2 0 0 1.9-42 6.9-12 2.8-22 7.9-16 6.6-8 4.1-14 9.4-14 10.5-8 7.2-6 7-13.8 19.7-9.4 16-9.9 24-6.5 22-1.4 10 0.7 10 3.5 12 5.8 12 7 10 14 14.3 17.7 21.7 30.8 40 7.9 12 7 12 5.6 12 3.5 10 1.9 8 0.8 8-0.2 10-1.2 10-3.2 14-11 34-5.1 20-26.5 0-2-2-10 0-2-2-6 0-2-2-6 0-2-2-4 0-2-2-4 0-2-2-4 0-2-2-4 0-2-2-2 0-2-2-2 0-2-2-2 0-2-2-2 0-2-2-2 0-2-2-2 0-2-2-2 0-2-2-2 0-4-4-2 0-4-4-2 0-4-4-2 0-8-8-2 0-28-28 0-2-8-8 0-2-4-4 0-2-4-4 0-2-4-4 0-2-2-2 0-2-2-2 0-2-2-2 0-2-2-2 0-2-2-2 0-2-2-2 0-2-2-2 0-2-2-2 0-4-2-2 0-4-2-2 0-4-2-2 0-4-2-2 0-6-2-2 0-6-2-2 0-10-2-2 0-64 2-2 0-10 2-2 0-6 2-2 0-6 2-2 0-4 2-2 0-4 2-2 0-4 2-2 0-4 2-2 0-2 2-2 0-2 2-2 0-2 2-2 0-2 2-2 0-2 2-2 0-2 2-2 0-2 2-2 0-2 4-4 0-2 4-4 0-2 4-4 0-2 8-8 0-2 28-28 2 0 8-8 2 0 4-4 2 0 4-4 2 0 4-4 2 0 2-2 2 0 2-2 2 0 2-2 2 0 2-2 2 0 2-2 2 0 2-2 2 0 2-2 2 0 2-2 4 0 2-2 4 0 2-2 4 0 2-2 4 0 2-2 6 0 2-2 6 0 2-2z"/>
<path fill="#dffc04" d="M-44-220l10 0 2-2 64 0 2 2 10 0 2 2 6 0 2 2 6 0 2 2 4 0 2 2 4 0 2 2 4 0 2 2 4 0 2 2 2 0 0 0.4-28 5.7-28 4.8-22 7.9-16 7.1-17.5 10.1-4.5 3.3-17.5 14.7-4.5 4.4-4.4 5.6-10.4 16-12.5 22-3.2 8-6.1 12-8.9 20-3.5 10-1.3 8 0.3 8 2.5 10 4.3 10 5.4 8 21.3 24 17.6 22 19 26 10.6 16 4.4 8 7.8 18 4.1 12 2.3 10 1 10-0.1 10-1.1 10-3.3 14-11.2 32-5.1 20-11.5 0-2-2-10 0-2-2-6 0-2-2-6 0-2-2-4 0-2-2-4 0-2-2-4 0-2-2-4 0-2-2-2 0-2-2-2 0-2-2-2 0-2-2-2 0-2-2-2 0-2-2-2 0-2-2-2 0-2-2-2 0-4-4-2 0-4-4-2 0-4-4-2 0-8-8-2 0-28-28 0-2-8-8 0-2-4-4 0-2-4-4 0-2-4-4 0-2-2-2 0-2-2-2 0-2-2-2 0-2-2-2 0-2-2-2 0-2-2-2 0-2-2-2 0-2-2-2 0-4-2-2 0-4-2-2 0-4-2-2 0-4-2-2 0-6-2-2 0-6-2-2 0-10-2-2 0-64 2-2 0-10 2-2 0-6 2-2 0-6 2-2 0-4 2-2 0-4 2-2 0-4 2-2 0-4 2-2 0-2 2-2 0-2 2-2 0-2 2-2 0-2 2-2 0-2 2-2 0-2 2-2 0-2 2-2 0-2 4-4 0-2 4-4 0-2 4-4 0-2 8-8 0-2 28-28 2 0 8-8 2 0 4-4 2 0 4-4 2 0 4-4 2 0 2-2 2 0 2-2 2 0 2-2 2 0 2-2 2 0 2-2 2 0 2-2 2 0 2-2 2 0 2-2 4 0 2-2 4 0 2-2 4 0 2-2 4 0 2-2 6 0 2-2 6 0 2-2z"/>
<path fill="#f4fe01" d="M-44-220l10 0 2-2 64 0 2 2 10 0 2 2 6 0 2 2 6 0 2 2 4 0 2 2 4 0 2 2 4 0 1.5 2-21.5 5-26 4.1-10 3.6-11.6 3.3-22.7 10-13.7 7.2-4 2.8-22 18.4-6.6 7.6-10.7 18-5 10-4.8 8-5.1 12-21.3 36-2.8 6-2.1 6-1.2 8 0.6 8 2.2 8 4.4 10 3.9 6 3.5 4 15 13.5 29.2 36.5 11.4 16 5.1 8 10.1 18 3.2 8 5.8 18 2.8 12 1.1 10 0.2 10-1.2 12-3.3 14-9 26-6.6 24-10.8 0-2-2-6 0-2-2-6 0-2-2-4 0-2-2-4 0-2-2-4 0-2-2-4 0-2-2-2 0-2-2-2 0-2-2-2 0-2-2-2 0-2-2-2 0-2-2-2 0-2-2-2 0-2-2-2 0-4-4-2 0-4-4-2 0-4-4-2 0-8-8-2 0-28-28 0-2-8-8 0-2-4-4 0-2-4-4 0-2-4-4 0-2-2-2 0-2-2-2 0-2-2-2 0-2-2-2 0-2-2-2 0-2-2-2 0-2-2-2 0-2-2-2 0-4-2-2 0-4-2-2 0-4-2-2 0-4-2-2 0-6-2-2 0-6-2-2 0-10-2-2 0-64 2-2 0-10 2-2 0-6 2-2 0-6 2-2 0-4 2-2 0-4 2-2 0-4 2-2 0-4 2-2 0-2 2-2 0-2 2-2 0-2 2-2 0-2 2-2 0-2 2-2 0-2 2-2 0-2 2-2 0-2 4-4 0-2 4-4 0-2 4-4 0-2 8-8 0-2 28-28 2 0 8-8 2 0 4-4 2 0 4-4 2 0 4-4 2 0 2-2 2 0 2-2 2 0 2-2 2 0 2-2 2 0 2-2 2 0 2-2 2 0 2-2 2 0 2-2 4 0 2-2 4 0 2-2 4 0 2-2 4 0 2-2 6 0 2-2 6 0 2-2z"/>
<path fill="#fff700" d="M-44-220l10 0 2-2 64 0 2 2 10 0 2 2 6 0 2 2 6 0 2 2 4 0 2 2 4 0 0 1.8-16 4-24 3.9-10 3.4-16 4.3-12 5.9-12 4-8.9 4.7-6.2 4-23.9 18-6.1 6-4.5 6-6.4 12.1-15.7 33.9-12.3 18.2-16.5 21.8-4.4 8-2.1 6-1.5 8 0.5 10 2.7 10 4.1 8 4.8 6 4.3 4 16.1 11.8 6 5.3 30 34 9.6 12.9 6 10 6.8 14 4.1 12 3.7 16 1.6 12 0.2 12-1.5 14-3.1 14-8.6 32-5.1 16-0.7 2-7 0-2-2-6 0-2-2-4 0-2-2-4 0-2-2-4 0-2-2-4 0-2-2-2 0-2-2-2 0-2-2-2 0-2-2-2 0-2-2-2 0-2-2-2 0-2-2-2 0-2-2-2 0-4-4-2 0-4-4-2 0-4-4-2 0-8-8-2 0-28-28 0-2-8-8 0-2-4-4 0-2-4-4 0-2-4-4 0-2-2-2 0-2-2-2 0-2-2-2 0-2-2-2 0-2-2-2 0-2-2-2 0-2-2-2 0-2-2-2 0-4-2-2 0-4-2-2 0-4-2-2 0-4-2-2 0-6-2-2 0-6-2-2 0-10-2-2 0-64 2-2 0-10 2-2 0-6 2-2 0-6 2-2 0-4 2-2 0-4 2-2 0-4 2-2 0-4 2-2 0-2 2-2 0-2 2-2 0-2 2-2 0-2 2-2 0-2 2-2 0-2 2-2 0-2 2-2 0-2 4-4 0-2 4-4 0-2 4-4 0-2 8-8 0-2 28-28 2 0 8-8 2 0 4-4 2 0 4-4 2 0 4-4 2 0 2-2 2 0 2-2 2 0 2-2 2 0 2-2 2 0 2-2 2 0 2-2 2 0 2-2 2 0 2-2 4 0 2-2 4 0 2-2 4 0 2-2 4 0 2-2 6 0 2-2 6 0 2-2z"/>
<path fill="#ffe700" d="M-44-220l10 0 2-2 64 0 2 2 10 0 2 2 6 0 2 2 6 0 2 2 4 0 0 1.4-12 3-20 3.5-12 3.8-14 3.3-4 1.3-8 4.6-4 1.7-12 2.7-9.5 4.7-26.4 16-9.2 6-10.8 8-3.6 4-3.2 6-7.5 26-3.1 8-3 6-15.7 20.6-17.5 17.4-6.7 8-6.3 10-4 10-1.5 8-0.2 10 2.6 30 1.3 4 2.3 1.4 2 0.5 14 1 12 3.4 12 5.8 14 9.7 14 11.8 15.1 16.4 4.3 6 4.6 7.8 5.2 12.2 3.5 12 2.4 14 0.7 14-0.8 12-2 12-9.7 46-3 8-4.2 8-2.1 0-2-2-4 0-2-2-4 0-2-2-4 0-2-2-4 0-2-2-2 0-2-2-2 0-2-2-2 0-2-2-2 0-2-2-2 0-2-2-2 0-2-2-2 0-2-2-2 0-4-4-2 0-4-4-2 0-4-4-2 0-8-8-2 0-28-28 0-2-8-8 0-2-4-4 0-2-4-4 0-2-4-4 0-2-2-2 0-2-2-2 0-2-2-2 0-2-2-2 0-2-2-2 0-2-2-2 0-2-2-2 0-2-2-2 0-4-2-2 0-4-2-2 0-4-2-2 0-4-2-2 0-6-2-2 0-6-2-2 0-10-2-2 0-64 2-2 0-10 2-2 0-6 2-2 0-6 2-2 0-4 2-2 0-4 2-2 0-4 2-2 0-4 2-2 0-2 2-2 0-2 2-2 0-2 2-2 0-2 2-2 0-2 2-2 0-2 2-2 0-2 2-2 0-2 4-4 0-2 4-4 0-2 4-4 0-2 8-8 0-2 28-28 2 0 8-8 2 0 4-4 2 0 4-4 2 0 4-4 2 0 2-2 2 0 2-2 2 0 2-2 2 0 2-2 2 0 2-2 2 0 2-2 2 0 2-2 2 0 2-2 4 0 2-2 4 0 2-2 4 0 2-2 4 0 2-2 6 0 2-2 6 0 2-2z"/>
<path fill="#ffd600" d="M-44-220l10 0 2-2 64 0 2 2 10 0 2 2 6 0 2 2 6 0 0 0.9-26 5.5-14 4.4-12 2.7-6 2.3-10 5.7-4 1-6 0.5-6 1.7-54 25.1-6 3.4-3.5 2.8-3.4 4-3.1 6-1.7 6-2.3 14-2.3 10-2.1 6-3.1 6-4.4 6-10.1 11.9-27 24.1-13.3 14-8 10-3.8 6-3.9 8.7-8.1 25.3-2.3 10 0.4 5.2 2 3.1 2.5 1.7 9.5 4.4 10.3 5.6 17.7 6.7 18 4.3 10 3.2 16 6.2 12 5.7 8 5.3 10 8.7 6 6.7 4.6 7.2 4.9 12 3.1 14 1.1 14-1.1 16-10.4 50-2.3 8-2.8 6-5.2 8-5.9 0-2-2-4 0-2-2-2 0-2-2-2 0-2-2-2 0-2-2-2 0-2-2-2 0-2-2-2 0-2-2-2 0-2-2-2 0-4-4-2 0-4-4-2 0-4-4-2 0-8-8-2 0-28-28 0-2-8-8 0-2-4-4 0-2-4-4 0-2-4-4 0-2-2-2 0-2-2-2 0-2-2-2 0-2-2-2 0-2-2-2 0-2-2-2 0-2-2-2 0-2-2-2 0-4-2-2 0-4-2-2 0-4-2-2 0-4-2-2 0-6-2-2 0-6-2-2 0-10-2-2 0-64 2-2 0-10 2-2 0-6 2-2 0-6 2-2 0-4 2-2 0-4 2-2 0-4 2-2 0-4 2-2 0-2 2-2 0-2 2-2 0-2 2-2 0-2 2-2 0-2 2-2 0-2 2-2 0-2 2-2 0-2 4-4 0-2 4-4 0-2 4-4 0-2 8-8 0-2 28-28 2 0 8-8 2 0 4-4 2 0 4-4 2 0 4-4 2 0 2-2 2 0 2-2 2 0 2-2 2 0 2-2 2 0 2-2 2 0 2-2 2 0 2-2 2 0 2-2 4 0 2-2 4 0 2-2 4 0 2-2 4 0 2-2 6 0 2-2 6 0 2-2z"/>
<path fill="#ffc600" d="M-44-220l10 0 2-2 64 0 2 2 10 0 2 2 6 0 0 0.7-18 4.1-28 8-4 1.7-8 5.1-4 1.7-12 1.2-12.5 3.5-43.5 15.7-8.2 4.3-8.6 6-3.9 4-3.5 6-2 6-3 16-2.6 10-3.3 8-3.6 6-9.3 10.6-40 36.8-18 18.6-4 6-13.2 24-15.3 24-5.5 9.9 0-51.9 2-2 0-10 2-2 0-6 2-2 0-6 2-2 0-4 2-2 0-4 2-2 0-4 2-2 0-4 2-2 0-2 2-2 0-2 2-2 0-2 2-2 0-2 2-2 0-2 2-2 0-2 2-2 0-2 2-2 0-2 4-4 0-2 4-4 0-2 4-4 0-2 8-8 0-2 28-28 2 0 8-8 2 0 4-4 2 0 4-4 2 0 4-4 2 0 2-2 2 0 2-2 2 0 2-2 2 0 2-2 2 0 2-2 2 0 2-2 2 0 2-2 2 0 2-2 4 0 2-2 4 0 2-2 4 0 2-2 4 0 2-2 6 0 2-2 6 0 2-2zM-174 35.3l4-0.6 6 0.8 6.4 2.5 6.3 4 8.5 8 12.8 17.3 4 2.9 6 1.5 20 0.8 10 2.7 6 3 6 4.5 4.8 5.3 3.7 6 2.5 6 1.7 6 1.5 12-0.5 12-3 16-4.7 18.5-6 15.9-6.6 11.6-3.4 4.3-5.5 5.7-2.5 0-2-2-2 0-2-2-2 0-2-2-2 0-2-2-2 0-2-2-2 0-4-4-2 0-4-4-2 0-4-4-2 0-8-8-2 0-28-28 0-2-8-8 0-2-4-4 0-2-4-4 0-2-4-4 0-2-2-2 0-2-2-2 0-2-2-2 0-2-2-2 0-2-2-2 0-2-2-2 0-2-2-2 0-2-2-2 0-4-2-2 0-4-2-2 0-4-2-2 0-4-2-2 0-0.9 4 1 6-0.1 6-1.6 4-1.9 6.1-4.5 9.9-13.2 2-1.6 4-1.9z"/>
<path fill="#ffb600" d="M-44-220l10 0 2-2 64 0 2 2 10 0 0 0.5-12 3-26 7.8-6 2.8-10 6.3-14 0.9-10 1.6-18 4-21.8 7.1-10.2 4.4-18 11.7-5.5 5.9-3.3 6-1.8 6-2.2 12-2.2 8-3.9 10-4.7 8-4.4 4.9-60 59.2-32 43.4 0-25.5 2-2 0-10 2-2 0-6 2-2 0-6 2-2 0-4 2-2 0-4 2-2 0-4 2-2 0-4 2-2 0-2 2-2 0-2 2-2 0-2 2-2 0-2 2-2 0-2 2-2 0-2 2-2 0-2 2-2 0-2 4-4 0-2 4-4 0-2 4-4 0-2 8-8 0-2 28-28 2 0 8-8 2 0 4-4 2 0 4-4 2 0 4-4 2 0 2-2 2 0 2-2 2 0 2-2 2 0 2-2 2 0 2-2 2 0 2-2 2 0 2-2 2 0 2-2 4 0 2-2 4 0 2-2 4 0 2-2 4 0 2-2 6 0 2-2 6 0 2-2zM-168 43.7l4 0.2 2.8 2.1 2.2 4 0.5 4-1 4-4.7 8-0.8 12-4.2 14 1 54-1.8 0-2-2 0-2-8-8 0-2-4-4 0-2-4-4 0-2-4-4 0-2-2-2 0-2-2-2 0-2-2-2 0-2-2-2 0-2-2-2 0-2-2-2 0-2-2-2 0-1.6 6-5.5 10.1-12.9 12.4-14 5.5-7.6 4-2.7zM-100 107.7l4-1 2 0.1 4 1.4 4 3.8 2.7 6 0.6 4-0.2 4-3.4 12-0.6 4 0.7 8-0.5 6-1.5 4-1.8 2.8-6 6.4-4 3.3-6 2.8-4 0.6-4-0.4-6-2.5-4-4.1-2-4.9 0.2-6 1.7-4 2.9-4 7.2-6 2-2.4 1.9-5.6 0.2-12 1.2-6 3.2-6 1.9-2 3.6-2.3z"/>
<path fill="#ffa600" d="M-44-220l10 0 2-2 64 0 0 1.5-28 8.9-16 8.9-16 0.4-22 1.7-6 1.2-6 1.9-14 5.2-8 3.7-25.2 16.6-6.1 6-3.6 6-1.3 4-2.8 14-2.3 8-3.4 8-5.1 8-38.2 40.7-13.5 15.3-14 14-22.5 25.2 0-9.2 2-2 0-10 2-2 0-6 2-2 0-6 2-2 0-4 2-2 0-4 2-2 0-4 2-2 0-4 2-2 0-2 2-2 0-2 2-2 0-2 2-2 0-2 2-2 0-2 2-2 0-2 2-2 0-2 2-2 0-2 4-4 0-2 4-4 0-2 4-4 0-2 8-8 0-2 28-28 2 0 8-8 2 0 4-4 2 0 4-4 2 0 4-4 2 0 2-2 2 0 2-2 2 0 2-2 2 0 2-2 2 0 2-2 2 0 2-2 2 0 2-2 2 0 2-2 4 0 2-2 4 0 2-2 4 0 2-2 4 0 2-2 6 0 2-2 6 0 2-2z"/>
<path fill="#ff9500" d="M-44-220l10 0 2-2 55.1 0-19.1 6.5-14 7.3-4 1.4-6 0.3-32-0.3-5.1 0.8-6.5 2-12.4 4.9-8 3.9-6 3.7-12 8.9-15.2 8.6-6.6 6-3.7 6-1.2 4-2.5 14-2.3 8-2.6 6-5.2 8-32.7 37.4-18.4 22.6-27.6 25 0-7 2-2 0-6 2-2 0-6 2-2 0-4 2-2 0-4 2-2 0-4 2-2 0-4 2-2 0-2 2-2 0-2 2-2 0-2 2-2 0-2 2-2 0-2 2-2 0-2 2-2 0-2 2-2 0-2 4-4 0-2 4-4 0-2 4-4 0-2 8-8 0-2 28-28 2 0 8-8 2 0 4-4 2 0 4-4 2 0 4-4 2 0 2-2 2 0 2-2 2 0 2-2 2 0 2-2 2 0 2-2 2 0 2-2 2 0 2-2 2 0 2-2 4 0 2-2 4 0 2-2 4 0 2-2 4 0 2-2 6 0 2-2 6 0 2-2z"/>
<path fill="#ff8500" d="M-44-220l10 0 2-2 41.9 0-7.9 3-12 5.7-6 1.8-8 0.3-28-1.2-8 1.1-8 2.4-10 4-8 4.1-7.5 4.8-10.7 8-15.8 7.9-6.5 4.1-5.5 4.8-3.9 5.2-1.3 4-1.6 10-2.9 12-2.3 5.5-4 6.5-18 22.2-30 40.1-4 3.9-18 13.4 0-3.6 2-2 0-6 2-2 0-4 2-2 0-4 2-2 0-4 2-2 0-4 2-2 0-2 2-2 0-2 2-2 0-2 2-2 0-2 2-2 0-2 2-2 0-2 2-2 0-2 2-2 0-2 4-4 0-2 4-4 0-2 4-4 0-2 8-8 0-2 28-28 2 0 8-8 2 0 4-4 2 0 4-4 2 0 4-4 2 0 2-2 2 0 2-2 2 0 2-2 2 0 2-2 2 0 2-2 2 0 2-2 2 0 2-2 2 0 2-2 4 0 2-2 4 0 2-2 4 0 2-2 4 0 2-2 6 0 2-2 6 0 2-2z"/>
<path fill="#ff7300" d="M-44-220l10 0 2-2 30.1 0-10.1 4-8 1.5-32-1.2 6-0.3 2-2zM-95.4-202l-0.6 0.4 0.6-0.4zM-100-200l1.7 0-1.7 1.1 0-1.1zM-104-198l2.8 0-2.8 1.9 0-1.9zM-108-196l3.9 0-5.9 3.5-8 3.9 0-1.4 2-2 2 0 2-2 2 0 2-2zM-122-188l2.7 0-2.7 1.3 0-1.3zM-124-186l0.6 0-0.6 0zM-128-184l0.9 0-0.9 0.5 0-0.5zM-134-180l0.7 0-0.7 0.6 0-0.6zM-144-172l2.6 0-4.4 8-7.4 22-5.1 10-11.7 16.4-29.2 43.6-6 6-10.8 7.5 0-1.5 2-2 0-4 2-2 0-4 2-2 0-4 2-2 0-4 2-2 0-2 2-2 0-2 2-2 0-2 2-2 0-2 2-2 0-2 2-2 0-2 2-2 0-2 2-2 0-2 4-4 0-2 4-4 0-2 4-4 0-2 8-8 0-2 28-28z"/>
<path fill="#ff5e00" d="M-28-222l5.5 0-5.5 0zM-160-156l0.7 0-0.7 1.6 0-1.6zM-162-154l1.8 0-6.5 14-21.8 38-12.7 20-4.8 6-4 3.8 0-5.8 2-2 0-4 2-2 0-2 2-2 0-2 2-2 0-2 2-2 0-2 2-2 0-2 2-2 0-2 2-2 0-2 2-2 0-2 4-4 0-2 4-4 0-2 4-4 0-2 8-8 0-2 10-10zM-212-72l1.8 0-1.8 1.4 0-1.4z"/>
</g></g></g>
<g clip-path="url(#disk)">
<path fill="none" stroke="#000" stroke-opacity="0.58" stroke-width="1.6" d="M176-119.9l-24-5.9-18-2.8-24-0.9-20 1.5-6 1-16.5 5-6.7 4-7.5 6-5.7 6-4 6-2.3 6 0 6 1.4 4 2.6 4 4.7 5.6 4.5 4.4 37.5 32.8 7 5.2 7 4.1 8 3 8 1.9 42 6.6 26 7.4 10 1.4 12 0.7M154-146.7l-34-1.4-12 1-18 3.3-18 4.5-16 5.6-6 2.6-20.2 11.1-13.8 8.2-7.9 5.8-5.9 6-3.9 6-1.2 6 0.5 8 1.8 8 2.5 6 2.3 4 3.8 4.9 5.1 5.1 20.9 17 18 11.2 16.4 15.8 5.6 4.5 6 3.7 10 3.7 12 2.7 16 1.8 22 0.9 22 3.8 14 3.3 20 6.6 14 3.5M136-162.9l-36 0.2-22 4.5-22.9 6.2-11.6 4-27.5 14.3-6.1 3.7-7.9 6.2-14 13.6-6 8.2-4.3 8-2.8 10-1.2 12 1 12 2.6 10 3.2 8 4.4 8 7.1 10.2 6 7.1 16.5 14.7 7.5 5.9 12 7.7 14 7 14 5.8 6 1.8 6 1.1 30 2.4 32 1.4 24 3.4 10 2.5 8.8 3 14.7 6 13 6M120-175.4l-10 0.9-12 0.4-18 1.9-18 3.2-12 2.7-12 4.7-18 8.2-23.2 13.4-6 4-8.8 7.8-8 8.7-10.1 13.5-5.9 10-1.5 6-3 20 0.6 12 1.8 10 7.5 22 12.6 18.3 36 35.3 16 13.1 6 4.1 6 2.9 6 2.1 6 1.6 8 1.1 16 0.7 56 0 14 0.9 10 1.8 8 2.5 6.4 3.6 20.9 16 2.7 3 1.7 3M102-186.7l-32 2.6-10 2.3-20 6.1-29.2 11.7-26.6 16-5.4 4-8.6 8-10.6 12-9.6 12.5-5.5 9.5-2.2 6-5.2 20-0.3 6 1 18 1.4 6 6.6 22 2.9 6 9.9 16 3.4 3.7 9.5 8.3 16.5 19.7 32 33.5 4 3.1 16 9.5 6 2.8 6 1.9 14 2.7 30.9 2.8 17.1 2.2 12 2.8 4 1.5 6 3.1 4 2.8 4 4.2 6.8 13.4 1.5 6 1.6 10 0.3 8-0.5 8M82-196.4l-32 4.7-12 3.8-18 6.8-17.2 7.1-7.9 4-28.9 20.3-7.9 7.7-6.7 8-11.8 16-9.5 16-2.1 4-6 18-2.6 12-2 16 0.5 10 1.8 8 2.6 8 3.2 8 4.2 8 2.9 4 11.4 10.6 52 62.4 21.9 29 10.9 18 2.6 6 1.5 6 0.7 8-0.3 10-1.1 8-3 12-9.4 28-5.4 20M64-203.3l-6 1.3-26 4-26 9-16 7.3-16 8.6-24 19.9-4 4-3.8 5.2-10.2 16.7-4.8 9.3-4.8 8-6.2 14-19 34-2.6 6-1.8 6-1 8 0.8 8 3.1 10 3.7 8 5.7 8 14.9 14.2 28.6 35.8 12.8 18 11.1 18 4.3 8 3.4 8 6 18 2.6 10 1.4 10 0.4 10-0.9 12-1.4 8-2.2 8-9.2 26-4 14M42-209.2l-10 2.1-10 3.3-16 3.8-4 1.7-6 3.7-4 1.8-10 1.7-4 1.3-8.1 3.8-29.2 16-18.7 10.7-4 2.8-3.6 4.5-2.9 6-1.2 4-2.1 12-3 12-2.2 6-3 6-4 5.7-12 14.8-19.4 17.5-10.6 12-5.8 8-3.4 6-2.5 6-1.8 6-0.9 6-0.9 18 1.5 14-1.8 6-0.2 2 1 4 1.2 2 1.6 1.5 2 1.1 12 3.1 14-0.9 10 1.6 12 4.3 10 5.2 10 5.8 8 5.6 14 13.4 4 4.2 3.7 5.1 6.7 12 4.1 12 2.6 12 1.3 12 0 12-1.7 14-5.9 28-3.2 18-1.6 6.8-2.1 5.2M16-212.3l-8 2.3-6 2.5-12.3 7.5-17.7 1.2-22 4.1-24 7.6-10 4.3-19.5 12.8-5.5 6-3.2 6-1.8 6-2.2 12-2.3 8-4 10-3.5 6-5.1 6-42.9 42.5-8.8 9.5-8.5 8-20.9 28M-195.5 84l6.9-14 6.6-8.6 7.7-7.4 4-6 2.2-2 2.1-0.5 2 0.8 1.4 1.7 0.9 2-0.1 4-4.2 8.5-1.2 3.5-0.1 8-0.9 4-1.8 3.7-4.4 6.3-1.6 4-0.9 4-0.8 8-2.3 10.2M-96 115.8l2-0.1 2 1 2 2.2 1.2 3.1 0 4-1.2 2.9-3.4 5.1-0.4 2 0.7 4 3.8 10 0.3 4-0.4 2-1.7 4-1.5 2-7.4 6.4-2 1.1-4 1.1-4-0.2-2-0.8-2.3-1.6-2.7-4-1.1-4 0.4-4 2.1-4 6.7-6 8.1-10 1.3-4-0.7-6 0.2-4.6 1.4-3.4 2.3-2M-10-212.7l-4 1.4-4 0.6-14-0.3M-135.5-164l-2.5 14-2 8.5-1.9 5.5-3.4 6-4.2 6-13.5 16-15 19.2-16.9 22.8-3.1 3.4-6.1 4.6"/>
</g>
<circle r="200" fill="none" stroke="#000" stroke-width="3.4"/>
<path d="M-36 -198.4L-8.4 -227.4Q-5 -230 0 -230Q5 -230 8.4 -227.4L36 -198.4" fill="none" stroke="#000" stroke-width="2.8" stroke-linejoin="round"/>
<path d="M-197.3 -44.4L-201.5 -47.3L-211.6 -47.3L-215.2 -41.8L-216 -20L-216.5 10L-217 33L-216.6 41L-214.2 47.5L-210 53.2L-201.4 53.8L-195.6 50" fill="none" stroke="#111" stroke-width="2.5" stroke-linejoin="round"/>
<path d="M197.3 -44.4L201.5 -47.3L211.6 -47.3L215.2 -41.8L216 -20L216.5 10L217 33L216.6 41L214.2 47.5L210 53.2L201.4 53.8L195.6 50" fill="none" stroke="#111" stroke-width="2.5" stroke-linejoin="round"/>
<circle cx="0" cy="-214.4" r="2.8" fill="#111"/>
<circle cx="-91.2" cy="-181" r="2.8" fill="#111"/>
<circle cx="92.5" cy="-181" r="2.8" fill="#111"/>
<circle cx="-164.7" cy="-119.2" r="2.8" fill="#111"/>
<circle cx="165" cy="-119.2" r="2.8" fill="#111"/>
<circle cx="-203" cy="0" r="2.8" fill="#111"/>
<circle cx="203.7" cy="0" r="2.8" fill="#111"/>
<circle cx="-164.7" cy="118.6" r="2.8" fill="#111"/>
<circle cx="165" cy="118.6" r="2.8" fill="#111"/>
<circle cx="-91.2" cy="180.4" r="2.8" fill="#111"/>
<circle cx="92.5" cy="180.4" r="2.8" fill="#111"/>
<circle cx="0" cy="213.1" r="2.8" fill="#111"/>
<circle cx="-83.5" cy="-102.9" r="2.8" fill="#111"/>
<circle cx="0" cy="-102.2" r="2.8" fill="#111"/>
<circle cx="83.5" cy="-102.9" r="2.8" fill="#111"/>
<circle cx="-146.3" cy="-56.8" r="2.8" fill="#111"/>
<circle cx="-50.1" cy="-50.1" r="2.8" fill="#111"/>
<circle cx="54.1" cy="-53.4" r="2.8" fill="#111"/>
<circle cx="156.6" cy="-59.5" r="2.8" fill="#111"/>
<circle cx="-102.2" cy="0" r="2.8" fill="#111"/>
<circle cx="0" cy="0" r="2.8" fill="#111"/>
<circle cx="102.2" cy="0" r="2.8" fill="#111"/>
<circle cx="-146.3" cy="55.8" r="2.8" fill="#111"/>
<circle cx="-50.1" cy="50.1" r="2.8" fill="#111"/>
<circle cx="54.1" cy="53.4" r="2.8" fill="#111"/>
<circle cx="156.6" cy="60.1" r="2.8" fill="#111"/>
<circle cx="-83.5" cy="102.9" r="2.8" fill="#111"/>
<circle cx="0" cy="101.9" r="2.8" fill="#111"/>
<circle cx="83.5" cy="102.9" r="2.8" fill="#111"/>
</g>
<g id="topo-explicit-700-900" transform="translate(1799 899.3)">
<g filter="url(#edge)"><g clip-path="url(#disk)"><g filter="url(#sm)">
<circle r="226.5" fill="#0093f0"/>
<path fill="#00a1f2" d="M-44-220l10 0 2-2 64 0 2 2 10 0 2 2 6 0 2 2 6 0 2 2 4 0 2 2 4 0 2 2 4 0 2 2 4 0 2 2 2 0 2 2 2 0 2 2 2 0 2 2 2 0 2 2 2 0 2 2 2 0 2 2 2 0 2 2 2 0 4 4 2 0 4 4 2 0 4 4 2 0 8 8 2 0 28 28 0 2 8 8 0 2 4 4 0 0.6-6 1.1-4 2.1-5.1 4.2-5.5 6-4.4 6-2 4-0.8 4 1.4 4 2.4 2.5 4 2.1 4 0.6 4-0.4 4-1.3 6-3.2 14-9.9 2 1.6 0 2 2 2 0 2 2 2 0 2 2 2 0 2 2 2 0 2 2 2 0 4 2 2 0 4 2 2 0 4 2 2 0 4 2 2 0 6 2 2 0 6 2 2 0 10 2 2 0 64-2 2 0 10-2 2 0 6-2 2 0 6-2 2 0 4-2 2 0 4-2 2 0 4-2 2 0 4-2 2 0 2-2 2 0 2-2 2 0 2-2 2 0 2-2 2 0 2-2 2 0 2-2 2 0 2-2 2 0 2-4 4 0 2-4 4 0 2-4 4 0 2-8 8 0 2-28 28-2 0-8 8-2 0-4 4-2 0-4 4-2 0-4 4-2 0-2 2-2 0-2 2-2 0-2 2-2 0-2 2-2 0-2 2-2 0-2 2-2 0-2 2-2 0-2 2-4 0-2 2-4 0-2 2-4 0-2 2-4 0-2 2-6 0-2 2-6 0-2 2-10 0-2 2-64 0-2-2-10 0-2-2-6 0-2-2-6 0-2-2-3.1 0-2.9-2-1.2 0-10.8-4-4 0-2-2-2 0-2-2-2 0-2-2-2 0-2-2-2 0-2-2-2 0-2-2-2 0-2-2-2 0-2-2-2 0-4-4-2 0-4-4-2 0-4-4-2 0-8-8-2 0-28-28 0-2-8-8 0-2-4-4 0-2-4-4 0-2-4-4 0-2-2-2 0-2-2-2 0-2-2-2 0-2-2-2 0-2-2-2 0-2-2-2 0-2-2-2 0-2-2-2 0-4-2-2 0-4-2-2 0-4-2-2 0-4-2-2 0-6-2-2 0-6-2-2 0-10-2-2 0-64 2-2 0-10 2-2 0-6 2-2 0-6 2-2 0-4 2-2 0-4 2-2 0-4 2-2 0-4 2-2 0-2 2-2 0-2 2-2 0-2 2-2 0-2 2-2 0-2 2-2 0-2 2-2 0-2 2-2 0-2 4-4 0-2 4-4 0-2 4-4 0-2 8-8 0-2 28-28 2 0 8-8 2 0 4-4 2 0 4-4 2 0 4-4 2 0 2-2 2 0 2-2 2 0 2-2 2 0 2-2 2 0 2-2 2 0 2-2 2 0 2-2 2 0 2-2 4 0 2-2 4 0 2-2 4 0 2-2 4 0 2-2 6 0 2-2 6 0 2-2z"/>
<path fill="#00aff3" d="M-44-220l10 0 2-2 64 0 2 2 10 0 2 2 6 0 2 2 6 0 2 2 4 0 2 2 4 0 2 2 4 0 2 2 4 0 2 2 2 0 2 2 2 0 2 2 2 0 2 2 2 0 2 2 2 0 2 2 2 0 2 2 2 0 2 2 2 0 4 4 2 0 4 4 2 0 4 4 2 0 8 8 2 0 24 24 0 0.8-4.9 3.2-11.1 9.3-8 5.7-8 4.3-16 7-10 5.7-7 6-3.6 6-0.6 6 1.5 6 2.9 6 9.7 16 2.9 8 0.4 6-0.4 6-6 26-1 10 0.7 6 1.4 4 2.6 4 4.3 4 8 4 10.2 2.5 12 0.8 10-1.3 15.5-4 16.9-6 12.7-6 18.9-10.4 0 44.4-2 2 0 10-2 2 0 6-2 2 0 6-2 2 0 4-2 2 0 4-2 2 0 4-2 2 0 4-2 2 0 2-2 2 0 2-2 2 0 2-2 2 0 2-2 2 0 2-2 2 0 2-2 2 0 2-2 2 0 2-4 4 0 2-4 4 0 2-4 4 0 2-8 8 0 2-28 28-2 0-8 8-2 0-4 4-2 0-4 4-2 0-4 4-2 0-2 2-2 0-2 2-2 0-2 2-2 0-2 2-2 0-2 2-2 0-2 2-2 0-2 2-2 0-2 2-4 0-2 2-4 0-2 2-4 0-2 2-4 0-2 2-6 0-2 2-6 0-2 2-10 0-2 2-63.7 0-5.7-6-8.3-6-10.3-6.1-12-5.7-8-2.4-10-1-10 0.8-8 2.4-2-2-2 0-2-2-2 0-2-2-2 0-4-4-2 0-4-4-2 0-4-4-2 0-8-8-2 0-28-28 0-2-8-8 0-2-4-4 0-2-4-4 0-2-4-4 0-2-2-2 0-2-2-2 0-2-2-2 0-2-2-2 0-2-2-2 0-2-2-2 0-2-2-2 0-2-2-2 0-4-2-2 0-4-2-2 0-4-2-2 0-4-2-2 0-6-2-2 0-6-2-2 0-10-2-2 0-64 2-2 0-10 2-2 0-6 2-2 0-6 2-2 0-4 2-2 0-4 2-2 0-4 2-2 0-4 2-2 0-2 2-2 0-2 2-2 0-2 2-2 0-2 2-2 0-2 2-2 0-2 2-2 0-2 2-2 0-2 4-4 0-2 4-4 0-2 4-4 0-2 8-8 0-2 28-28 2 0 8-8 2 0 4-4 2 0 4-4 2 0 4-4 2 0 2-2 2 0 2-2 2 0 2-2 2 0 2-2 2 0 2-2 2 0 2-2 2 0 2-2 2 0 2-2 4 0 2-2 4 0 2-2 4 0 2-2 4 0 2-2 6 0 2-2 6 0 2-2z"/>
<path fill="#00bef5" d="M-44-220l10 0 2-2 64 0 2 2 10 0 2 2 6 0 2 2 6 0 2 2 4 0 2 2 4 0 2 2 4 0 2 2 4 0 2 2 2 0 2 2 2 0 2 2 2 0 2 2 2 0 2 2 2 0 2 2 2 0 2 2 2 0 2 2 2 0 4 4 2 0 4 4 2 0 4 4 2 0 8 8 2 0 16 16 0 1.1-16 12-6 3.6-6 2.5-22 6.8-18.1 8-5.9 3.2-7 4.8-4.2 4-2.8 4-1.7 4-0.9 6 1.4 8 11.2 24 1.9 6 1 6 0.2 6-1 8-4.8 20-1.3 8 0.2 8 2 8 2.9 6 2.7 4 5.5 6 4.7 3.9 10 5.5 6 1.9 6 1 14 0.4 58-2.9 12-2.3 20-6 0 8.5-2 2 0 10-2 2 0 6-2 2 0 6-2 2 0 4-2 2 0 4-2 2 0 4-2 2 0 4-2 2 0 2-2 2 0 2-2 2 0 2-2 2 0 2-2 2 0 2-2 2 0 2-2 2 0 2-2 2 0 2-4 4 0 2-4 4 0 2-4 4 0 2-8 8 0 2-28 28-2 0-8 8-2 0-4 4-2 0-4 4-2 0-4 4-2 0-2 2-2 0-2 2-2 0-2 2-2 0-2 2-2 0-2 2-2 0-2 2-2 0-2 2-2 0-2 2-4 0-2 2-4 0-2 2-4 0-2 2-4 0-2 2-6 0-2 2-6 0-2 2-10 0-2 2-49.2 0-2.5-6-2.3-3.6-6.7-6.4-18.4-10-18.9-8.2-10-2.6-20 0.3-4 0.5-4 1.4-8.2 4.6-3.8 0-4-4-2 0-4-4-2 0-4-4-2 0-8-8-2 0-28-28 0-2-8-8 0-2-4-4 0-2-4-4 0-2-4-4 0-2-2-2 0-2-2-2 0-2-2-2 0-2-2-2 0-2-2-2 0-2-2-2 0-2-2-2 0-2-2-2 0-4-2-2 0-4-2-2 0-4-2-2 0-4-2-2 0-6-2-2 0-6-2-2 0-10-2-2 0-64 2-2 0-10 2-2 0-6 2-2 0-6 2-2 0-4 2-2 0-4 2-2 0-4 2-2 0-4 2-2 0-2 2-2 0-2 2-2 0-2 2-2 0-2 2-2 0-2 2-2 0-2 2-2 0-2 2-2 0-2 4-4 0-2 4-4 0-2 4-4 0-2 8-8 0-2 28-28 2 0 8-8 2 0 4-4 2 0 4-4 2 0 4-4 2 0 2-2 2 0 2-2 2 0 2-2 2 0 2-2 2 0 2-2 2 0 2-2 2 0 2-2 2 0 2-2 4 0 2-2 4 0 2-2 4 0 2-2 4 0 2-2 6 0 2-2 6 0 2-2z"/>
<path fill="#00ccf6" d="M-44-220l10 0 2-2 64 0 2 2 10 0 2 2 6 0 2 2 6 0 2 2 4 0 2 2 4 0 2 2 4 0 2 2 4 0 2 2 2 0 2 2 2 0 2 2 2 0 2 2 2 0 2 2 2 0 2 2 2 0 2 2 2 0 2 2 2 0 4 4 2 0 4 4 2 0 4 4 2 0 8 8 2 0 10 10-14 10.4-8 4.5-28 9.1-16 6.3-10 4.8-12 7.7-5.6 5.2-3 4-2.2 4-2 6-0.6 10 1.4 9.5 5.3 20.5 0.7 10-1.5 10-4.5 16-1.2 6-0.3 6 1 6 2.2 6 4.6 8 7.4 10 7.1 8 9.2 9 6 5.1 8 5.2 8 3.5 10 2.5 12 1.3 58-0.1 12-1 20-3.6 0 4.1-2 2 0 6-2 2 0 4-2 2 0 4-2 2 0 4-2 2 0 4-2 2 0 2-2 2 0 2-2 2 0 2-2 2 0 2-2 2 0 2-2 2 0 2-2 2 0 2-2 2 0 2-4 4 0 2-4 4 0 2-4 4 0 2-8 8 0 2-28 28-2 0-8 8-2 0-4 4-2 0-4 4-2 0-4 4-2 0-2 2-2 0-2 2-2 0-2 2-2 0-2 2-2 0-2 2-2 0-2 2-2 0-2 2-2 0-2 2-4 0-2 2-4 0-2 2-4 0-2 2-4 0-2 2-6 0-2 2-6 0-2 2-10 0-2 2-38.9 0-4.5-12-2.6-5.1-4-5.4-4-3.6-6-3.7-12-5.2-15.1-5-12.9-3.6-10-1.2-22 0.7-8 2.9-11.4 7.2-2.6 0-4-4-2 0-4-4-2 0-8-8-2 0-28-28 0-2-8-8 0-2-4-4 0-2-4-4 0-2-4-4 0-2-2-2 0-2-2-2 0-2-2-2 0-2-2-2 0-2-2-2 0-2-2-2 0-2-2-2 0-2-2-2 0-4-2-2 0-4-2-2 0-4-2-2 0-4-2-2 0-6-2-2 0-6-2-2 0-10-2-2 0-64 2-2 0-10 2-2 0-6 2-2 0-6 2-2 0-4 2-2 0-4 2-2 0-4 2-2 0-4 2-2 0-2 2-2 0-2 2-2 0-2 2-2 0-2 2-2 0-2 2-2 0-2 2-2 0-2 2-2 0-2 4-4 0-2 4-4 0-2 4-4 0-2 8-8 0-2 28-28 2 0 8-8 2 0 4-4 2 0 4-4 2 0 4-4 2 0 2-2 2 0 2-2 2 0 2-2 2 0 2-2 2 0 2-2 2 0 2-2 2 0 2-2 2 0 2-2 4 0 2-2 4 0 2-2 4 0 2-2 4 0 2-2 6 0 2-2 6 0 2-2z"/>
<path fill="#00daf8" d="M-44-220l10 0 2-2 64 0 2 2 10 0 2 2 6 0 2 2 6 0 2 2 4 0 2 2 4 0 2 2 4 0 2 2 4 0 2 2 2 0 2 2 2 0 2 2 2 0 2 2 2 0 2 2 2 0 2 2 2 0 2 2 2 0 2 2 2 0 4 4 2 0 4 4 2 0 4 4 2 0 8 8 2 0 2 2 1.6 2-9.6 7.2-7.6 4.8-10.4 4.6-28 9.4-18.4 8-9.6 5.2-7.4 4.8-6.6 5.5-3.8 4.5-2.5 4-2.6 6-2.1 10-0.4 10 0.7 20-1 12-3.4 12-8.9 22-0.9 6 0.9 5.8 2 4.2 4.7 6 29.3 25.2 24 24.5 8 6.4 10 5.1 26 8.3 10 1.8 10 0.8 14-0.8 48-7.5 0 4.2-2 2 0 4-2 2 0 4-2 2 0 2-2 2 0 2-2 2 0 2-2 2 0 2-2 2 0 2-2 2 0 2-2 2 0 2-2 2 0 2-4 4 0 2-4 4 0 2-4 4 0 2-8 8 0 2-28 28-2 0-8 8-2 0-4 4-2 0-4 4-2 0-4 4-2 0-2 2-2 0-2 2-2 0-2 2-2 0-2 2-2 0-2 2-2 0-2 2-2 0-2 2-2 0-2 2-4 0-2 2-4 0-2 2-4 0-2 2-4 0-2 2-6 0-2 2-6 0-2 2-10 0-2 2-27.1 0-5.4-8-4.4-16-2.8-6-2.8-4-4.1-4-5.4-3.3-6-2.3-6-1.5-14-2.5-24-3.2-24-0.3-8 0.9-6 2.2-7.5 4-9.2 6-3.3 0-4-4-2 0-8-8-2 0-28-28 0-2-8-8 0-2-4-4 0-2-4-4 0-2-4-4 0-2-2-2 0-2-2-2 0-2-2-2 0-2-2-2 0-2-2-2 0-2-2-2 0-2-2-2 0-2-2-2 0-4-2-2 0-4-2-2 0-4-2-2 0-4-2-2 0-6-2-2 0-6-2-2 0-10-2-2 0-64 2-2 0-10 2-2 0-6 2-2 0-6 2-2 0-4 2-2 0-4 2-2 0-4 2-2 0-4 2-2 0-2 2-2 0-2 2-2 0-2 2-2 0-2 2-2 0-2 2-2 0-2 2-2 0-2 2-2 0-2 4-4 0-2 4-4 0-2 4-4 0-2 8-8 0-2 28-28 2 0 8-8 2 0 4-4 2 0 4-4 2 0 4-4 2 0 2-2 2 0 2-2 2 0 2-2 2 0 2-2 2 0 2-2 2 0 2-2 2 0 2-2 2 0 2-2 4 0 2-2 4 0 2-2 4 0 2-2 4 0 2-2 6 0 2-2 6 0 2-2z"/>
<path fill="#00e9f9" d="M-44-220l10 0 2-2 64 0 2 2 10 0 2 2 6 0 2 2 6 0 2 2 4 0 2 2 4 0 2 2 4 0 2 2 4 0 2 2 2 0 2 2 2 0 2 2 2 0 2 2 2 0 2 2 2 0 2 2 2 0 2 2 2 0 2 2 2 0 4 4 2 0 4 4 2 0 4 4 2 0 6 6 0 1.3-6.1 4.7-7.9 5.3-6 3.3-6 2.6-30 10.2-15.4 6.6-10.6 5.3-14.7 8.7-7.3 7.3-5.3 8.7-2.8 8-2.1 12-1.4 24-1.5 10-1.6 6-3 8-8.3 16-3.4 8-1.5 8 0.7 6 1.6 4 2.4 4 8.2 8.8 9.4 7.2 18.6 11.5 8 5.7 6 5.4 6.2 7.4 5.3 10 6.5 19.2 3.2 6.8 4.8 7 7.8 9 2.2 4 1.8 6 2.3 16 2.9 8 3.6 6 3.3 4 4.1 3.6 4 2.4 6 1.5 6-0.6 6-3.1 5.3-5.8 2.7-6 0.6-4-0.2-4-1.7-8 0-6 1.6-4 3.7-4.3 6-3.4 14-4.8 18-9 10-2.8 10-1.6 0 1.9-2 2 0 2-2 2 0 2-2 2 0 2-2 2 0 2-2 2 0 2-2 2 0 2-2 2 0 2-4 4 0 2-4 4 0 2-4 4 0 2-8 8 0 2-28 28-2 0-8 8-2 0-4 4-2 0-4 4-2 0-4 4-2 0-2 2-2 0-2 2-2 0-2 2-2 0-2 2-2 0-2 2-2 0-2 2-2 0-2 2-2 0-2 2-4 0-2 2-4 0-2 2-4 0-2 2-4 0-2 2-6 0-2 2-6 0-2 2-5.3 0-6.7-3.1-7.8-4.9-3.9-4-2.2-4-1-4-1-18-0.7-4-1.4-3.5-2-3-4-3.2-8-3-8-1.2-8-0.3-38 1.5-22-0.2-24 0.7-6 1.7-6 2.6-18 10.5-4-0.6-8-8-2 0-28-28 0-2-8-8 0-2-4-4 0-2-4-4 0-2-4-4 0-2-2-2 0-2-2-2 0-2-2-2 0-2-2-2 0-2-2-2 0-2-2-2 0-2-2-2 0-2-2-2 0-4-2-2 0-4-2-2 0-4-2-2 0-4-2-2 0-6-2-2 0-6-2-2 0-10-2-2 0-64 2-2 0-10 2-2 0-6 2-2 0-6 2-2 0-4 2-2 0-4 2-2 0-4 2-2 0-4 2-2 0-2 2-2 0-2 2-2 0-2 2-2 0-2 2-2 0-2 2-2 0-2 2-2 0-2 2-2 0-2 4-4 0-2 4-4 0-2 4-4 0-2 8-8 0-2 28-28 2 0 8-8 2 0 4-4 2 0 4-4 2 0 4-4 2 0 2-2 2 0 2-2 2 0 2-2 2 0 2-2 2 0 2-2 2 0 2-2 2 0 2-2 2 0 2-2 4 0 2-2 4 0 2-2 4 0 2-2 4 0 2-2 6 0 2-2 6 0 2-2z"/>
<path fill="#00f0f2" d="M-44-220l10 0 2-2 64 0 2 2 10 0 2 2 6 0 2 2 6 0 2 2 4 0 2 2 4 0 2 2 4 0 2 2 4 0 2 2 2 0 2 2 2 0 2 2 2 0 2 2 2 0 2 2 2 0 2 2 2 0 2 2 2 0 2 2 2 0 4 4 2 0 4 4 2 0 4 4 2 0 0 1.4-12 9-9.9 5.6-40.1 14.6-17 7.4-17 8.4-7.4 5.6-5.6 6-4.2 6-3.8 8-1.9 6-1.6 8-2.5 26-1.8 10-3.1 10-8.1 18.7-3 9.3-1 8 0.7 8 1.3 4.7 2.4 5.3 7.6 10.5 12 11.7 21.1 15.8 4.6 4 4.6 6 1.6 6-0.3 4-1.7 6-7.2 16-10.5 18-11.5 16-10.1 12-8.6 7.4-10 5.9-11.5 4.7-12.5 4-20 3.7-46 3.7-4 0.7-6 2-8.6 3.9-17.4 9.9-6-5.9-2 0-28-28 0-2-8-8 0-2-4-4 0-2-4-4 0-2-4-4 0-2-2-2 0-2-2-2 0-2-2-2 0-2-2-2 0-2-2-2 0-2-2-2 0-2-2-2 0-2-2-2 0-4-2-2 0-4-2-2 0-4-2-2 0-4-2-2 0-6-2-2 0-6-2-2 0-10-2-2 0-64 2-2 0-10 2-2 0-6 2-2 0-6 2-2 0-4 2-2 0-4 2-2 0-4 2-2 0-4 2-2 0-2 2-2 0-2 2-2 0-2 2-2 0-2 2-2 0-2 2-2 0-2 2-2 0-2 2-2 0-2 4-4 0-2 4-4 0-2 4-4 0-2 8-8 0-2 28-28 2 0 8-8 2 0 4-4 2 0 4-4 2 0 4-4 2 0 2-2 2 0 2-2 2 0 2-2 2 0 2-2 2 0 2-2 2 0 2-2 2 0 2-2 2 0 2-2 4 0 2-2 4 0 2-2 4 0 2-2 4 0 2-2 6 0 2-2 6 0 2-2zM196 105.2l0 2.8-2 2 0 2-2 2 0 2-4 4 0 2-4 4 0 2-4 4 0 2-8 8 0 2-6 6-1.5 0-3-24 0.5-4 0.8-2 3.2-3.1 4-2.1 16-6.7 10-2.9z"/>
<path fill="#00f1e1" d="M-44-220l10 0 2-2 64 0 2 2 10 0 2 2 6 0 2 2 6 0 2 2 4 0 2 2 4 0 2 2 4 0 2 2 4 0 2 2 2 0 2 2 2 0 2 2 2 0 2 2 2 0 2 2 2 0 2 2 2 0 2 2 2 0 2 2 2 0 4 4 2 0 4 4 1.1 0-11.1 8.5-10 5.7-10 4.1-42 15.4-14.7 6.3-9.3 4.9-7.5 5.1-6.7 6-6.1 8-4.1 8-2.1 6-1.8 8-2.7 26-2 12-8.7 28-1.9 8-0.9 8 0.4 8 2.3 10 4.5 10 7.3 11.1 17.7 20.9 4.4 6 3.9 8 1.2 8-1.5 10-3.7 10-6.3 12-9.2 14-8.3 10-8.4 8-9.8 6.9-12 6.1-13.9 5-14.1 3.6-28 4.7-14 1.4-6 1.3-16 6.3-16 8.7-2-2-2 0-20-20-8-8 0-2-8-8 0-2-4-4 0-2-4-4 0-2-4-4 0-2-2-2 0-2-2-2 0-2-2-2 0-2-2-2 0-2-2-2 0-2-2-2 0-2-2-2 0-2-2-2 0-4-2-2 0-4-2-2 0-4-2-2 0-4-2-2 0-6-2-2 0-6-2-2 0-10-2-2 0-64 2-2 0-10 2-2 0-6 2-2 0-6 2-2 0-4 2-2 0-4 2-2 0-4 2-2 0-4 2-2 0-2 2-2 0-2 2-2 0-2 2-2 0-2 2-2 0-2 2-2 0-2 2-2 0-2 2-2 0-2 4-4 0-2 4-4 0-2 4-4 0-2 8-8 0-2 28-28 2 0 8-8 2 0 4-4 2 0 4-4 2 0 4-4 2 0 2-2 2 0 2-2 2 0 2-2 2 0 2-2 2 0 2-2 2 0 2-2 2 0 2-2 2 0 2-2 4 0 2-2 4 0 2-2 4 0 2-2 4 0 2-2 6 0 2-2 6 0 2-2zM184 127.7l-1.2 0.3 1.2-0.3zM180 129.6l2-1.3 0 1.7-2 2 0 2-0.6 0-0.3-2 0.9-2.4z"/>
<path fill="#00f1d0" d="M-44-220l10 0 2-2 64 0 2 2 10 0 2 2 6 0 2 2 6 0 2 2 4 0 2 2 4 0 2 2 4 0 2 2 4 0 2 2 2 0 2 2 2 0 2 2 2 0 2 2 2 0 2 2 2 0 2 2 2 0 2 2 2 0 2 2 2 0 2 2 0 2-12 8.7-13.9 7.3-48.1 16.5-12 5-14 7.2-6 3.8-6.1 5.5-5.9 7.9-4.2 8.1-2.2 6-1.6 6.8-4.3 37.2-8.5 36-1.3 8-0.4 6 1.3 12 2 8 2.2 6 7 14 16.7 26 3.6 8 1.5 6 0.1 10-2.4 10-5.5 12-8.7 14-8.3 10-8.8 8-10.2 6.9-12 6-12 4.5-12 3.4-24 5.9-12 1.2-8 1.9-16 6-16 8.3-2-0.1-26-26 0-2-8-8 0-2-4-4 0-2-4-4 0-2-4-4 0-2-2-2 0-2-2-2 0-2-2-2 0-2-2-2 0-2-2-2 0-2-2-2 0-2-2-2 0-2-2-2 0-4-2-2 0-4-2-2 0-4-2-2 0-4-2-2 0-6-2-2 0-6-2-2 0-10-2-2 0-64 2-2 0-10 2-2 0-6 2-2 0-6 2-2 0-4 2-2 0-4 2-2 0-4 2-2 0-4 2-2 0-2 2-2 0-2 2-2 0-2 2-2 0-2 2-2 0-2 2-2 0-2 2-2 0-2 2-2 0-2 4-4 0-2 4-4 0-2 4-4 0-2 8-8 0-2 28-28 2 0 8-8 2 0 4-4 2 0 4-4 2 0 4-4 2 0 2-2 2 0 2-2 2 0 2-2 2 0 2-2 2 0 2-2 2 0 2-2 2 0 2-2 2 0 2-2 4 0 2-2 4 0 2-2 4 0 2-2 4 0 2-2 6 0 2-2 6 0 2-2z"/>
<path fill="#00f2bf" d="M-44-220l10 0 2-2 64 0 2 2 10 0 2 2 6 0 2 2 6 0 2 2 4 0 2 2 4 0 2 2 4 0 2 2 4 0 2 2 2 0 2 2 2 0 2 2 2 0 2 2 2 0 2 2 2 0 2 2 2 0 2.5 2-12.5 9.1-12 6.5-48 14.8-12 4.5-18 7.7-5.4 3.4-4.6 4.2-4.4 5.8-4.1 8-3.5 10-2 8.1-5.1 39.9-7 34-1.9 16 0.1 6 1 8 3.7 14 6.3 14 15 28 2.9 8 1.2 6-0.1 10-2.4 10-5.4 12-6.2 10-8.1 9.9-8 7.2-10 6.8-11.8 6.1-14.2 5.6-26 8.1-16 2.4-12 3.4-12 4.6-16 8.1-2-0.2-22-22 0-2-8-8 0-2-4-4 0-2-4-4 0-2-4-4 0-2-2-2 0-2-2-2 0-2-2-2 0-2-2-2 0-2-2-2 0-2-2-2 0-2-2-2 0-2-2-2 0-4-2-2 0-4-2-2 0-4-2-2 0-4-2-2 0-6-2-2 0-6-2-2 0-10-2-2 0-64 2-2 0-10 2-2 0-6 2-2 0-6 2-2 0-4 2-2 0-4 2-2 0-4 2-2 0-4 2-2 0-2 2-2 0-2 2-2 0-2 2-2 0-2 2-2 0-2 2-2 0-2 2-2 0-2 2-2 0-2 4-4 0-2 4-4 0-2 4-4 0-2 8-8 0-2 28-28 2 0 8-8 2 0 4-4 2 0 4-4 2 0 4-4 2 0 2-2 2 0 2-2 2 0 2-2 2 0 2-2 2 0 2-2 2 0 2-2 2 0 2-2 2 0 2-2 4 0 2-2 4 0 2-2 4 0 2-2 4 0 2-2 6 0 2-2 6 0 2-2z"/>
<path fill="#01f2ad" d="M-44-220l10 0 2-2 64 0 2 2 10 0 2 2 6 0 2 2 6 0 2 2 4 0 2 2 4 0 2 2 4 0 2 2 4 0 2 2 2 0 2 2 2 0 2 2 2 0 2 2 2 0 0 1.4-12 7.9-10.4 4.7-11.6 3.5-30 7.7-36 11.6-6 3.1-4 3.2-4 4.8-3.2 6.1-2.5 8-1.6 8-7.2 52-7.4 38-1.3 14 0.8 14 3.2 16 4.8 12 13.9 28 2.9 8 1.6 8 0.1 10-2.1 10-4 10-5.9 10-6.4 8-8.6 8-11.1 7.5-12 6.3-12 5-20 6.7-20 4.2-12 3.6-10 4.1-18 8.8-2-0.2-18-18 0-2-8-8 0-2-4-4 0-2-4-4 0-2-4-4 0-2-2-2 0-2-2-2 0-2-2-2 0-2-2-2 0-2-2-2 0-2-2-2 0-2-2-2 0-2-2-2 0-4-2-2 0-4-2-2 0-4-2-2 0-4-2-2 0-6-2-2 0-6-2-2 0-10-2-2 0-64 2-2 0-10 2-2 0-6 2-2 0-6 2-2 0-4 2-2 0-4 2-2 0-4 2-2 0-4 2-2 0-2 2-2 0-2 2-2 0-2 2-2 0-2 2-2 0-2 2-2 0-2 2-2 0-2 2-2 0-2 4-4 0-2 4-4 0-2 4-4 0-2 8-8 0-2 28-28 2 0 8-8 2 0 4-4 2 0 4-4 2 0 4-4 2 0 2-2 2 0 2-2 2 0 2-2 2 0 2-2 2 0 2-2 2 0 2-2 2 0 2-2 2 0 2-2 4 0 2-2 4 0 2-2 4 0 2-2 4 0 2-2 6 0 2-2 6 0 2-2z"/>
<path fill="#03f198" d="M-44-220l10 0 2-2 64 0 2 2 10 0 2 2 6 0 2 2 6 0 2 2 4 0 2 2 4 0 2 2 4 0 2 2 4 0 2 2 2 0 0 1.9-11.4 6.1-12.6 4.4-28 6.5-24 7.4-20 3.2-6 1.5-8 3.8-5 5.2-2.6 6-1.7 10-0.3 8 0.8 22-1.7 20-4.1 26-6.5 32-0.9 8-0.2 10 1 12 3.5 18 4.8 12 10.8 22 2.9 8 1.5 6 0.8 6-0.1 8-1.4 8-2.6 8-2.8 6-3.6 6-8.3 10-9.6 8-13 8-9.7 4.7-12 4.6-34 9.5-10 3.3-30.1 13.9-1.9 0-14-14 0-2-8-8 0-2-4-4 0-2-4-4 0-2-4-4 0-2-2-2 0-2-2-2 0-2-2-2 0-2-2-2 0-2-2-2 0-2-2-2 0-2-2-2 0-2-2-2 0-4-2-2 0-4-2-2 0-4-2-2 0-4-2-2 0-6-2-2 0-6-2-2 0-10-2-2 0-64 2-2 0-10 2-2 0-6 2-2 0-6 2-2 0-4 2-2 0-4 2-2 0-4 2-2 0-4 2-2 0-2 2-2 0-2 2-2 0-2 2-2 0-2 2-2 0-2 2-2 0-2 2-2 0-2 2-2 0-2 4-4 0-2 4-4 0-2 4-4 0-2 8-8 0-2 28-28 2 0 8-8 2 0 4-4 2 0 4-4 2 0 4-4 2 0 2-2 2 0 2-2 2 0 2-2 2 0 2-2 2 0 2-2 2 0 2-2 2 0 2-2 2 0 2-2 4 0 2-2 4 0 2-2 4 0 2-2 4 0 2-2 6 0 2-2 6 0 2-2z"/>
<path fill="#06f183" d="M-44-220l10 0 2-2 64 0 2 2 10 0 2 2 6 0 2 2 6 0 2 2 4 0 2 2 4 0 0.8 2-12.8 5.1-24 6.6-26 8.8-10 1.3-28 0-12 0.9-10 2.1-3 1.2-3 2.4-1.6 3.6 0.4 4 1.5 4 7.2 14 2.5 6.6 5 17.4 2.2 12 0.1 12-1 12-3.4 22-6.7 32-0.9 10-0.2 10 1.3 12 3.8 18 4.5 12 9.3 19.9 3.6 12.1 0.8 6 0 6-1 8-1.6 6-2.2 6-3.2 6-7.5 10-8.9 8-12.2 8-7.8 4.1-10 4-32 9.6-10 3.4-8 3.3-18 8.8-12 4.8-10-10 0-2-8-8 0-2-4-4 0-2-4-4 0-2-4-4 0-2-2-2 0-2-2-2 0-2-2-2 0-2-2-2 0-2-2-2 0-2-2-2 0-2-2-2 0-2-2-2 0-4-2-2 0-4-2-2 0-4-2-2 0-4-2-2 0-6-2-2 0-6-2-2 0-10-2-2 0-64 2-2 0-10 2-2 0-6 2-2 0-6 2-2 0-4 2-2 0-4 2-2 0-4 2-2 0-4 2-2 0-2 2-2 0-2 2-2 0-2 2-2 0-2 2-2 0-2 2-2 0-2 2-2 0-2 2-2 0-2 4-4 0-2 4-4 0-2 4-4 0-2 8-8 0-2 28-28 2 0 8-8 2 0 4-4 2 0 4-4 2 0 4-4 2 0 2-2 2 0 2-2 2 0 2-2 2 0 2-2 2 0 2-2 2 0 2-2 2 0 2-2 2 0 2-2 4 0 2-2 4 0 2-2 4 0 2-2 4 0 2-2 6 0 2-2 6 0 2-2z"/>
<path fill="#09f06e" d="M-44-220l10 0 2-2 64 0 2 2 10 0 2 2 6 0 2 2 0.7 0-22.7 8.5-18 7.5-10 2.8-6 0.4-6-0.4-34-6.9-8-0.9-6-0.1-8 1.3-6 2.4-6 4.5-3.7 4.9-1.7 4-0.6 4 1.1 6 4.9 8 14.6 18 5.4 8 5.6 12 3.9 14 0.9 12-0.6 12-2.6 18-7.4 36-1.1 12 0 10 1.1 10 5.1 20 3.5 10 7.5 18 2.3 8 1.4 12-1.4 12-1.8 6-2.4 5.5-6 9.4-8.8 9.1-11.2 8-8 4.2-8 3.2-38 12.2-26 12.6-18 6.9-2-1.1-4-4 0-2-8-8 0-2-4-4 0-2-4-4 0-2-4-4 0-2-2-2 0-2-2-2 0-2-2-2 0-2-2-2 0-2-2-2 0-2-2-2 0-2-2-2 0-2-2-2 0-4-2-2 0-4-2-2 0-4-2-2 0-4-2-2 0-6-2-2 0-6-2-2 0-10-2-2 0-64 2-2 0-10 2-2 0-6 2-2 0-6 2-2 0-4 2-2 0-4 2-2 0-4 2-2 0-4 2-2 0-2 2-2 0-2 2-2 0-2 2-2 0-2 2-2 0-2 2-2 0-2 2-2 0-2 2-2 0-2 4-4 0-2 4-4 0-2 4-4 0-2 8-8 0-2 28-28 2 0 8-8 2 0 4-4 2 0 4-4 2 0 4-4 2 0 2-2 2 0 2-2 2 0 2-2 2 0 2-2 2 0 2-2 2 0 2-2 2 0 2-2 2 0 2-2 4 0 2-2 4 0 2-2 4 0 2-2 4 0 2-2 6 0 2-2 6 0 2-2z"/>
<path fill="#1cf157" d="M-44-220l10 0 2-2 64 0 1.8 2-23.8 11.4-6 2.2-4 0.7-4-0.3-6-1.4-22-7.5-12-3.1 0-2zM-84-208l1.7 0-1.7 1.9 0-1.9zM-88-206l3.9 0-4.1 6-3.2 8-1.1 8 0.7 6 3.4 6 21 26 5.6 8 3.1 6 3.1 8 3 12 0.7 12-1.1 14-1.9 12-7.3 34-1.4 14-0.4 12 1.1 8 3.3 10 4 16 6.4 18 2.5 10 1 12-1.4 10-3.6 10-5.3 8.8-8 8.7-8.8 6.5-7.2 3.8-8 3.2-32 10.3-8 3.6-20 10.9-10 3.8-14 4.4 0-2-8-8 0-2-4-4 0-2-4-4 0-2-4-4 0-2-2-2 0-2-2-2 0-2-2-2 0-2-2-2 0-2-2-2 0-2-2-2 0-2-2-2 0-2-2-2 0-4-2-2 0-4-2-2 0-4-2-2 0-4-2-2 0-6-2-2 0-6-2-2 0-10-2-2 0-64 2-2 0-10 2-2 0-6 2-2 0-6 2-2 0-4 2-2 0-4 2-2 0-4 2-2 0-4 2-2 0-2 2-2 0-2 2-2 0-2 2-2 0-2 2-2 0-2 2-2 0-2 2-2 0-2 2-2 0-2 4-4 0-2 4-4 0-2 4-4 0-2 8-8 0-2 28-28 2 0 8-8 2 0 4-4 2 0 4-4 2 0 4-4 2 0 2-2 2 0 2-2 2 0 2-2 2 0 2-2 2 0 2-2 2 0 2-2 2 0 2-2z"/>
<path fill="#41f23d" d="M9-222l-5 1.6-6 0.7-4-0.5-6.9-1.8 21.9 0zM-100-200l2.8 0-1.5 6-0.6 8 0.6 6 1.8 6 2.9 4.5 21.5 27.5 4.5 6.4 3 5.6 3.4 8 3.2 12 0.7 10-0.9 14-2 12-7.6 34-1.8 16-0.6 12 0.6 6.3 3.9 11.7 3.3 16 5.7 22 1.1 12-1.1 10-2.9 9.1-5 8.9-7 8-6 4.6-6.2 3.4-7.8 3.3-32 10.7-8 4.2-14 8.9-5.8 2.9-24.2 7.1-2-1.1-2-2 0-2-4-4 0-2-4-4 0-2-4-4 0-2-2-2 0-2-2-2 0-2-2-2 0-2-2-2 0-2-2-2 0-2-2-2 0-2-2-2 0-2-2-2 0-4-2-2 0-4-2-2 0-4-2-2 0-4-2-2 0-6-2-2 0-6-2-2 0-10-2-2 0-64 2-2 0-10 2-2 0-6 2-2 0-6 2-2 0-4 2-2 0-4 2-2 0-4 2-2 0-4 2-2 0-2 2-2 0-2 2-2 0-2 2-2 0-2 2-2 0-2 2-2 0-2 2-2 0-2 2-2 0-2 4-4 0-2 4-4 0-2 4-4 0-2 8-8 0-2 28-28 2 0 8-8 2 0 4-4 2 0 4-4 2 0 4-4 2 0 2-2 2 0 2-2 2 0 2-2 2 0 2-2z"/>
<path fill="#69f427" d="M-108-196l3.2 0-0.3 6 0.5 6 1.3 6 2.4 6 2.9 4.8 18.8 25.2 6.7 10 5.6 12 3.1 12 0.6 10-1 12-1.9 10-7.6 32-2.1 14-1.3 14 0.3 10 3.7 18 4.1 30 0.4 10-1.2 10-2.6 8-3.6 6.5-6 6.9-6.2 4.6-9.8 4.7-20 7-8 3.3-8 4.6-14.9 10.4-7.1 3.8-10 3.4-16 3.9-2-1.1 0-2-4-4 0-2-4-4 0-2-2-2 0-2-2-2 0-2-2-2 0-2-2-2 0-2-2-2 0-2-2-2 0-2-2-2 0-2-2-2 0-4-2-2 0-4-2-2 0-4-2-2 0-4-2-2 0-6-2-2 0-6-2-2 0-10-2-2 0-64 2-2 0-10 2-2 0-6 2-2 0-6 2-2 0-4 2-2 0-4 2-2 0-4 2-2 0-4 2-2 0-2 2-2 0-2 2-2 0-2 2-2 0-2 2-2 0-2 2-2 0-2 2-2 0-2 2-2 0-2 4-4 0-2 4-4 0-2 4-4 0-2 8-8 0-2 28-28 2 0 8-8 2 0 4-4 2 0 4-4 2 0 4-4 2 0 2-2 2 0 2-2z"/>
<path fill="#94f714" d="M-112-194l1.3 0 1.5 12 3.7 10 4.6 8 15.8 22 8.8 14 4.5 10 2.8 12 0.2 10-1.2 10-9.4 38-4 24-0.9 14 1.4 22 0.1 8-1.2 14-2 11.1-2 6.3-3.2 6.6-3 4-4.3 4-7.5 4.2-18 5.3-6 2.9-6 5-15.4 18.6-4.6 4.2-5.6 3.8-9.4 4-17 4.5-2-0.5-2-2 0-2-2-2 0-2-2-2 0-2-2-2 0-2-2-2 0-2-2-2 0-2-2-2 0-2-2-2 0-2-2-2 0-4-2-2 0-4-2-2 0-4-2-2 0-4-2-2 0-6-2-2 0-6-2-2 0-10-2-2 0-64 2-2 0-10 2-2 0-6 2-2 0-6 2-2 0-4 2-2 0-4 2-2 0-4 2-2 0-4 2-2 0-2 2-2 0-2 2-2 0-2 2-2 0-2 2-2 0-2 2-2 0-2 2-2 0-2 2-2 0-2 4-4 0-2 4-4 0-2 4-4 0-2 8-8 0-2 28-28 2 0 8-8 2 0 4-4 2 0 4-4 2 0 4-4 2 0 2-2z"/>
<path fill="#b5f909" d="M-116-192l2 10 3.9 10 5.6 10 13.9 20 8.6 14 4.5 10 2.8 12 0.1 8-1.2 10-9.8 36-5 22-2.4 16-1.6 18-1.4 7.6-2 5.3-3.2 5.1-3.8 4-5 3.3-10 3.5-26.6 5.2-9.4 3.8-6.5 4.2-5.1 6-3.7 8-3.2 12-2.1 14-2.2 6-3.2 3.5-3.2 2.5-11.3 6-1.5 0 0-2-2-2 0-2-2-2 0-2-2-2 0-2-2-2 0-2-2-2 0-4-2-2 0-4-2-2 0-4-2-2 0-4-2-2 0-6-2-2 0-6-2-2 0-10-2-2 0-64 2-2 0-10 2-2 0-6 2-2 0-6 2-2 0-4 2-2 0-4 2-2 0-4 2-2 0-4 2-2 0-2 2-2 0-2 2-2 0-2 2-2 0-2 2-2 0-2 2-2 0-2 2-2 0-2 2-2 0-2 4-4 0-2 4-4 0-2 4-4 0-2 8-8 0-2 28-28 2 0 8-8 2 0 4-4 2 0 4-4 2 0 4-4z"/>
<path fill="#cafb06" d="M-122-188l1.7 0 2.8 10 4.6 10 5.9 10 16.1 24 4.4 8 3.2 8 2.2 10 0.2 8-1.3 10-3.8 14-21.7 66-2.6 6-3.7 6.2-6 6.4-10.4 7.4-9.6 5-20 7.6-9.5 5.4-6.5 4.9-6 6-5.2 7.1-11.8 22-3.7 6-3.3 4.2-2-0.2 0-4-2-2 0-4-2-2 0-4-2-2 0-4-2-2 0-6-2-2 0-6-2-2 0-10-2-2 0-64 2-2 0-10 2-2 0-6 2-2 0-6 2-2 0-4 2-2 0-4 2-2 0-4 2-2 0-4 2-2 0-2 2-2 0-2 2-2 0-2 2-2 0-2 2-2 0-2 2-2 0-2 2-2 0-2 2-2 0-2 4-4 0-2 4-4 0-2 4-4 0-2 8-8 0-2 28-28 2 0 8-8 2 0 4-4 2 0 4-4z"/>
<path fill="#dffc04" d="M-128-184l3.6 0 2.7 8 3.7 8 7.1 12 14.6 22 4.3 8 2.3 6 2 10 0.1 10-2.3 12-3.7 12-6.4 16.6-6 12.6-10 16.8-10 13.4-8 8.2-8 6.9-25.4 19.5-15.2 10-7.7 6-9.1 10-14.6 21.3 0-3.3-2-2 0-6-2-2 0-6-2-2 0-10-2-2 0-64 2-2 0-10 2-2 0-6 2-2 0-6 2-2 0-4 2-2 0-4 2-2 0-4 2-2 0-4 2-2 0-2 2-2 0-2 2-2 0-2 2-2 0-2 2-2 0-2 2-2 0-2 2-2 0-2 2-2 0-2 4-4 0-2 4-4 0-2 4-4 0-2 8-8 0-2 28-28 2 0 8-8 2 0 4-4z"/>
<path fill="#f4fe01" d="M-130-182l1.2 0 3.7 10 6.2 12 18 28 3.1 6 2.2 6 1.4 8 0 10-2.5 12-3.3 10.2-5.9 13.8-5.6 10-6.5 9.1-10 11.9-14 13.4-22.8 17.6-12.7 14-16.5 11.6-5.4 4.4-7.7 8-10.9 13.5 0-1.5-2-2 0-10-2-2 0-64 2-2 0-10 2-2 0-6 2-2 0-6 2-2 0-4 2-2 0-4 2-2 0-4 2-2 0-4 2-2 0-2 2-2 0-2 2-2 0-2 2-2 0-2 2-2 0-2 2-2 0-2 2-2 0-2 2-2 0-2 4-4 0-2 4-4 0-2 4-4 0-2 8-8 0-2 28-28 2 0 8-8 2 0 2-2z"/>
<path fill="#fff700" d="M-134-180l0.8 0 3.8 10 5.4 11.2 5.1 8.8 10.9 16.5 3.9 7.5 2.2 6 1.4 8-0.3 10-2.2 10-3.7 10-5.3 11-6 9.6-7.2 9.4-9.3 10-11.5 10.4-25.1 19.6-15.2 14-17.7 14.2-8 7.5-8 8.5-2-0.2 0-64 2-2 0-10 2-2 0-6 2-2 0-6 2-2 0-4 2-2 0-4 2-2 0-4 2-2 0-4 2-2 0-2 2-2 0-2 2-2 0-2 2-2 0-2 2-2 0-2 2-2 0-2 2-2 0-2 2-2 0-2 4-4 0-2 4-4 0-2 4-4 0-2 8-8 0-2 8-8 20-20 2 0 8-8z"/>
<path fill="#ffe700" d="M-138-176l1 0 4.9 12 6.1 12.7 13.3 21.3 4.1 10 1.5 8 0 8-1.5 8-2.8 8-4.9 10-6.2 10-7.8 10-9.5 10-16.2 14-28.8 22-25.2 20.9-12 11 0-51.9 2-2 0-10 2-2 0-6 2-2 0-6 2-2 0-4 2-2 0-4 2-2 0-4 2-2 0-4 2-2 0-2 2-2 0-2 2-2 0-2 2-2 0-2 2-2 0-2 2-2 0-2 2-2 0-2 2-2 0-2 4-4 0-2 4-4 0-2 4-4 0-2 8-8 0-2 6-6 22-22 2 0 4-4z"/>
<path fill="#ffd600" d="M-144-172l3.3 0 9.6 22 10.8 18 4.5 10 1.9 8 0.3 8-1.2 8-2.9 8-5.1 10-6.7 10-8.2 10-8.3 8.3-16 13.5-28.2 20.2-31.8 25.7 0-39.7 2-2 0-10 2-2 0-6 2-2 0-6 2-2 0-4 2-2 0-4 2-2 0-4 2-2 0-4 2-2 0-2 2-2 0-2 2-2 0-2 2-2 0-2 2-2 0-2 2-2 0-2 2-2 0-2 2-2 0-2 4-4 0-2 4-4 0-2 4-4 0-2 8-8 0-2 28-28z"/>
<path fill="#ffc600" d="M-146-170l0.8 0 9.2 21.1 10.4 18.9 3.9 10 1.4 8-0.2 8-1.2 6-3 8-5.3 9.8-6 8.5-8 9.1-10 9.4-14 11.5-29.1 19.7-24.9 18.8 0-28.8 2-2 0-10 2-2 0-6 2-2 0-6 2-2 0-4 2-2 0-4 2-2 0-4 2-2 0-4 2-2 0-2 2-2 0-2 2-2 0-2 2-2 0-2 2-2 0-2 2-2 0-2 2-2 0-2 2-2 0-2 4-4 0-2 4-4 0-2 4-4 0-2 8-8 0-2 26-26z"/>
<path fill="#ffb600" d="M-150-166l1.1 0 7 16 10.2 20 3.6 10 1.2 8-0.1 6-1.6 8-3.1 8-5.7 10-6.2 8-8.4 8.6-12 10.8-10 7.7-26.8 16.9-21.2 14.9 0-18.9 2-2 0-10 2-2 0-6 2-2 0-6 2-2 0-4 2-2 0-4 2-2 0-4 2-2 0-4 2-2 0-2 2-2 0-2 2-2 0-2 2-2 0-2 2-2 0-2 2-2 0-2 2-2 0-2 2-2 0-2 4-4 0-2 4-4 0-2 4-4 0-2 8-8 0-2 22-22z"/>
<path fill="#ffa600" d="M-154-162l1.4 0 14.7 32 3.4 10 1 8-0.2 6-1.7 8-2.6 6.7-4.1 7.3-6.1 8-7.9 8-13.9 12.5-8 5.8-26.1 15.7-17.9 11.7 0-9.7 2-2 0-10 2-2 0-6 2-2 0-6 2-2 0-4 2-2 0-4 2-2 0-4 2-2 0-4 2-2 0-2 2-2 0-2 2-2 0-2 2-2 0-2 2-2 0-2 2-2 0-2 2-2 0-2 2-2 0-2 4-4 0-2 4-4 0-2 4-4 0-2 8-8 0-2 18-18z"/>
<path fill="#ff9500" d="M-158-158l1.6 0 11.4 26 3.9 12 0.9 8-0.3 6-1.8 8-2.5 6-5 8-5.1 6-19.1 17.5-9.5 6.5-36.5 21.7 0-11.7 2-2 0-6 2-2 0-6 2-2 0-4 2-2 0-4 2-2 0-4 2-2 0-4 2-2 0-2 2-2 0-2 2-2 0-2 2-2 0-2 2-2 0-2 2-2 0-2 2-2 0-2 2-2 0-2 4-4 0-2 4-4 0-2 4-4 0-2 8-8 0-2 14-14zM-220.5-32l-1.5 0.9 0-0.9 1.5 0z"/>
<path fill="#ff8500" d="M-162-154l1.8 0 4.3 10 5.3 14 2.8 10 0.9 8-0.3 6-1.3 6-2.6 6-3.8 6-5 6-17.7 16-8.4 5.7-34 19.6 0-3.3 2-2 0-6 2-2 0-6 2-2 0-4 2-2 0-4 2-2 0-4 2-2 0-4 2-2 0-2 2-2 0-2 2-2 0-2 2-2 0-2 2-2 0-2 2-2 0-2 2-2 0-2 2-2 0-2 4-4 0-2 4-4 0-2 4-4 0-2 8-8 0-2 10-10z"/>
<path fill="#ff7300" d="M-166-150l1.7 0 2.6 6 3.8 10 3.4 12 1 8-0.1 6-1.3 6-1.6 4-3.5 5.9-4 4.9-16 14.6-8 5.5-30 17 0-1.9 2-2 0-6 2-2 0-4 2-2 0-4 2-2 0-4 2-2 0-4 2-2 0-2 2-2 0-2 2-2 0-2 2-2 0-2 2-2 0-2 2-2 0-2 2-2 0-2 2-2 0-2 4-4 0-2 4-4 0-2 4-4 0-2 8-8 0-2 6-6z"/>
<path fill="#ff5e00" d="M-170-146l1.5 0 3.4 8 3.4 10 1.7 8 0.1 10-1.4 6-1.7 4-3 4.7-4 4.8-12 10.9-10 6.8-22 12.3 0-5.5 2-2 0-4 2-2 0-4 2-2 0-4 2-2 0-2 2-2 0-2 2-2 0-2 2-2 0-2 2-2 0-2 2-2 0-2 2-2 0-2 2-2 0-2 4-4 0-2 4-4 0-2 4-4 0-2 8-8 0-2 2-2zM-216-60l1.1 0-1.1 0.6 0-0.6z"/>
<path fill="#ff4a00" d="M-174-140l2 0.4 4 10.1 2 7.5 0.4 4-0.4 5.7-2.8 8.3-5.5 8-9.7 9-10 7-18 10.1 0-2.1 2-2 0-4 2-2 0-4 2-2 0-2 2-2 0-2 2-2 0-2 2-2 0-2 2-2 0-2 2-2 0-2 2-2 0-2 2-2 0-2 4-4 0-2 4-4 0-2 4-4 0-2 6-6z"/>
<path fill="#ff3500" d="M-178-136l0.6 0 3.3 8 1.9 8-0.6 6-2.3 6-4.9 7.1-7.2 6.9-8.8 6.3-12 7 0-3.3 2-2 0-2 2-2 0-2 2-2 0-2 2-2 0-2 2-2 0-2 2-2 0-2 2-2 0-2 2-2 0-2 4-4 0-2 4-4 0-2 4-4 0-2 2-2z"/>
<path fill="#ff2100" d="M-184-128l1.3 0 1.3 6-0.5 6-1.5 4-2.4 4-4.2 4.8-6 5.1-6 4.1 0-2 2-2 0-2 2-2 0-2 2-2 0-2 2-2 0-2 2-2 0-2 4-4 0-2 4-4 0-2z"/>
</g></g></g>
<g clip-path="url(#disk)">
<path fill="none" stroke="#000" stroke-opacity="0.58" stroke-width="1.6" d="M148.6-152l-8.6 6.2-6 3.2-24 7.2-26.6 11.4-6.8 4-5.5 4-4 4-4.1 6-1.6 4-0.7 4-0.2 4 0.7 6 2.6 8 7.6 18 1.2 4 0.8 6-0.1 6-0.8 6-5.2 20-1.1 6 0 8 1.2 6 2.2 6 4.4 8 2.8 4 5.4 6 6.3 6 5.5 4.2 8 4.6 6 2.2 8 1.7 10 0.7 44-1.9 20 0.9 8-1.1 10-2.1M-15.7 212l-2.7-4-3.5-4-6.1-4.6-18-8.6-20-7.5-6-1.7-6-0.6-20 0.5-4 0.8-4.1 1.7M128-169l-7.8 5-6.2 3.1-24 8.1-12.4 4.8-17.6 7.8-18 9.2-6.7 5-5.4 6-3.9 6-3.5 8-1.7 6-1.4 8-2 24-1.5 10-4.5 14-7.4 14.8-3 7.2-2 8-0.3 6 1.1 6 1.6 4 3.8 6 5.1 6 5.7 5.4 8 6.4 19.4 12.2 8.4 6 5.4 6 3.5 6 0.9 4-0.3 6-4.7 14-5.1 10-13.5 22-17 22-5.4 6-7.6 6.1-4 2.3-6 2.6-24 6.6-8 1.4-22 2.5-46 2.2-10 3.7-12 6.2M156.7 144l0-14-1.3-8 0.4-4 0.8-2 3.4-3.1 8-3.2 20-10.7M106-185.3l-10 6.3-10 4.7-32 9.9-16 5.6-10 4-16 7.6-6 3.8-6 5.9-5 7.5-3.8 8-2.7 8-1.4 6-1.9 14-2.3 22-8.4 40-1.1 8-0.2 6 1.5 12 2 8 2.1 6 7.2 14.9 14.5 25.1 3.2 8 1.3 6 0.3 8-2 10-5 12-7.1 12-7.9 10-9.3 8.8-10 6.9-12 6.2-15.9 6.1-27.8 8-14.3 1.8-6 1.4-12 4-12 5.4M66.6-202l-10.6 3.2-20 4.8-20 6.8-6 1.6-8 1.1-18 1-10.8 1.5-5.2 1.7-4 2-2.9 2.3-1.6 2-1.6 4-0.2 4 2.3 18 4 23.1 0.4 4.9-0.1 8-0.8 12-2 14-8.7 44-0.9 10-0.1 10 1 10 3.4 18 4.5 12 9.7 20 2.9 8 1.7 6 0.8 6 0 8-1.2 8-1.7 6-2.4 6-2.5 4.7-3.5 5.3-4.5 5.4-4.6 4.6-5 4-12.3 8-8.1 4.2-10 4.1-36 10.6-10 3.5-6 2.5-18 8.7M-96.8-190l-0.1 8 0.7 4 1.4 4 25.1 32 3.7 5.4 5.2 10.6 2.8 8 1.4 6 1 12-1 14-1.9 12-7.6 34-1.5 14-0.7 14 0.7 6 3.6 10 4.1 18 6.4 22 1.4 12-0.9 10-3 10-4.3 8-6.4 8-7.3 6.3-6.5 3.7-9.1 4-28.4 9.1-6 2.3-6 3.1-18 10.8-14 4.9M-112-180.5l2.4 6.5 5.4 10 16.7 24 8.4 14 4.1 10 2.2 10 0.2 8-1.1 10-10 38-4.8 24-1.5 14-0.8 22-1.2 7-2.5 7-3.5 6.1-4 4.4-4 2.7-4 1.7-6 1.4-26 2.1-9.8 3.6-6.4 4-3.2 4-1.6 4-0.9 4-2.4 16 0.7 12-0.8 4-1.6 2.8-3.6 3.2-4.4 2.5-8.4 3.5M-124-172.8l3.3 6.8 5.8 10 10.9 16 4.7 8 4.1 8 1.8 6 1.2 8-0.4 10-2.6 12-4.8 13.8-5.4 12.2-5.7 10-8.9 12.3-8 9.4-14 13.4-20 15-12 13.7-16 10.9-6.9 5.3-5.1 5.1-6 7.1M-136.2-164l7.4 16 7.7 12 4.4 8 3.6 10 1.1 8-0.4 8-1.4 6-3.1 8-5.1 9.8-5.5 8.2-8.1 10-8.4 8.6-18 15.2-25.2 18.2-24.9 20M-147.2-152l11.4 24 1.8 4.8 1.2 5.2 0.7 8-0.5 6-1.4 6-3.2 8-4.8 8-6 7.6-8 8-12 10.8-10 7.4-32.9 20.2M-159.1-140l5.1 16 1.5 10-0.1 6-0.6 4-1.2 4-1.9 4-3.7 5.6-3.7 4.4-14.3 13.2-8 5.8-20 11.5M-172-124l0.7 4-0.2 4-0.9 4-2.7 6-2.9 4.2-4 4.4-6 5.2-6 4.3"/>
</g>
<circle r="200" fill="none" stroke="#000" stroke-width="3.4"/>
<path d="M-36 -198.4L-8.4 -227.4Q-5 -230 0 -230Q5 -230 8.4 -227.4L36 -198.4" fill="none" stroke="#000" stroke-width="2.8" stroke-linejoin="round"/>
<path d="M-197.3 -44.4L-201.5 -47.3L-211.6 -47.3L-215.2 -41.8L-216 -20L-216.5 10L-217 33L-216.6 41L-214.2 47.5L-210 53.2L-201.4 53.8L-195.6 50" fill="none" stroke="#111" stroke-width="2.5" stroke-linejoin="round"/>
<path d="M197.3 -44.4L201.5 -47.3L211.6 -47.3L215.2 -41.8L216 -20L216.5 10L217 33L216.6 41L214.2 47.5L210 53.2L201.4 53.8L195.6 50" fill="none" stroke="#111" stroke-width="2.5" stroke-linejoin="round"/>
<circle cx="0" cy="-214.4" r="2.8" fill="#111"/>
<circle cx="-91.2" cy="-181" r="2.8" fill="#111"/>
<circle cx="92.5" cy="-181" r="2.8" fill="#111"/>
<circle cx="-164.7" cy="-119.2" r="2.8" fill="#111"/>
<circle cx="165" cy="-119.2" r="2.8" fill="#111"/>
<circle cx="-203" cy="0" r="2.8" fill="#111"/>
<circle cx="203.7" cy="0" r="2.8" fill="#111"/>
<circle cx="-164.7" cy="118.6" r="2.8" fill="#111"/>
<circle cx="165" cy="118.6" r="2.8" fill="#111"/>
<circle cx="-91.2" cy="180.4" r="2.8" fill="#111"/>
<circle cx="92.5" cy="180.4" r="2.8" fill="#111"/>
<circle cx="0" cy="213.1" r="2.8" fill="#111"/>
<circle cx="-83.5" cy="-102.9" r="2.8" fill="#111"/>
<circle cx="0" cy="-102.2" r="2.8" fill="#111"/>
<circle cx="83.5" cy="-102.9" r="2.8" fill="#111"/>
<circle cx="-146.3" cy="-56.8" r="2.8" fill="#111"/>
<circle cx="-50.1" cy="-50.1" r="2.8" fill="#111"/>
<circle cx="54.1" cy="-53.4" r="2.8" fill="#111"/>
<circle cx="156.6" cy="-59.5" r="2.8" fill="#111"/>
<circle cx="-102.2" cy="0" r="2.8" fill="#111"/>
<circle cx="0" cy="0" r="2.8" fill="#111"/>
<circle cx="102.2" cy="0" r="2.8" fill="#111"/>
<circle cx="-146.3" cy="55.8" r="2.8" fill="#111"/>
<circle cx="-50.1" cy="50.1" r="2.8" fill="#111"/>
<circle cx="54.1" cy="53.4" r="2.8" fill="#111"/>
<circle cx="156.6" cy="60.1" r="2.8" fill="#111"/>
<circle cx="-83.5" cy="102.9" r="2.8" fill="#111"/>
<circle cx="0" cy="101.9" r="2.8" fill="#111"/>
<circle cx="83.5" cy="102.9" r="2.8" fill="#111"/>
</g>
</g>
</svg>
</figure>
</body>
</html>
